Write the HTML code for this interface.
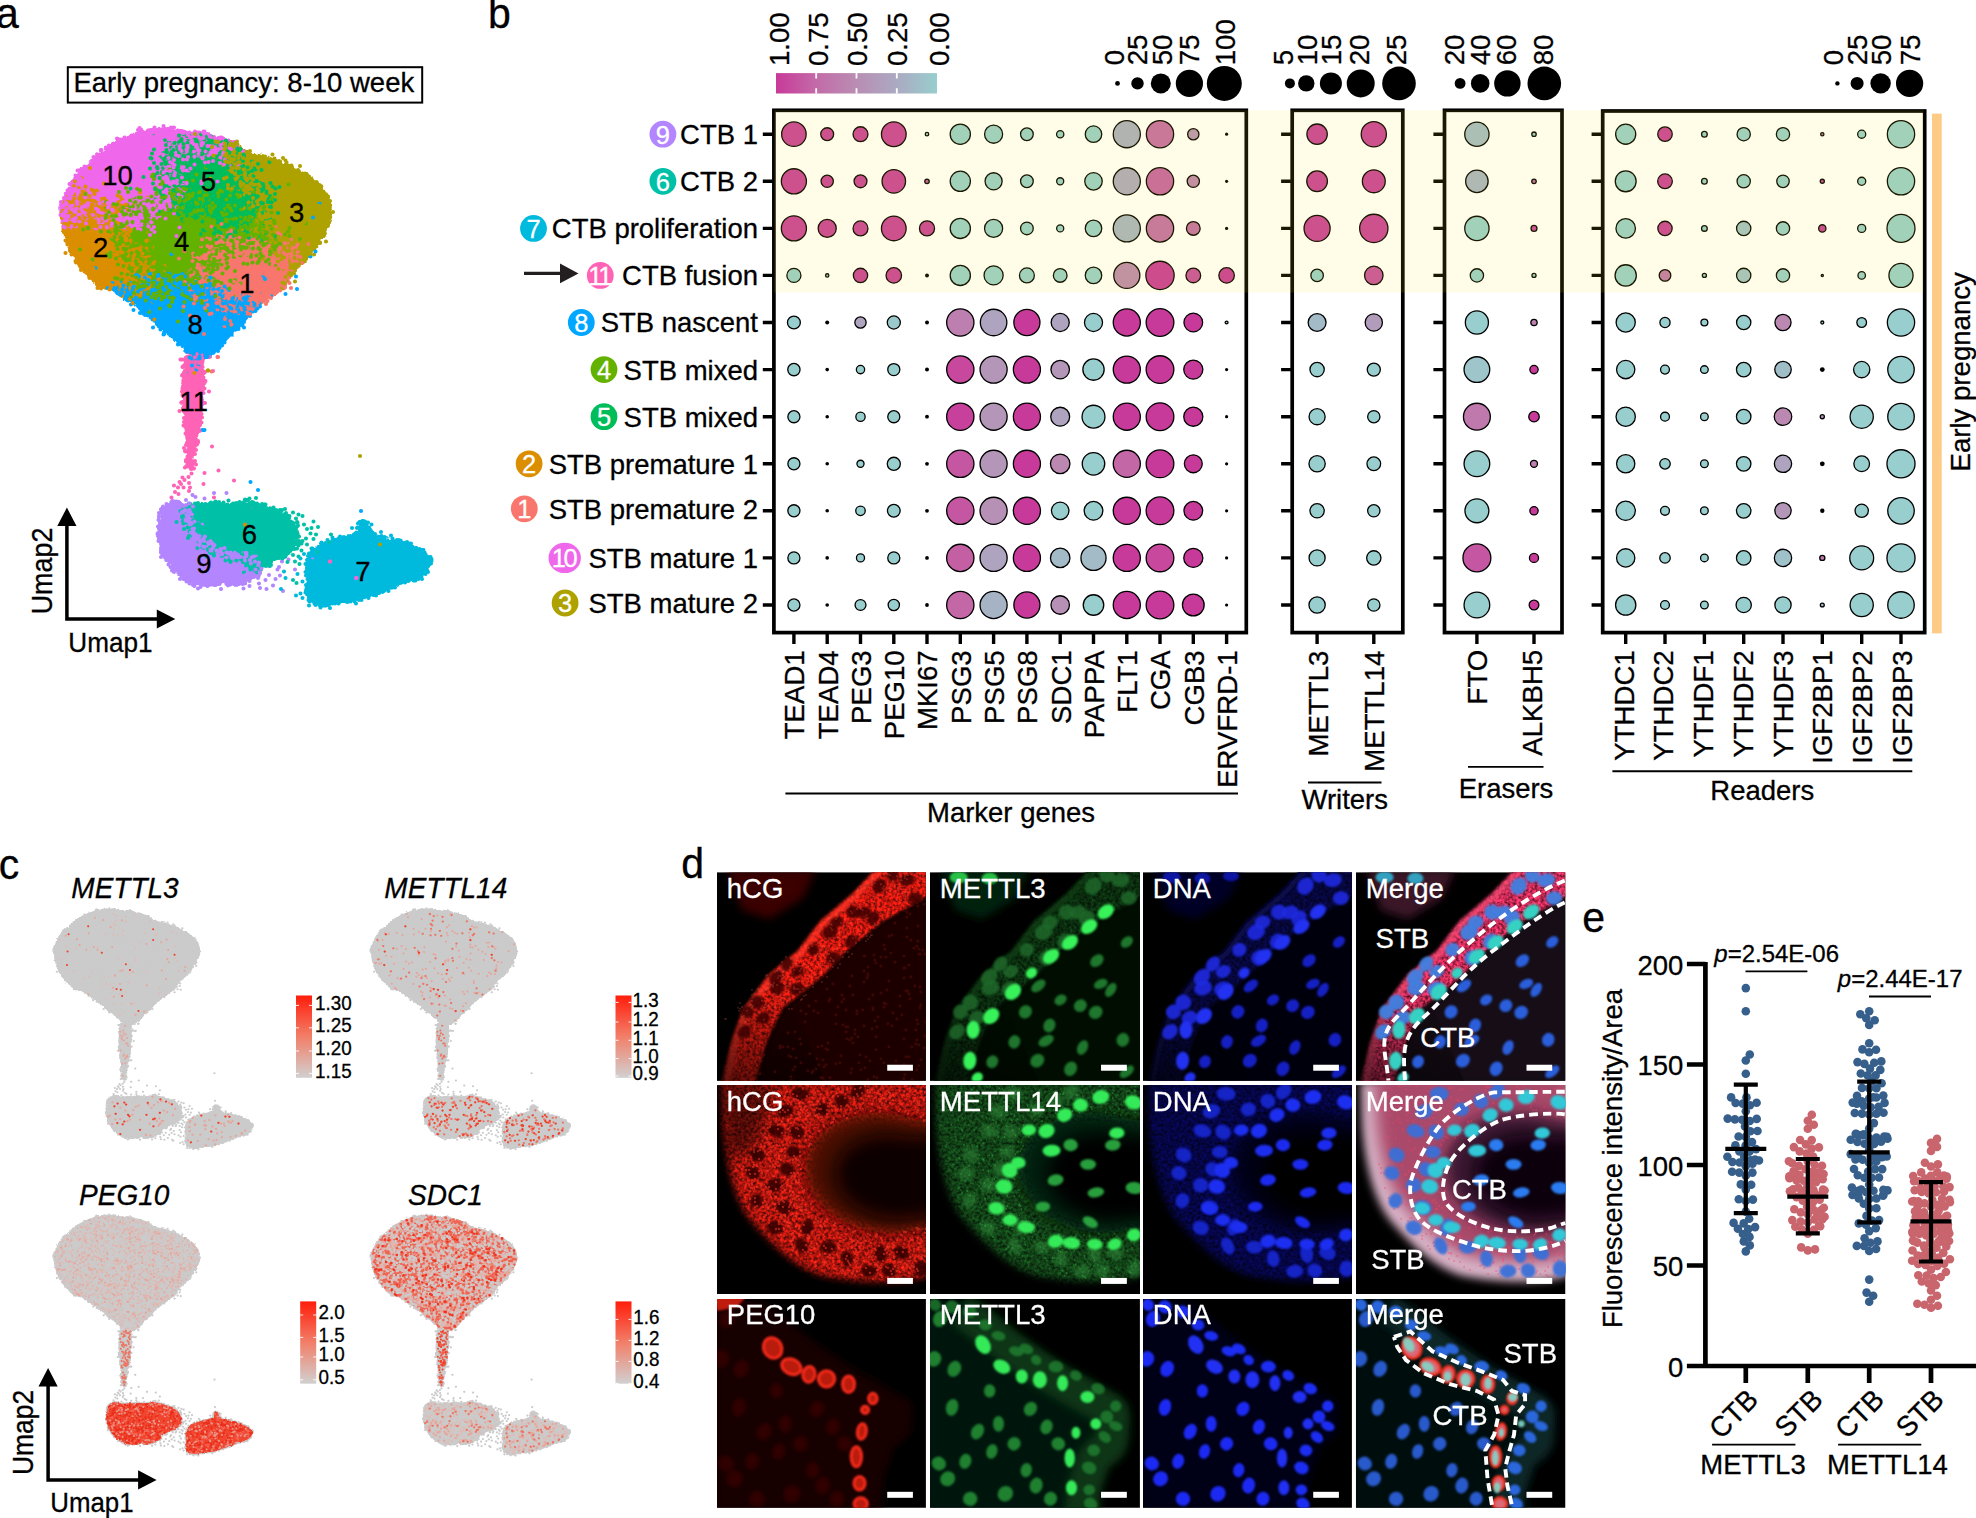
<!DOCTYPE html>
<html lang="en"><head><meta charset="utf-8"><title>Figure</title>
<style>html,body{margin:0;padding:0;background:#fff}svg{display:block}text{font-family:"Liberation Sans",sans-serif;fill:#000;stroke:#000;stroke-width:.3px}.t{font-size:27.5px}.v{font-size:27.6px}.pl{font-size:41px}.w{fill:#fff;stroke:#fff}.i{font-style:italic}</style></head><body>
<svg width="1976" height="1518" viewBox="0 0 1976 1518">
<rect width="1976" height="1518" fill="#fff"/>
<defs><filter id="rough" x="-5%" y="-5%" width="110%" height="110%"><feTurbulence type="fractalNoise" baseFrequency=".09" numOctaves="2" seed="4" result="n"/><feDisplacementMap in="SourceGraphic" in2="n" scale="13" xChannelSelector="R" yChannelSelector="G"/></filter><path id="p0" d="M151 419L187 362L258 309L350 298L450 291L542 337L614 380L635 441L589 526L518 594L436 665L400 682L329 629L251 576L187 540L144 469Z"/><path id="p10" d="M122 413L130 389L144 364L165 336L193 312L225 287L260 270L295 259L330 256L365 263L400 263L435 273L470 285L449 305L400 294L351 301L340 329L351 364L337 392L309 420L281 434L253 441L225 434L190 424L155 420L137 431L123 434Z"/><path id="d10a" fill="none" d="M299 261h0m4-1h0m6-5h0m13 5h0m13 0h0m32 3h0m-118 12h0m14-4h0m28 4h0m9 0h0m54-3h0m14-1h0m28-4h0m1-2h0m0 4h0m1 4h0m2 2h0m2-2h0m3-5h0m23 6h0m13 1h0m-201 6h0m1-2h0m15 4h0m1-3h0m0 0h0m28-1h0m1 5h0m3-5h0m3-2h0m12 9h0m22-5h0m9 2h0m4-7h0m7 1h0m24 6h0m1-2h0m10-4h0m20 1h0m6 9h0m1-7h0m7 0h0m10 6h0m3 0h0m10-9h0m7 4h0m3 5h0m6-3h0m5 3h0m6 1h0m-248 9h0m4-1h0m7-5h0m0 3h0m2 4h0m118-7h0m4 10h0m1 0h0m1-11h0m2 2h0m6 9h0m1-1h0m5-8h0m2-3h0m11 11h0m10 0h0m3 1h0m6-5h0m3-2h0m5 1h0m12 4h0m12-3h0m4 3h0m8 1h0m4-2h0m0-2h0m6-7h0m3 0h0m0 8h0m0-5h0m10 2h0m7 6h0m2-5h0m-271 15h0m7-3h0m3 5h0m6-6h0m2 2h0m14-5h0m91 3h0m13 1h0m10 5h0m1-4h0m18 5h0m4-6h0m11 3h0m38-4h0m6-3h0m1 3h0m8 1h0m3-6h0m2 4h0m3-1h0m0 6h0m3-8h0m19 4h0m-281 9h0m15-1h0m4 2h0m0-1h0m8 8h0m2-10h0m14 11h0m16-10h0m93 8h0m7-9h0m4 10h0m6-6h0m4-3h0m30 2h0m4-2h0m35-1h0m11 6h0m11 3h0m14-5h0m15-3h0m-311 20h0m12 0h0m1-1h0m7-6h0m148 4h0m10 3h0m13-8h0m13-1h0m86 12h0m-301 5h0m5 6h0m21-1h0m149-8h0m5 1h0m1 2h0m3 6h0m4-9h0m2 8h0m4-5h0m4-2h0m-203 14h0m11-1h0m12-4h0m2 10h0m133-8h0m14 10h0m24-11h0m10 10h0m-212 11h0m1-9h0m140 5h0m45 4h0m14-5h0m3 4h0m0-9h0m6 7h0m6-1h0m4-4h0m-230 19h0m12-8h0m3 1h0m5 6h0m2-7h0m2 4h0m159 3h0m14 1h0m6 3h0m2-6h0m1 2h0m3-5h0m6-2h0m2 0h0m0 1h0m-220 13h0m6-3h0m188 1h0m1 3h0m4 3h0m6 3h0m6-8h0m2 5h0m5 3h0m7-2h0m-227 4h0m1 4h0m17-4h0m3 1h0m30 2h0m29 9h0m36-4h0m31 0h0m8 3h0m17-10h0m16 10h0m22-10h0m2 1h0m21 8h0m-231 10h0m0-1h0m8-2h0m6-3h0m1 10h0m10-8h0m5-3h0m1 9h0m6-7h0m0 5h0m0 2h0m9-7h0m1 2h0m4-3h0m8 7h0m18-4h0m24 6h0m43-6h0m5 2h0m6 1h0m6-4h0m13-1h0m10 4h0m1 4h0m0-10h0m3 2h0m6 0h0m4 4h0m1-1h0m33 1h0m-242 6h0m5 5h0m4 5h0m2-6h0m4 2h0m5-7h0m2 8h0m0-5h0m3 6h0m4 0h0m1-7h0m6 10h0m0-4h0m15-2h0m3-1h0m4 7h0m1-4h0m3-4h0m5-1h0m2 1h0m1 0h0m5 1h0m13 4h0m2-8h0m21 8h0m12-7h0m19 2h0m6-3h0m0-1h0m8 11h0m6-8h0m23 7h0m1-4h0m-184 16h0m1 2h0m5-2h0m4-8h0m3 8h0m4-8h0m3 0h0m5 9h0m8-8h0m1 8h0m30-8h0m1-2h0m7 5h0m3 6h0m4-1h0m5-3h0m9 2h0m7-2h0m15-4h0m10-1h0m11-2h0m3 3h0m6 5h0m7 1h0m7-10h0m7 8h0m5-4h0m-166 19h0m14-3h0m8 1h0m46-8h0m7 0h0m1-1h0m11 9h0m29-2h0m7 0h0m1-2h0m6-2h0m1 5h0m9-4h0m4 4h0m11-3h0m12 4h0m5-9h0m-110 13h0m39 5h0m45-4h0m5 1h0m-20 12h0m92 1h0m152 539h0m155 112h0"/><path id="d10b" fill="none" d="M282 259h0m14 2h0m14 1h0m16 0h0m1-10h0m2 5h0m4 6h0m11-2h0m46 2h0m-129 11h0m8-2h0m11-3h0m16 3h0m0-5h0m14 6h0m3-9h0m5 1h0m2 7h0m0-4h0m5 0h0m2-1h0m0 6h0m6 0h0m8 0h0m11-4h0m13-4h0m8 9h0m6-1h0m0-8h0m1 9h0m0-6h0m2 7h0m5-2h0m18-2h0m4-2h0m6-1h0m4 5h0m-185 4h0m4 4h0m4 5h0m14-9h0m30-1h0m3 8h0m3 1h0m19-7h0m30 1h0m4 4h0m2-6h0m9 3h0m5-3h0m3 3h0m4 6h0m2-4h0m9 4h0m3 2h0m1-6h0m9-2h0m24 1h0m6-3h0m9 3h0m3 5h0m2-8h0m0 4h0m6-6h0m0 1h0m8 3h0m5 6h0m5-1h0m5 2h0m4 0h0m2-3h0m-259 11h0m6-4h0m5 1h0m2 6h0m34-4h0m75 0h0m12 4h0m5-10h0m1 5h0m10-4h0m11 8h0m5-2h0m4-1h0m12-2h0m14 7h0m1-10h0m4 1h0m0 7h0m4-3h0m3-4h0m4-1h0m5 10h0m3-2h0m20-4h0m8 1h0m4 0h0m2-1h0m1 2h0m-265 6h0m3 10h0m5-2h0m82-9h0m23 10h0m6-5h0m14 6h0m5-7h0m11 1h0m13 5h0m2 0h0m3-9h0m4 8h0m3 0h0m17-5h0m31-1h0m1 5h0m4-5h0m4-2h0m1 5h0m3-1h0m1 2h0m1 0h0m1 5h0m0-5h0m1 2h0m6-7h0m4 5h0m0-4h0m35-1h0m-290 20h0m8 2h0m17-10h0m9 2h0m87 2h0m18 0h0m6 1h0m1-3h0m30 2h0m30-2h0m8-3h0m7 11h0m-225 10h0m129-8h0m10 6h0m4-1h0m1-4h0m3 5h0m5-5h0m4-3h0m0 2h0m12 8h0m2 1h0m27-6h0m72-1h0m17 3h0m-311 12h0m2-2h0m1-1h0m36 0h0m133 0h0m5 5h0m5-5h0m28 1h0m-226 15h0m0-5h0m173 2h0m3 3h0m4 2h0m7-4h0m10 5h0m0-6h0m7 4h0m1-2h0m3-7h0m-214 16h0m1 6h0m11-1h0m29-9h0m1 0h0m141 11h0m4-10h0m10 7h0m5-3h0m0-1h0m1-1h0m17 8h0m8-5h0m30-3h0m32 0h0m-296 14h0m5-2h0m14 3h0m182 2h0m14-5h0m-197 9h0m6 1h0m8 3h0m31 6h0m62-3h0m3 1h0m72 2h0m12-7h0m6-3h0m-225 13h0m12 9h0m6-2h0m2-2h0m6 2h0m15-2h0m11 1h0m92 2h0m25-6h0m16 9h0m0-11h0m5 1h0m2 7h0m10 1h0m4-5h0m17 0h0m-233 9h0m9 8h0m2-2h0m2-2h0m3 5h0m18-3h0m12-5h0m2 6h0m2-2h0m8-6h0m15 10h0m7-9h0m14-1h0m18 10h0m28-11h0m32 3h0m8 9h0m1-9h0m2-2h0m9 4h0m5-1h0m1 5h0m20-8h0m13 2h0m-225 13h0m2 2h0m5 4h0m0-4h0m4 3h0m4 0h0m0 2h0m0-2h0m11-5h0m3 2h0m1 1h0m4-1h0m13 2h0m2 2h0m6-3h0m7-1h0m15-1h0m11 5h0m1-1h0m3-4h0m4 0h0m2 1h0m10-1h0m2 5h0m16-1h0m12 1h0m14 1h0m2-4h0m19-4h0m1 4h0m4-6h0m1 10h0m-157 9h0m17-4h0m3-2h0m4 6h0m26-4h0m4 1h0m4 0h0m5 3h0m3 2h0m15-6h0m0-2h0m7 8h0m1-6h0m19-1h0m1 3h0m1-3h0m1 5h0m4 2h0m4-7h0m0 9h0m14-5h0m14-1h0m6-3h0m6 6h0m3-4h0m7-4h0m-133 21h0m28-1h0m8-1h0m11 1h0m12-5h0m8 5h0m11 0h0m5-3h0m8 0h0m3-5h0m13 4h0m-153 8h0m4 10h0m106-10h0m5 1h0m48 1h0m-71 11h0"/><path id="d10c" fill="none" d="M276 260h0m3-4h0m4 8h0m53-6h0m6-3h0m6 0h0m15 7h0m44 1h0m2 0h0m-147 10h0m3 1h0m5-3h0m1 4h0m6-7h0m1-2h0m1-1h0m22 4h0m3 5h0m10-3h0m1-3h0m20 5h0m0 2h0m1-6h0m1 6h0m10 0h0m19-10h0m1 1h0m9 4h0m4 4h0m5-7h0m1 0h0m3 5h0m8 2h0m9-9h0m1 11h0m1-8h0m14 6h0m16 2h0m-202 8h0m0-6h0m5 9h0m1-3h0m0-2h0m11 0h0m11-5h0m3 3h0m6-2h0m7 5h0m15-6h0m43 2h0m1 9h0m15-10h0m30 4h0m3 6h0m14-10h0m5 9h0m25-9h0m3 6h0m0 0h0m13 3h0m15 0h0m2-2h0m5 2h0m-267 13h0m26-5h0m7-7h0m6 10h0m118-5h0m1 5h0m13 2h0m2-6h0m0-2h0m17 2h0m1-4h0m2 6h0m0 1h0m8-6h0m12 1h0m5 0h0m4 1h0m1 1h0m4 5h0m1-4h0m7 3h0m4-8h0m3 7h0m15-1h0m2-3h0m2 5h0m8-7h0m-268 9h0m9 6h0m3 4h0m1-9h0m1 1h0m2 6h0m17 3h0m90-2h0m26 1h0m5 2h0m6-10h0m11-1h0m14 2h0m8-2h0m1 7h0m2-7h0m12 2h0m6 8h0m4-6h0m0 3h0m4-6h0m4 2h0m5-3h0m12 7h0m4 2h0m2 0h0m-252 10h0m2-2h0m4 2h0m7-3h0m7 5h0m117-6h0m11 4h0m18-1h0m8 0h0m2-5h0m13-1h0m16 4h0m21 5h0m15-7h0m9 4h0m-261 11h0m0 2h0m9 3h0m4-6h0m138-5h0m5 3h0m2 8h0m2-5h0m18 4h0m43-9h0m30 1h0m8 3h0m-293 12h0m7 2h0m1-2h0m15 3h0m12-5h0m137 6h0m13-3h0m10 4h0m14-10h0m2 5h0m7 0h0m8-4h0m-220 20h0m6-7h0m4 7h0m156-1h0m5-3h0m3 4h0m14-6h0m15 4h0m-225 13h0m15 0h0m7 2h0m0-7h0m58 5h0m114-3h0m4-3h0m3 6h0m5-4h0m2 1h0m7 2h0m0-6h0m19 6h0m30 0h0m-268 14h0m13-3h0m3 2h0m25 0h0m146-5h0m11 4h0m24-1h0m8 1h0m4 2h0m-230 8h0m6-3h0m25 9h0m100-11h0m57 0h0m7 2h0m4 9h0m1-10h0m18 4h0m6 4h0m-241 11h0m6-8h0m4 9h0m6-9h0m3 1h0m14 11h0m21-2h0m21-7h0m2 8h0m16-1h0m73 1h0m7-10h0m6 6h0m2 2h0m9-4h0m0 1h0m2 2h0m15 0h0m5-3h0m5 1h0m10-5h0m-225 17h0m0-1h0m5-3h0m4 8h0m1-10h0m10 11h0m1-8h0m7 7h0m1-1h0m9 1h0m2-4h0m5-1h0m7-3h0m40 5h0m2-3h0m6 7h0m46-5h0m0 4h0m15 2h0m24-9h0m10 4h0m1-3h0m2 4h0m1-2h0m5-6h0m0 6h0m4 5h0m8-5h0m13 0h0m-232 16h0m6-3h0m3-4h0m3 0h0m16 1h0m16-1h0m5 3h0m16 4h0m10-7h0m1-2h0m7 5h0m22-5h0m13 8h0m7 0h0m2-8h0m11 7h0m43-7h0m3 10h0m1-1h0m0-4h0m5 5h0m2-10h0m35 6h0m-220 6h0m2 7h0m3-8h0m1 8h0m1-7h0m2 0h0m8 6h0m2 3h0m5-6h0m46 5h0m8-4h0m19-2h0m1 4h0m10-1h0m6-4h0m1 7h0m4 3h0m2-5h0m3-3h0m5 0h0m1 0h0m3 7h0m8-6h0m0 2h0m4-3h0m4 6h0m3-8h0m4 2h0m47 1h0m-204 16h0m45-6h0m29 7h0m13 1h0m9-5h0m1-3h0m14 6h0m9 2h0m10-7h0m3 1h0m12 0h0m4-4h0m6 5h0m21-5h0m5 9h0m51 1h0m-50 9h0m-9 6h0m412 686h0"/><path id="p2" d="M123 434L137 420L155 406L190 413L225 424L242 434L235 469L253 497L281 511L295 539L281 567L253 592L225 578L200 574L179 557L155 525L137 494L127 462Z"/><path id="d2a" fill="none" d="M208 367h0m-47 10h0m13 3h0m9-1h0m-47 14h0m14 1h0m-23 11h0m4-4h0m2-5h0m2 10h0m12-4h0m0 0h0m6 3h0m9 0h0m2-3h0m1-5h0m1 2h0m15 0h0m1 2h0m55 3h0m7-5h0m1 1h0m-113 9h0m8 9h0m0-6h0m24 7h0m8-3h0m15 3h0m2-1h0m15-3h0m3-6h0m6 10h0m5-2h0m8-1h0m20-3h0m7 6h0m-130 11h0m2-5h0m10 3h0m3-3h0m1 6h0m0-6h0m1-1h0m8-2h0m24-2h0m15 12h0m19-1h0m11 0h0m3-8h0m4 5h0m2-5h0m1 6h0m3-6h0m5 0h0m6 5h0m5 2h0m9 0h0m0 1h0m-131 4h0m3 8h0m3-10h0m0 1h0m2 6h0m27-5h0m4 2h0m38-2h0m9-1h0m4 4h0m6-4h0m6 5h0m9 0h0m10-2h0m2-1h0m3 3h0m-123 17h0m19-6h0m12 2h0m32-6h0m41 6h0m21 3h0m-107 7h0m7 2h0m82-8h0m3 11h0m8 0h0m6-7h0m8 2h0m3-4h0m15-1h0m20 8h0m-162 5h0m4-1h0m5 7h0m6-4h0m5 5h0m63 0h0m16-9h0m1 1h0m9 5h0m5-4h0m-115 11h0m1 8h0m1-5h0m8 7h0m83-6h0m20 0h0m21 4h0m25-8h0m-152 18h0m17 4h0m19-7h0m47 0h0m9-1h0m4 7h0m2-2h0m10 3h0m5-2h0m1-8h0m0 4h0m4-3h0m3 1h0m2 8h0m41-8h0m-174 11h0m12 3h0m17 5h0m5 1h0m18-6h0m22 5h0m42-9h0m5 2h0m16 5h0m20 3h0m2 1h0m3-4h0m4-6h0m-133 10h0m0 7h0m5-3h0m58 7h0m10-7h0m9 6h0m15-3h0m5 0h0m0-2h0m1-4h0m6 3h0m6 3h0m13 1h0m3 4h0m-135 2h0m2 10h0m6-11h0m2 7h0m101-8h0m4 6h0m8-6h0m1 2h0m15 1h0m4 6h0m4 2h0m-115 8h0m15 4h0m54 0h0m4-6h0m12 1h0m4-2h0m11 1h0m3 0h0m7-3h0m6 9h0m-121 9h0m7-4h0m12-2h0m8 6h0m3-3h0m9 3h0m1-7h0m4 2h0m12-2h0m21 6h0m2-3h0m2 6h0m9-9h0m10 4h0m0-5h0m1 11h0m9-3h0m0 1h0m19-5h0m2 1h0m-116 12h0m3 1h0m2 3h0m6-4h0m9 6h0m2-11h0m2 5h0m10 1h0m20 2h0m2 1h0m15-4h0m4-3h0m14 7h0m2-3h0m0 1h0m-91 6h0m35 8h0m10-5h0m19-1h0m10 2h0m0 1h0m12 0h0m-29 9h0m7 3h0m1 8h0m39 3h0m-9 16h0"/><path id="d2b" fill="none" d="M150 363h0m-2 9h0m0 16h0m11 8h0m3-6h0m17 2h0m10-4h0m52 6h0m39-9h0m15 10h0m-157 9h0m3 0h0m5 1h0m0 2h0m12-10h0m19 4h0m1 0h0m11 1h0m9 1h0m15-1h0m-80 14h0m1 2h0m23-2h0m3-1h0m2-6h0m0 1h0m2 2h0m6 2h0m26-4h0m4-1h0m5 9h0m3 2h0m1-4h0m16-4h0m3 2h0m3 1h0m10-4h0m8 0h0m-121 10h0m2 11h0m2-7h0m0 0h0m1 2h0m7-2h0m4 0h0m1-5h0m4 9h0m10-7h0m9-1h0m7 1h0m1 3h0m3 7h0m12-8h0m0 2h0m16 5h0m8-9h0m10 6h0m2 1h0m5 2h0m3-5h0m13 4h0m-100 9h0m6-3h0m23 6h0m11-9h0m10-1h0m5 8h0m4-2h0m14 4h0m7-9h0m14 1h0m-113 13h0m10-2h0m11 5h0m34 1h0m6 0h0m28 2h0m17-7h0m11 7h0m5-1h0m1-7h0m2 0h0m-115 20h0m20-6h0m60 1h0m8 6h0m26 1h0m-119 4h0m8 6h0m77 1h0m5-7h0m6 2h0m4 5h0m3-2h0m12-5h0m4 5h0m49 3h0m-171 2h0m9 8h0m4-8h0m22 9h0m73-1h0m2-1h0m3 2h0m9-9h0m5 8h0m3-4h0m3-2h0m-122 9h0m54 11h0m28-8h0m10 6h0m34-3h0m13 2h0m2-8h0m10 5h0m-142 14h0m2-3h0m19 4h0m71-1h0m12 2h0m5-9h0m12 4h0m6 6h0m2 1h0m5-8h0m-133 18h0m3-7h0m1 2h0m4 4h0m12-7h0m46 11h0m47-7h0m8 4h0m3-6h0m33 5h0m-150 6h0m2 4h0m3 2h0m5 4h0m5-11h0m5 8h0m4-3h0m2-5h0m20 8h0m38-1h0m32 2h0m9-7h0m10-2h0m1 3h0m1 4h0m2-5h0m0-1h0m1 0h0m6 6h0m-127 14h0m0-4h0m0 4h0m5 1h0m0-4h0m7 2h0m7 0h0m3-3h0m2 6h0m8-2h0m0 0h0m47-4h0m16-5h0m5 8h0m7-8h0m7 3h0m1-3h0m0 3h0m35 0h0m-149 10h0m16 7h0m6-9h0m49 9h0m3-2h0m5-5h0m8 0h0m21-1h0m1 8h0m2-8h0m2 6h0m-95 12h0m9-1h0m2 0h0m11-2h0m3 5h0m1-3h0m3 2h0m10-8h0m4 5h0m8 6h0m12-5h0m13 6h0m1-10h0m10 8h0m-56 5h0m11 6h0m6 1h0m1 1h0m7-5h0m1 0h0m6-5h0m1 2h0m2 4h0m15-6h0m18 0h0m-52 15h0m16 6h0m7-7h0m5 4h0m9-5h0m-15 16h0m123 140h0"/><path id="d2c" fill="none" d="M180 336h0m-16 19h0m-6 19h0m7 9h0m6-10h0m16 9h0m7-1h0m-24 8h0m1-4h0m0 9h0m64-3h0m-101 12h0m0 4h0m12-4h0m2-6h0m9 11h0m5-8h0m5 2h0m1 1h0m2-5h0m4 3h0m2 4h0m8-4h0m10 4h0m8-7h0m7-1h0m-60 17h0m3-2h0m3 6h0m4-7h0m2 6h0m17-8h0m4 4h0m3-4h0m11-1h0m3 5h0m11-3h0m5 8h0m8-1h0m1 2h0m1-4h0m7-4h0m2 9h0m8-6h0m10-5h0m15 2h0m-144 16h0m3-6h0m2 11h0m4-4h0m7-5h0m10 4h0m14-5h0m5-1h0m1 4h0m6 2h0m9-3h0m9 0h0m13-4h0m20 11h0m7-7h0m3 3h0m1 4h0m1-6h0m0 0h0m4 6h0m0-3h0m1-6h0m-119 14h0m15 0h0m4-2h0m15 2h0m11 0h0m16-3h0m17 9h0m5-6h0m13 8h0m0-10h0m5 5h0m-98 13h0m57 1h0m9 0h0m25-6h0m20 1h0m0 7h0m2-6h0m-102 11h0m6 6h0m0-2h0m14 4h0m85-11h0m2 1h0m3 3h0m8-3h0m5 5h0m-125 12h0m0 0h0m7-7h0m12 8h0m10 2h0m11-4h0m49-1h0m25 0h0m10-3h0m-119 12h0m1 10h0m0-1h0m11-2h0m0-2h0m11-6h0m9 0h0m53 8h0m21 2h0m4-11h0m10 1h0m11 7h0m21-6h0m-148 12h0m3 5h0m13-4h0m65 1h0m11 4h0m5-5h0m14 6h0m6 2h0m4-4h0m2 2h0m5-3h0m1 1h0m5-2h0m-134 9h0m1-1h0m6 6h0m3 0h0m3-4h0m2 4h0m70-2h0m5 0h0m10-1h0m11 3h0m11 1h0m2-3h0m30 2h0m-148 11h0m9-1h0m2 1h0m18 2h0m60 1h0m34-5h0m5 0h0m0 3h0m4-6h0m24 9h0m1 1h0m-135 11h0m9-4h0m5 3h0m41-7h0m36-1h0m65 3h0m-160 11h0m6-3h0m10 12h0m47 0h0m3-4h0m28-3h0m4 0h0m2-5h0m15 5h0m8-2h0m10-3h0m-123 16h0m15 8h0m1-10h0m2 5h0m36 1h0m1 0h0m16 3h0m14-5h0m8 2h0m10-5h0m3 2h0m8-4h0m6 3h0m18 3h0m37-2h0m-160 12h0m14 5h0m8-7h0m8 8h0m2 1h0m5-6h0m10 4h0m7-7h0m2 9h0m8-9h0m8 2h0m13 1h0m3-5h0m8 9h0m10-3h0m3 4h0m-108 1h0m24 3h0m17 3h0m8 2h0m2 1h0m14-5h0m4 4h0m2 2h0m6-2h0m10 1h0m9-8h0m15 0h0m-31 15h0m34 47h0m181 410h0"/><path id="p3" d="M449 294L470 285L498 306L533 313L575 329L610 347L638 368L656 392L663 434L652 462L635 490L610 522L586 546L582 511L554 490L540 469L526 448L519 413L498 371L470 340Z"/><path id="d3a" fill="none" d="M449 288h0m25-5h0m-32 8h0m0 8h0m10-2h0m6-9h0m2 11h0m3-3h0m0 0h0m8 0h0m0 2h0m2-2h0m2-7h0m-21 17h0m4-3h0m3-1h0m2 8h0m4 0h0m8-5h0m3 3h0m2 1h0m2-3h0m8-2h0m0 7h0m9-1h0m-61 6h0m15 7h0m8-1h0m26-9h0m1 2h0m3 1h0m22 4h0m15 2h0m6 1h0m15-6h0m2 5h0m1 0h0m6 2h0m-104 5h0m1 1h0m1-3h0m8 4h0m4-5h0m5 2h0m8 6h0m48-5h0m3 6h0m5-10h0m10 10h0m3-10h0m5 5h0m2 1h0m0 3h0m26-3h0m1 5h0m-120 8h0m11 0h0m25 0h0m10-8h0m1 1h0m41 8h0m12-5h0m18 7h0m1-4h0m5-3h0m-134 12h0m14-1h0m6 2h0m2 6h0m1-2h0m8-2h0m6 3h0m11-2h0m87-4h0m2 2h0m9 1h0m4-3h0m4-4h0m10 5h0m-145 11h0m1-3h0m9 6h0m1 0h0m1-1h0m10-2h0m4 3h0m16 0h0m2 1h0m83 3h0m3-6h0m14-5h0m12 9h0m5-3h0m5 4h0m-183 7h0m20 0h0m1 1h0m13-4h0m114 1h0m12-2h0m7 5h0m2-4h0m1 0h0m7 3h0m9-5h0m-153 17h0m24-4h0m118 2h0m6 1h0m13 6h0m-150 6h0m1 2h0m154 1h0m0-1h0m-156 16h0m2-10h0m19 6h0m83 2h0m34 1h0m7-4h0m-122 9h0m50 3h0m85-1h0m2 1h0m0 2h0m1 0h0m6-3h0m-163 10h0m4 8h0m17-7h0m95 7h0m19 0h0m5-9h0m1 2h0m8 1h0m1-4h0m4 8h0m-140 7h0m8 9h0m9-4h0m10 3h0m1-2h0m10-9h0m1 1h0m76 3h0m9 1h0m3 6h0m7 0h0m1-4h0m5-6h0m-141 22h0m5-2h0m16 3h0m13-6h0m3-3h0m61 8h0m21-6h0m1 4h0m1 1h0m13-6h0m-142 14h0m6 4h0m17-9h0m7 7h0m7-4h0m21 8h0m57-1h0m15-11h0m2 0h0m1 0h0m-134 17h0m46 3h0m7 0h0m17-3h0m0-3h0m11 9h0m17 1h0m7-3h0m3 0h0m5-8h0m2 4h0m1-1h0m3 0h0m2 5h0m3-5h0m9 1h0m-101 10h0m6 1h0m9 3h0m4-4h0m4 9h0m15-6h0m1 3h0m1-7h0m3 4h0m6 6h0m-33 5h0m35-2h0m5 1h0m14-4h0m5 2h0m6 2h0m8 1h0m-67 10h0m36 6h0m5 1h0m5-7h0m3 1h0m2-2h0m-44 21h0m9-8h0m2 3h0m7-4h0m2 2h0m4-3h0m1 5h0m-16 16h0m13-9h0m0 22h0"/><path id="d3b" fill="none" d="M437 283h0m25 1h0m-40 8h0m14-2h0m2 1h0m5 2h0m9 1h0m3-4h0m7 8h0m12-5h0m-44 17h0m8-4h0m4 5h0m12-3h0m6-6h0m3 4h0m6-3h0m25 1h0m51 5h0m-89 6h0m2 6h0m5-2h0m1 4h0m1-11h0m0 3h0m24 0h0m41-2h0m28 11h0m13-3h0m-125 9h0m25 1h0m5-6h0m4 8h0m19-8h0m4 5h0m17 6h0m1-7h0m11-2h0m3 3h0m7 2h0m3 0h0m0 4h0m0-4h0m2-3h0m5-3h0m19 8h0m2-9h0m-117 13h0m3-1h0m14 9h0m1-9h0m2 4h0m0-1h0m1 3h0m0-5h0m1 2h0m5 1h0m3-4h0m3 2h0m18 3h0m17-3h0m24-1h0m15 2h0m3-1h0m6-1h0m3 6h0m1 3h0m2-4h0m8-2h0m8 4h0m4-2h0m-177 14h0m55-1h0m5-5h0m90 2h0m25-4h0m6 2h0m12 8h0m9-1h0m-153 12h0m2-8h0m17 7h0m7-6h0m13 4h0m1 1h0m11 4h0m13-2h0m59-2h0m18 3h0m-147 6h0m24 3h0m16-2h0m72 3h0m22-8h0m12 8h0m17 1h0m7-5h0m1 3h0m-121 9h0m3-2h0m1 4h0m112-3h0m6 3h0m11-5h0m5 3h0m1 1h0m1 2h0m1 4h0m1-3h0m-150 14h0m2-6h0m5 5h0m7-8h0m0 4h0m107-5h0m11 3h0m8-2h0m1 3h0m0-1h0m4-2h0m1 0h0m3 4h0m-171 13h0m4 1h0m143 2h0m7-7h0m22 1h0m-199 20h0m34-6h0m27 4h0m9-6h0m128 4h0m-149 16h0m12-8h0m1 0h0m18 6h0m111-5h0m6-2h0m-150 19h0m2 2h0m25-3h0m6-9h0m6 9h0m1 0h0m5 3h0m85-1h0m4-3h0m2-2h0m5-1h0m2 0h0m4 3h0m-146 14h0m0 0h0m7-3h0m4 4h0m5-1h0m3-8h0m3 0h0m0 8h0m2-6h0m10 5h0m8-3h0m47 2h0m45 2h0m-111 8h0m15 4h0m3-3h0m0 0h0m4 0h0m9 3h0m73-5h0m0 3h0m2 0h0m-97 8h0m11 7h0m3-7h0m0-2h0m8 6h0m56 2h0m7-7h0m12 2h0m-96 16h0m15-1h0m6 1h0m5-8h0m12 10h0m2-8h0m0 3h0m-25 6h0m24 6h0m7 1h0m2 3h0m2 1h0m6-6h0m2 0h0m4-2h0m2 5h0m6 1h0m-43 5h0m9 1h0m2-2h0m1 9h0m6-8h0m16 8h0m1-3h0m3-4h0m-26 17h0m4-5h0m1-2h0m2 0h0m0 7h0m-16 11h0m6-1h0m10 1h0m-15 15h0m-9 15h0m-105 75h0m-43 89h0m344 348h0"/><path id="d3c" fill="none" d="M390 268h0m41 15h0m5 1h0m14 3h0m13 0h0m9-2h0m-48 9h0m25 4h0m0 1h0m2-4h0m0-3h0m9-2h0m7 2h0m0 1h0m3-4h0m0 1h0m-43 21h0m23-1h0m2 1h0m1-4h0m16-4h0m0 7h0m31-8h0m-49 21h0m3-9h0m2 10h0m7-6h0m0 5h0m4-4h0m2 0h0m8-3h0m9 0h0m24 0h0m5 2h0m12 5h0m15-4h0m9 4h0m7-1h0m8-6h0m-108 9h0m8 11h0m3-8h0m6-2h0m3 10h0m28-11h0m10 10h0m35-4h0m0 0h0m9-7h0m16 8h0m24 0h0m-139 9h0m2 2h0m2 1h0m22-5h0m3 7h0m22 1h0m28-7h0m35 4h0m10-1h0m11-3h0m9 7h0m5 0h0m-162 10h0m5-2h0m17-7h0m1 9h0m19-7h0m0 2h0m2 6h0m4-1h0m10 2h0m60-9h0m16 1h0m14 4h0m10-5h0m-150 20h0m25-6h0m0 5h0m6-1h0m7-7h0m0 11h0m9-6h0m5 4h0m122-1h0m3-5h0m-151 8h0m6 8h0m4-4h0m0 8h0m5-5h0m3-5h0m5 6h0m10-2h0m2 4h0m71-3h0m31-3h0m6 3h0m4-2h0m7-2h0m3 6h0m-159 11h0m19-5h0m16-2h0m9 7h0m0-1h0m110-4h0m3 1h0m-140 17h0m9-9h0m8 7h0m5-4h0m8 0h0m129 1h0m4 2h0m-155 11h0m2-1h0m9-3h0m7 8h0m6 0h0m1 0h0m98-2h0m27-6h0m-136 19h0m12 3h0m3-2h0m2-9h0m28 4h0m76-2h0m4 1h0m6 5h0m2-4h0m1 7h0m4 0h0m3-6h0m-147 16h0m6-8h0m5 5h0m6-5h0m9 0h0m106 2h0m-134 21h0m6-5h0m15-7h0m0 2h0m0 9h0m1-7h0m4-3h0m71 0h0m20 0h0m10 9h0m12-5h0m1-3h0m1 2h0m0 5h0m2-2h0m2 0h0m-172 8h0m25 6h0m1-1h0m5-5h0m0 3h0m20-6h0m7 1h0m8 1h0m9-2h0m-29 22h0m8-7h0m19 2h0m2 7h0m6-5h0m50-5h0m15-2h0m6 7h0m6-1h0m-96 18h0m5-7h0m26 6h0m7-4h0m1-1h0m23 5h0m15-4h0m17-1h0m12-3h0m-108 12h0m3 6h0m21-7h0m1 4h0m5 4h0m5-1h0m43 2h0m-70 5h0m3 4h0m7-1h0m6 4h0m21 1h0m-63 1h0m30 6h0m42 5h0m-41 10h0m24-2h0m1-6h0m2 3h0m3 2h0m2-3h0m1-4h0m0 10h0m2-4h0m4-4h0m-18 16h0m3 4h0m1 1h0m3-4h0m-14 7h0m-6 11h0m4 2h0m-153 174h0m304 171h0"/><path id="p4" d="M242 434L281 431L309 417L337 389L365 399L400 413L435 420L470 441L505 434L526 448L540 469L526 494L470 501L435 508L414 525L400 557L372 578L330 564L295 564L281 567L295 539L281 511L253 497L235 469Z"/><path id="d4a" fill="none" d="M324 347h0m-16 11h0m51 2h0m120-6h0m-158 15h0m53-6h0m203 6h0m-263 11h0m27-1h0m8 4h0m3-9h0m1 7h0m4-1h0m8 0h0m14-1h0m83 2h0m-224 3h0m30 11h0m9 0h0m5 0h0m55-10h0m13 10h0m19-4h0m7-1h0m2 4h0m2 0h0m94-5h0m70 7h0m-284 5h0m5 6h0m21-2h0m4 0h0m14 2h0m5-4h0m15-5h0m31 5h0m24 5h0m10-8h0m15-3h0m1 2h0m11 0h0m123 3h0m-301 17h0m7 1h0m3-1h0m7-9h0m5 3h0m16-2h0m13 5h0m33-2h0m31 4h0m8-5h0m0-3h0m24 5h0m11 4h0m9-7h0m4 1h0m10-1h0m42 5h0m23 2h0m13-8h0m1 9h0m15-1h0m-249 13h0m3-5h0m0-4h0m6 2h0m7 5h0m7-5h0m11 5h0m1-2h0m2-2h0m2 2h0m18-4h0m1 2h0m15-5h0m13 0h0m34 7h0m33 1h0m14-2h0m16-5h0m9-2h0m1 2h0m-214 13h0m0 9h0m12-9h0m4 8h0m33-4h0m1-6h0m75 6h0m26 4h0m15-5h0m11-5h0m37 1h0m7 0h0m1 0h0m3 10h0m3-11h0m10 0h0m11 5h0m6-2h0m29 4h0m20 1h0m-330 10h0m34-6h0m5 9h0m2-5h0m9-1h0m0 6h0m1 2h0m107-8h0m71 6h0m47-4h0m0-5h0m7 3h0m25 3h0m1 0h0m1-5h0m14 7h0m38 3h0m-413 3h0m58 7h0m9-7h0m20 9h0m46-3h0m13-6h0m143-1h0m50 1h0m1-2h0m14 2h0m10 8h0m5-3h0m-310 15h0m7-4h0m3 1h0m4 2h0m2-2h0m1 3h0m5-10h0m4 4h0m8 3h0m4-6h0m7 2h0m5 8h0m177-5h0m53-6h0m14 5h0m7 0h0m74 4h0m-370 6h0m17 1h0m2-5h0m4 8h0m5-2h0m1 0h0m2 2h0m27 3h0m3-3h0m120 4h0m33-8h0m1 4h0m18-5h0m5 5h0m4 2h0m10-8h0m19 4h0m4 3h0m6 0h0m0-3h0m7 4h0m-255 5h0m5-2h0m13 0h0m3 1h0m18 0h0m115 2h0m5-1h0m21 8h0m0-2h0m6-8h0m12 7h0m9-3h0m3 6h0m10-5h0m15-3h0m9 8h0m1-11h0m6 3h0m2 3h0m8-3h0m1-2h0m65 1h0m-360 14h0m14 3h0m15-1h0m4-5h0m10 9h0m17-6h0m24 4h0m97-5h0m10 1h0m16 5h0m11 0h0m14-9h0m5 7h0m0-6h0m1 9h0m0-7h0m6 1h0m7 3h0m8-4h0m54-2h0m13-1h0m-371 15h0m70 1h0m3-4h0m6 5h0m15-2h0m6 0h0m25 8h0m3-6h0m52 4h0m13-9h0m8 9h0m21 0h0m22-4h0m2-2h0m7 7h0m14-8h0m43 10h0m20-2h0m17-3h0m-274 14h0m3-6h0m5 6h0m12 1h0m47 2h0m5-2h0m11 0h0m44 0h0m30-2h0m12 3h0m4-1h0m25-5h0m-213 14h0m20 0h0m7-2h0m2 3h0m14-2h0m1 1h0m31 1h0m1-6h0m6 6h0m17-2h0m6-4h0m38-1h0m7 6h0m5-2h0m9 5h0m3-8h0m4 4h0m3 4h0m6-9h0m-161 18h0m10-6h0m8 6h0m10 0h0m3-1h0m6-1h0m10-5h0m22 5h0m22 2h0m10-4h0m3 0h0m0-3h0m46 9h0m15-7h0m-126 18h0m18-7h0m3 11h0m2-4h0m6-6h0m10 1h0m7 8h0m3-8h0m6 3h0m2 4h0m3 0h0m18-3h0m28 3h0m25-6h0m-134 14h0m9 6h0m4-5h0m2-3h0m25 6h0m2-3h0m7-3h0m7 3h0m11-5h0m1 9h0m9-10h0m16 7h0m-110 10h0m41-4h0m7 4h0m16 4h0m3-3h0m17-6h0m4 2h0m28-1h0m44 5h0m26-2h0m-176 8h0m102 0h0m57 0h0m-84 21h0"/><path id="d4b" fill="none" d="M412 335h0m-73 4h0m-35 14h0m2-4h0m15 8h0m-63 8h0m16 13h0m37-2h0m14 0h0m15 6h0m10-1h0m3-2h0m58-1h0m74-1h0m-229 7h0m75 10h0m19-5h0m5 1h0m1-4h0m6 7h0m3-1h0m3-7h0m32-1h0m37 10h0m-225 10h0m70 3h0m40-3h0m6 3h0m18-2h0m8-2h0m18-2h0m6-4h0m11 2h0m4 7h0m3-10h0m1 4h0m10 5h0m9-6h0m-205 18h0m22-6h0m42 3h0m12-3h0m3 6h0m1 2h0m16-3h0m1 2h0m3-7h0m7 4h0m12 2h0m1-6h0m0-3h0m5 7h0m25-5h0m6 1h0m6 8h0m9-6h0m2 6h0m6-1h0m19-10h0m14 5h0m7-1h0m20 6h0m5-2h0m1-5h0m4 1h0m4 4h0m-246 8h0m18 7h0m0-8h0m12 6h0m10-8h0m15 2h0m1 0h0m7-1h0m18 9h0m6-9h0m14 6h0m19-4h0m0 5h0m6-6h0m22 4h0m3 2h0m3 2h0m79-10h0m0 1h0m4 6h0m4-5h0m16-1h0m3 6h0m2-1h0m28-2h0m-224 15h0m2 0h0m4-8h0m6 7h0m11 1h0m1-6h0m66 2h0m3 5h0m40-2h0m2 3h0m36-8h0m4 7h0m5-5h0m5 0h0m22-1h0m4 5h0m-267 7h0m5 4h0m14-2h0m5-2h0m26-1h0m13-2h0m46 8h0m37-3h0m33 5h0m27-8h0m4 5h0m4-5h0m1 7h0m3-1h0m14 1h0m14 2h0m31-7h0m1 7h0m15-8h0m12-1h0m4 8h0m75-7h0m-437 9h0m2 0h0m40 7h0m14-5h0m2 9h0m4-11h0m31 9h0m53-1h0m92-6h0m21 3h0m43-4h0m11 0h0m10 1h0m9 4h0m1 4h0m3-5h0m19 2h0m13-6h0m-320 20h0m4 0h0m14-2h0m4 3h0m164-9h0m41 4h0m15 6h0m12-11h0m41 5h0m31-1h0m2 7h0m28-7h0m-350 18h0m5 0h0m5-1h0m18-2h0m10-7h0m0 3h0m0 4h0m18 2h0m144 2h0m4-2h0m8-2h0m32-6h0m15 1h0m9 9h0m1-1h0m29-5h0m27-3h0m4 6h0m-308 12h0m2-1h0m4-1h0m6-4h0m6 3h0m6 3h0m27-1h0m113 1h0m4-5h0m44 2h0m44 2h0m37-1h0m-322 13h0m16-1h0m14 4h0m2-5h0m9 3h0m4-2h0m7-5h0m2 6h0m1 3h0m32-2h0m4 4h0m6-3h0m72-3h0m33-2h0m30 4h0m5-6h0m0-1h0m35 5h0m9 0h0m18 6h0m6-3h0m14-4h0m11 4h0m2-2h0m-305 6h0m3 3h0m8 0h0m14 5h0m2 0h0m3-1h0m5-7h0m3 2h0m14-1h0m3 3h0m4 6h0m67-3h0m4 0h0m29-2h0m17 3h0m4-7h0m6 9h0m1-4h0m6-2h0m96-2h0m3 9h0m-258 6h0m17 5h0m4-4h0m5-1h0m26 0h0m19 2h0m24 0h0m24-1h0m8-6h0m12 0h0m13 9h0m9-9h0m108 3h0m-296 17h0m10 3h0m10-7h0m3-3h0m18 10h0m3-3h0m23-4h0m5 6h0m20-4h0m3-4h0m21 9h0m4-5h0m39 5h0m11-8h0m-181 15h0m47 5h0m2-8h0m1 8h0m4-2h0m38-3h0m4-1h0m25-2h0m7 6h0m6-3h0m8 4h0m19-6h0m5 0h0m11-5h0m8 2h0m7 9h0m25-2h0m9-1h0m-194 6h0m5 0h0m11 0h0m4-1h0m9 4h0m0-3h0m28 8h0m10-2h0m8-1h0m3-2h0m8-2h0m46-1h0m19 4h0m16-4h0m24-1h0m14 2h0m-215 12h0m8 7h0m43-3h0m6 0h0m22-5h0m48 2h0m9 6h0m2-1h0m-142 8h0m34-5h0m7 6h0m8 3h0m2-5h0m10 7h0m8-11h0m8 7h0m-1 16h0m6-7h0m25 0h0m35 2h0m9 15h0m-115 3h0"/><path id="d4c" fill="none" d="M393 349h0m-68 18h0m0-3h0m61-3h0m-134 15h0m28 4h0m75-1h0m7 5h0m5-7h0m5 2h0m40 2h0m28 0h0m4 2h0m-273 5h0m132 5h0m10-7h0m0 2h0m10 7h0m8-1h0m9-8h0m4 7h0m4-5h0m12 7h0m18-6h0m6 3h0m2-5h0m12-2h0m11 6h0m5-1h0m22-4h0m24 5h0m17 3h0m31-10h0m-237 20h0m25-3h0m8 3h0m45-6h0m11 3h0m9 1h0m4-3h0m19 6h0m1 3h0m6-10h0m26 8h0m28-7h0m-226 9h0m7 1h0m12 6h0m20-2h0m23 6h0m17 0h0m31 0h0m19-4h0m9 0h0m30-7h0m31 9h0m34-1h0m10-5h0m12 8h0m45-3h0m2-2h0m-316 16h0m31-7h0m3 5h0m1 1h0m4-1h0m9 2h0m1-1h0m10-1h0m21-5h0m21 6h0m12 0h0m22-8h0m14 4h0m26-1h0m5-1h0m2-2h0m1-1h0m4 1h0m5-1h0m15 1h0m2 3h0m22 1h0m3 5h0m6-2h0m10-7h0m80 4h0m-332 11h0m13-4h0m3 8h0m4-8h0m1 0h0m33 12h0m46-2h0m9-3h0m28-2h0m21 3h0m47-4h0m12 5h0m23-2h0m1 4h0m18-6h0m2 0h0m17 2h0m2-4h0m6 6h0m3-6h0m0-2h0m7 9h0m41 0h0m-315 12h0m7 0h0m3-6h0m3 5h0m8-7h0m36 3h0m49 4h0m74 2h0m23-3h0m46 3h0m0-11h0m8 7h0m20 0h0m9 1h0m8 2h0m22-8h0m-347 17h0m28 0h0m1-4h0m2 2h0m40 4h0m4-1h0m117 2h0m84-4h0m15-6h0m10 8h0m0 0h0m15-4h0m14 4h0m11-6h0m33 5h0m-347 11h0m35-5h0m11 1h0m28 9h0m135-4h0m11-6h0m1 11h0m33-12h0m15 2h0m8-1h0m1 3h0m4-3h0m1 0h0m3 8h0m6-9h0m2 5h0m5-1h0m0 6h0m6-1h0m12-8h0m24 0h0m-331 15h0m1 3h0m2-6h0m30 9h0m10-10h0m119 9h0m12-8h0m49 0h0m3 1h0m35 4h0m6 0h0m21 5h0m26 1h0m8-4h0m-401 11h0m75-1h0m12-1h0m5 2h0m22 4h0m15-2h0m20-1h0m124 0h0m8-3h0m7-1h0m6 0h0m2 4h0m25-6h0m1 5h0m4-5h0m5 2h0m1 0h0m1-1h0m13 2h0m11-1h0m3 3h0m20 4h0m6-10h0m3 6h0m-335 10h0m6 5h0m1-9h0m24 7h0m7-4h0m11-2h0m30 1h0m3 0h0m7 0h0m43-3h0m51 4h0m22 6h0m13-6h0m18 2h0m52 4h0m11-3h0m8-4h0m3 5h0m-292 5h0m21 4h0m19 1h0m10-4h0m15 9h0m17 1h0m104-6h0m12 6h0m24-2h0m1-10h0m32 11h0m18-2h0m13-3h0m-282 7h0m11 3h0m27-3h0m7 11h0m46-6h0m17 5h0m29-3h0m1-6h0m14 1h0m29 0h0m0 7h0m7-8h0m2 4h0m9 1h0m0-6h0m18 8h0m3-3h0m-192 8h0m17 0h0m15 0h0m19-1h0m7 0h0m1 1h0m7 5h0m4 3h0m3-10h0m1 11h0m12-8h0m22-1h0m11 2h0m38 2h0m24 1h0m25-5h0m-240 14h0m5 1h0m38-2h0m11 8h0m24-7h0m15 5h0m14 0h0m17-1h0m6-6h0m4-1h0m17 9h0m4-3h0m1-3h0m5-2h0m6 3h0m20 4h0m12 1h0m4 1h0m28-1h0m-204 6h0m11-3h0m7 10h0m2-4h0m3 2h0m6-1h0m6 0h0m14 0h0m2-6h0m7 9h0m2-3h0m3-4h0m5-1h0m44 2h0m10 7h0m9-9h0m16 6h0m23-4h0m-159 17h0m67-1h0m3-4h0m121-4h0m-141 13h0m5 3h0m23 2h0m29-1h0m7 5h0m23-11h0m26 4h0m-28 10h0m-83 15h0m20-4h0m16 30h0"/><path id="p5" d="M351 301L400 291L449 294L470 340L498 371L519 413L505 434L470 441L435 420L400 413L365 399L337 389L351 364L340 329Z"/><path id="d5a" fill="none" d="M308 272h0m59-4h0m14 7h0m8 0h0m7-1h0m16 1h0m7-1h0m-89 6h0m11 7h0m11 0h0m6-1h0m15-4h0m3 0h0m11-3h0m6 9h0m0-2h0m19-8h0m3 10h0m3 0h0m11-1h0m0-3h0m1-1h0m2 1h0m13-1h0m5 2h0m-108 10h0m9-3h0m8-1h0m1 4h0m9 0h0m12-7h0m0 7h0m1-4h0m3-2h0m4 4h0m2 4h0m6 0h0m1-6h0m7 6h0m7 1h0m14-8h0m18 9h0m2-4h0m1-2h0m1 7h0m1-1h0m8 1h0m-123 12h0m8-4h0m4-7h0m5 10h0m0-5h0m3-4h0m6 0h0m2-2h0m6 10h0m16 0h0m0-10h0m3 1h0m7 1h0m6 0h0m1 6h0m5 3h0m0-10h0m1 8h0m3-8h0m5 5h0m9-1h0m14 3h0m1-1h0m3 2h0m0 3h0m10-6h0m2-2h0m3 0h0m2 2h0m7 0h0m0-4h0m-146 12h0m10 7h0m8 1h0m6-4h0m4 5h0m4-7h0m6 4h0m53-8h0m4 7h0m20-6h0m1 0h0m14 10h0m14-5h0m12-2h0m5 1h0m4-1h0m-171 18h0m18-2h0m2-6h0m9-1h0m1 0h0m5 0h0m12-1h0m82 5h0m3 1h0m5 2h0m8-7h0m18 3h0m3 8h0m4-2h0m11 1h0m8-5h0m-177 6h0m19 9h0m0 3h0m24-12h0m1 5h0m87 7h0m4-3h0m4 2h0m5 0h0m1 1h0m18-7h0m2 6h0m17-5h0m-199 8h0m0 2h0m36 0h0m3 5h0m1-1h0m3-3h0m9 1h0m7 3h0m3 1h0m82 1h0m1-9h0m0 6h0m24-4h0m0-3h0m1 8h0m4-4h0m11 2h0m9 3h0m-174 13h0m6-10h0m1 11h0m2-5h0m6-6h0m10 8h0m2-6h0m3 7h0m0-8h0m67 0h0m5 8h0m36-7h0m8-2h0m12 0h0m5 6h0m3 4h0m1-7h0m24 2h0m-194 6h0m12 1h0m2 9h0m9 1h0m4-7h0m9 6h0m7-10h0m28 7h0m21 1h0m48-6h0m2 2h0m24-4h0m1 3h0m4 6h0m12-9h0m3 10h0m2-5h0m9 3h0m10 3h0m12-10h0m6 4h0m8-3h0m-235 17h0m18 2h0m8 1h0m1-1h0m11-2h0m3-5h0m6 5h0m4 4h0m5 0h0m4-10h0m67 6h0m19 0h0m13-2h0m6 6h0m7-8h0m16 5h0m21-6h0m7 6h0m-184 8h0m16 4h0m7 2h0m6 0h0m7-1h0m9 3h0m1-12h0m10 2h0m6 8h0m17-5h0m19 0h0m42 1h0m7 5h0m3-8h0m1 5h0m29 0h0m1-6h0m3 6h0m0-3h0m-207 13h0m16 3h0m6-3h0m0 2h0m21 2h0m3-3h0m12-1h0m8 4h0m2-10h0m6 3h0m1 1h0m4 5h0m4-9h0m15 10h0m9-6h0m1 0h0m3 5h0m2 1h0m2-3h0m13 4h0m3-4h0m10 1h0m15-7h0m9 1h0m8 2h0m4 1h0m2-4h0m28 5h0m-187 11h0m4 4h0m14-9h0m12 5h0m22 2h0m10-5h0m1 6h0m20-1h0m2-1h0m6 1h0m1-6h0m0-1h0m7 8h0m8-5h0m32 4h0m16-7h0m1 5h0m16-4h0m6 2h0m3 7h0m-168 11h0m19-9h0m4 0h0m6 2h0m44 0h0m4 5h0m6 1h0m4-5h0m8 1h0m2 2h0m15 0h0m9 5h0m8-2h0m9-2h0m3-6h0m33 4h0m-97 14h0m9-4h0m0 5h0m10-2h0m9-4h0m8-1h0m15 9h0m11-10h0m3 7h0m-98 10h0m18 6h0m46-9h0m22 7h0m26-2h0m-120 5h0m32 11h0m23-9h0m71 8h0"/><path id="d5b" fill="none" d="M358 271h0m44-2h0m9 4h0m12 0h0m-85 11h0m20-1h0m3-1h0m2-4h0m12 8h0m16-1h0m1-9h0m1 5h0m8-2h0m8 0h0m38 7h0m11 1h0m-150 12h0m24-9h0m15 10h0m7-6h0m13 2h0m22-2h0m1-3h0m3 6h0m4-3h0m1 1h0m8 4h0m1-7h0m3 1h0m6 6h0m4-9h0m22 7h0m13-4h0m0 7h0m6-8h0m3 4h0m0-1h0m17 3h0m-147 7h0m9 2h0m0-3h0m1 5h0m0 0h0m2 1h0m3 1h0m9-9h0m20 7h0m3-9h0m6 2h0m1-1h0m1 0h0m7 4h0m7 0h0m7-4h0m21 0h0m8 9h0m1-4h0m14-4h0m5 3h0m13 2h0m3-6h0m4-1h0m8 9h0m-186 7h0m26 2h0m3 6h0m3-10h0m5 9h0m1-9h0m3 9h0m0-5h0m18 3h0m9-4h0m40 7h0m16-12h0m1 9h0m8-8h0m5 7h0m24 2h0m2-7h0m39 8h0m-181 5h0m14-2h0m12 9h0m0-8h0m2 0h0m3 1h0m0 1h0m3-4h0m0 8h0m25 1h0m32-2h0m5 0h0m29-6h0m4 9h0m3-5h0m5-6h0m11 0h0m16 8h0m52-8h0m-224 13h0m26 7h0m13 1h0m1-8h0m4 4h0m87-1h0m1 7h0m15-3h0m1 2h0m2-6h0m12 5h0m6-2h0m2 0h0m2-1h0m17 0h0m5-5h0m14 3h0m-236 14h0m53 3h0m12-2h0m0-3h0m0-1h0m2-1h0m0 6h0m1-4h0m4 5h0m4-3h0m4 4h0m49-8h0m10 1h0m25 0h0m3 3h0m15-5h0m1 7h0m13 3h0m8-7h0m1-2h0m15 2h0m-176 18h0m18 1h0m12-7h0m68 6h0m40-3h0m3 0h0m8-6h0m0 0h0m2 2h0m6 0h0m5 5h0m11-3h0m3 6h0m3-10h0m16 7h0m1 4h0m14-6h0m-280 11h0m63 5h0m4-8h0m18 9h0m1-3h0m8-2h0m7 5h0m3-9h0m1 9h0m2-7h0m0 3h0m1 0h0m6-5h0m134 5h0m14 3h0m2-2h0m-204 6h0m7 0h0m1 1h0m15 2h0m3-3h0m2-1h0m2 11h0m9-2h0m1-1h0m31 2h0m0-5h0m22 4h0m80-3h0m11-2h0m6-2h0m3 8h0m-219 3h0m50 2h0m1-4h0m5 12h0m0-3h0m14-1h0m0 2h0m0 2h0m8-5h0m21 2h0m1-6h0m5 5h0m10 3h0m15 1h0m2-8h0m5-2h0m3 7h0m7-8h0m3 10h0m2-7h0m23 4h0m15 1h0m4 2h0m7-2h0m2 0h0m1-9h0m2 3h0m1-1h0m3-2h0m1 1h0m4 8h0m2-1h0m4-1h0m8 4h0m12-4h0m7 2h0m7-5h0m-208 19h0m22-11h0m9 6h0m8 0h0m4 0h0m8 1h0m3 0h0m2-5h0m9 3h0m0 6h0m16-1h0m38-4h0m7 3h0m3 2h0m7 1h0m3-8h0m19-3h0m10 1h0m7 2h0m-199 10h0m43 5h0m1-5h0m6 2h0m7-1h0m22 0h0m1 3h0m16-3h0m3 7h0m12-2h0m3 2h0m1-6h0m2 1h0m1 5h0m8-1h0m0-1h0m0-6h0m8 4h0m1 5h0m8-1h0m10 0h0m3 1h0m1-7h0m6 0h0m9 7h0m4-3h0m2-4h0m0 4h0m60-2h0m-192 12h0m52-3h0m22 0h0m0 5h0m7-8h0m13 1h0m3 11h0m15 0h0m8-3h0m13-5h0m3 1h0m0 5h0m-55 11h0m8-3h0m4 1h0m10-4h0m5 3h0m3 4h0m15 0h0m4-6h0m35 3h0m5-4h0m-128 13h0m24-3h0m1 6h0m101 4h0m-67 8h0m60 4h0"/><path id="d5c" fill="none" d="M374 272h0m4 1h0m1-2h0m-30 15h0m5-8h0m4 4h0m5-1h0m4 7h0m23 0h0m1-10h0m1 8h0m3-1h0m17 2h0m5-2h0m1-5h0m6 1h0m9 4h0m1-3h0m7 4h0m8-1h0m3-4h0m1 2h0m-71 9h0m3 7h0m3-9h0m1 1h0m2 4h0m4 2h0m12-7h0m8 1h0m6 3h0m0-1h0m2-5h0m3 6h0m11-3h0m0 4h0m4-4h0m0 0h0m1 8h0m1-11h0m5 7h0m0 1h0m5-5h0m8 1h0m13 4h0m-170 11h0m23-1h0m6-6h0m0 1h0m8 8h0m3-1h0m13 2h0m1-3h0m7-4h0m2-1h0m5 10h0m3-1h0m13-10h0m4 7h0m2 1h0m5-9h0m14 3h0m6 1h0m34 6h0m35 2h0m-185 5h0m29-2h0m3 1h0m3 1h0m5 5h0m2 1h0m6 0h0m7-6h0m8-5h0m23 0h0m4 6h0m5 1h0m15-5h0m40 7h0m14 2h0m4-4h0m15 3h0m-178 4h0m23 2h0m13-1h0m3 0h0m2-3h0m2 12h0m2-10h0m0-2h0m20 0h0m60 2h0m21 7h0m9-8h0m4 5h0m15 4h0m34-6h0m0 6h0m-216 3h0m15 9h0m9-2h0m22-8h0m2 10h0m5 0h0m1-5h0m7 4h0m17-7h0m42 7h0m16-8h0m20 0h0m11 6h0m11-2h0m1 5h0m1-6h0m3 4h0m4-5h0m10 6h0m14-6h0m-192 17h0m8-5h0m7-3h0m1 9h0m0-7h0m12 6h0m8 3h0m3-6h0m9 5h0m3-9h0m8 2h0m30 7h0m1-5h0m44-2h0m9 0h0m2 3h0m3 2h0m15 3h0m1-4h0m7-5h0m6 7h0m-190 10h0m30-6h0m3 3h0m14-1h0m23 8h0m90-7h0m8 6h0m2-6h0m14-2h0m3 1h0m5-1h0m7 10h0m3-10h0m6 0h0m-204 16h0m9 4h0m6-5h0m11 5h0m18-9h0m4 9h0m11-4h0m10 3h0m97-5h0m40 3h0m7 1h0m4-3h0m-198 9h0m3 2h0m18-2h0m2 5h0m6 2h0m2 3h0m6-6h0m28-6h0m6 8h0m52 0h0m6-2h0m39 2h0m7-5h0m2-1h0m8 4h0m2 3h0m34-5h0m-239 11h0m16 4h0m2-3h0m15 1h0m2-2h0m2 6h0m13-7h0m6 7h0m5-7h0m1 8h0m4 0h0m9-6h0m10 5h0m3-8h0m1 10h0m14-1h0m0-8h0m24 9h0m4 0h0m2-1h0m35 0h0m10-5h0m3 2h0m17-5h0m2 8h0m6 1h0m6-4h0m3 3h0m-189 14h0m15-9h0m4 5h0m3-4h0m15 2h0m4 4h0m1-2h0m1-5h0m2 8h0m7-10h0m2 3h0m4 8h0m2-9h0m26 9h0m16-1h0m8-8h0m16 8h0m1-4h0m4 2h0m15-4h0m30 1h0m0-3h0m15 5h0m14-2h0m-171 8h0m3 9h0m1-11h0m0 3h0m14 3h0m1 1h0m37 0h0m0 0h0m0 2h0m2-1h0m0 3h0m0-7h0m5 2h0m7-2h0m2-2h0m12-2h0m3 4h0m11-2h0m6 6h0m8 0h0m10 1h0m11-1h0m3-7h0m1 8h0m16-3h0m9-5h0m-142 15h0m14 7h0m10-9h0m10-1h0m8 5h0m9 6h0m4-7h0m16-5h0m7 1h0m2 8h0m0-1h0m4-7h0m19 9h0m5-2h0m1-3h0m4 4h0m28 1h0m-96 4h0m9 4h0m5 3h0m3 0h0m16-3h0m3 0h0m1-5h0m12 5h0m4-6h0m24 7h0m4 3h0m-80 9h0m5 3h0m27-2h0m6-1h0m10-3h0m5 1h0m-37 13h0m8-5h0m37 7h0m22-3h0m31-1h0m-114 8h0"/><path id="p1" d="M414 525L435 508L470 501L526 494L554 490L582 511L586 546L568 574L540 595L516 613L488 609L453 606L428 588L400 574L400 557Z"/><path id="d1a" fill="none" d="M423 453h0m8 9h0m25 4h0m35-8h0m45 6h0m0-2h0m4-3h0m-120 19h0m14-1h0m23 3h0m2-8h0m56 0h0m30 3h0m2-6h0m13 10h0m1-10h0m2 7h0m19 3h0m59-8h0m-194 13h0m15-3h0m23 9h0m3 2h0m0-4h0m1-5h0m6-2h0m4 9h0m0-2h0m5-1h0m6-7h0m1 4h0m11 7h0m1 0h0m32-11h0m9 7h0m-162 6h0m29 5h0m13-3h0m10-3h0m6 1h0m20 9h0m8-7h0m0 9h0m3-7h0m0 5h0m3-9h0m2 6h0m21-2h0m2 0h0m4 2h0m20 0h0m5-5h0m17 9h0m6 0h0m8-9h0m7 0h0m-200 13h0m1 6h0m17 1h0m8-3h0m1 1h0m9 1h0m1-2h0m8 3h0m9-2h0m4-4h0m7 2h0m5 0h0m2-5h0m8 8h0m18 1h0m10-5h0m19-1h0m8 0h0m10 1h0m10 3h0m7-8h0m9 5h0m25 1h0m2-1h0m1-3h0m13 0h0m-192 11h0m6 0h0m11 9h0m3-9h0m2 0h0m8 0h0m26 8h0m15-3h0m3-4h0m7 3h0m36-2h0m4-1h0m10 0h0m45 7h0m1-4h0m9-5h0m-194 14h0m3 9h0m17-2h0m1-9h0m14 6h0m2-6h0m26 2h0m10 8h0m8-3h0m45-3h0m32 7h0m15-5h0m16 2h0m4 0h0m2-3h0m-211 17h0m17-7h0m9 7h0m13-8h0m3 1h0m3 5h0m1 1h0m15 0h0m110-5h0m29 0h0m-201 13h0m4 0h0m18 0h0m5 3h0m5-4h0m42 1h0m95-2h0m7 7h0m1-5h0m2 4h0m4 1h0m8-4h0m3 3h0m0-5h0m-174 9h0m9 2h0m1 6h0m2 3h0m4-4h0m22 0h0m44 0h0m39-5h0m15 7h0m27-6h0m5-1h0m10-1h0m3 10h0m-209 8h0m11 1h0m10-7h0m8 8h0m5-8h0m0 5h0m16 1h0m5 3h0m17-5h0m7 3h0m13 3h0m7-1h0m21 0h0m2-6h0m17 6h0m5 0h0m6-3h0m1-2h0m3 4h0m17-8h0m3 4h0m4 4h0m16-9h0m-179 13h0m2 6h0m23 3h0m27-4h0m9-5h0m1 7h0m0-5h0m15 4h0m12-5h0m2-1h0m20 4h0m1 1h0m10 5h0m16-7h0m2 3h0m-90 8h0m1 0h0m4 3h0m5-6h0m2-1h0m14 2h0m7 1h0m0-1h0m15 9h0m1 0h0m40-10h0m-81 20h0m10-7h0m1 2h0m1 4h0m5-1h0m1 0h0m2-2h0m8-4h0m3 0h0m-97 18h0m43-4h0m26 3h0m43 0h0m2-1h0m0 4h0m-44 5h0m24 1h0m-25 15h0m-41 14h0"/><path id="d1b" fill="none" d="M531 452h0m21 3h0m-108 12h0m20-3h0m15 0h0m23-3h0m29 7h0m-127 11h0m39-10h0m12 11h0m15-2h0m9-3h0m24-5h0m6 5h0m4 4h0m4-2h0m39 1h0m1-5h0m5 3h0m-122 8h0m14-1h0m2 2h0m5 0h0m0 3h0m12-4h0m37 5h0m4-4h0m48 6h0m15-3h0m7-1h0m11 2h0m-164 12h0m7-3h0m8 2h0m2-4h0m29 7h0m2-1h0m14 0h0m18-8h0m1-1h0m11 7h0m4-6h0m3 3h0m3 2h0m5-7h0m20 8h0m11-5h0m5 0h0m8 7h0m1 0h0m1-4h0m8-4h0m3 10h0m-201 10h0m19-4h0m10 0h0m0 5h0m0-3h0m4-8h0m5 10h0m2 0h0m8-4h0m5 5h0m1-10h0m13 6h0m11-1h0m11-3h0m10 3h0m13-6h0m15 10h0m9-9h0m25 3h0m1 2h0m7 2h0m2-2h0m5-3h0m2 8h0m3-8h0m1-1h0m6 9h0m9 0h0m2-1h0m8 0h0m-243 3h0m41 1h0m21 7h0m9-8h0m8 1h0m1 0h0m1-1h0m0 1h0m117 2h0m30 4h0m9 1h0m-216 13h0m16-9h0m10 5h0m4-3h0m26 3h0m4-1h0m4-5h0m7 3h0m86 0h0m0 5h0m37 4h0m1-4h0m-187 9h0m15-1h0m19 0h0m25-3h0m124 6h0m-187 13h0m1-1h0m1 5h0m1-1h0m9-7h0m12 7h0m8-2h0m4-4h0m13 2h0m27-4h0m63 2h0m17 1h0m14-2h0m2 0h0m13 3h0m10-6h0m-172 12h0m5 6h0m3 3h0m0-5h0m43 3h0m5-7h0m29 7h0m19 2h0m22-4h0m9-1h0m5 3h0m3-6h0m1 8h0m8-9h0m11 9h0m1 1h0m-187 9h0m1 3h0m31-3h0m6 0h0m8 1h0m3-1h0m0 3h0m10-1h0m8-3h0m23 1h0m5 4h0m2-4h0m9-7h0m25 5h0m3 6h0m3-6h0m9-4h0m1 1h0m1 8h0m9-11h0m5 6h0m9 2h0m-164 15h0m3-4h0m12 4h0m26-2h0m2-1h0m9-4h0m4 1h0m13-3h0m5-1h0m16 8h0m4 0h0m2 2h0m15-2h0m8-4h0m-101 7h0m7 10h0m20-5h0m3-2h0m1-1h0m9 4h0m3 0h0m13-1h0m1-3h0m0 3h0m0 6h0m3-3h0m12 1h0m3-8h0m6 3h0m2 8h0m5-8h0m4-2h0m7 9h0m9-6h0m11-2h0m-160 10h0m68 6h0m15 5h0m13-3h0m1-4h0m20 2h0m1-3h0m0-1h0m9-1h0m7 3h0m13-5h0m-43 12h0m6 7h0m13 0h0m4-6h0m-33 17h0m-25 72h0m-13 29h0"/><path id="d1c" fill="none" d="M443 448h0m19 13h0m52 0h0m42 5h0m-142 11h0m22-4h0m5 7h0m5-7h0m15 1h0m5 6h0m39-1h0m10 0h0m-82 7h0m5-2h0m8 0h0m22-3h0m6 7h0m1-4h0m24-1h0m4 9h0m12-4h0m16-7h0m31 8h0m8-3h0m4 6h0m10-5h0m33 1h0m-248 14h0m46-10h0m5 4h0m3-3h0m3 10h0m20-3h0m15-3h0m11 5h0m2-9h0m4 6h0m7 2h0m6 3h0m3-10h0m1 3h0m10 1h0m4 4h0m8-3h0m3-5h0m20 9h0m18-9h0m3 2h0m7 7h0m1-3h0m5 3h0m12-7h0m-177 14h0m0 5h0m8 0h0m1-10h0m18 6h0m9 0h0m1-6h0m10 9h0m2-3h0m0 0h0m19-4h0m0-1h0m13 6h0m6-4h0m23 2h0m6-1h0m26 4h0m5 1h0m0-5h0m1 3h0m2-4h0m10 1h0m14 0h0m1 3h0m10 0h0m-209 10h0m24-5h0m9 6h0m17 4h0m10-4h0m9 4h0m106 0h0m0-1h0m9-10h0m1 8h0m3-5h0m10-3h0m4 4h0m6 3h0m11 3h0m-210 9h0m6 1h0m1 3h0m26-6h0m6 2h0m25-4h0m87-2h0m7 7h0m14-1h0m8-4h0m0 3h0m2 2h0m7-7h0m1 4h0m2 5h0m2 0h0m3-3h0m3-1h0m0-3h0m-221 11h0m12 8h0m1-2h0m17-1h0m4 2h0m2-1h0m7-1h0m5 4h0m2-1h0m7 0h0m96-3h0m44-3h0m5 0h0m-205 20h0m13-1h0m8-7h0m9 7h0m5-3h0m1-8h0m2 12h0m3-1h0m3-6h0m18-5h0m11 1h0m25 10h0m87 0h0m0 0h0m9 0h0m6-1h0m3-7h0m-193 16h0m55-3h0m25 8h0m18-6h0m33 6h0m19-10h0m22 4h0m13-5h0m3 0h0m-188 14h0m11 3h0m8-2h0m2-2h0m14 7h0m5 2h0m3 0h0m17-1h0m3-6h0m5 4h0m32-1h0m0-1h0m11 1h0m21 5h0m4-9h0m9-2h0m1 4h0m7-4h0m9 8h0m5-4h0m13 0h0m-151 9h0m26 1h0m1-1h0m3 3h0m3-2h0m7 5h0m9 1h0m7-1h0m4 1h0m19-6h0m1 0h0m13 8h0m4-1h0m20-1h0m5-5h0m6 0h0m1 0h0m4 4h0m-154 11h0m45-1h0m8 4h0m6-2h0m14 1h0m16-5h0m14-1h0m11 6h0m10-8h0m20 7h0m3-6h0m-125 14h0m35-4h0m5 1h0m4 5h0m7-4h0m3 1h0m3 1h0m2 8h0m15-10h0m0 0h0m13 4h0m1-1h0m9 2h0m-115 14h0m27-5h0m81 0h0m-37 21h0"/><path id="p8" d="M225 578L253 592L281 567L295 564L330 564L372 578L400 574L428 588L453 606L488 609L516 613L498 630L477 655L456 676L439 697L418 714L397 714L376 704L355 683L330 662L302 637L274 613L246 595Z"/><path id="d8a" fill="none" d="M639 407h0m-296 101h0m278 5h0m-338 31h0m34 6h0m6-7h0m6-2h0m8 5h0m69-3h0m-132 15h0m6-3h0m8 4h0m3 3h0m31 1h0m12-6h0m43 3h0m14-7h0m22 0h0m113 1h0m-302 14h0m1-2h0m10 8h0m7-6h0m14 6h0m4-8h0m6 6h0m15-8h0m8 6h0m5 5h0m1-5h0m4 2h0m18-7h0m1 10h0m14-7h0m6 5h0m10-4h0m19 7h0m1-1h0m1-1h0m4-8h0m0 0h0m16 5h0m3 0h0m20-2h0m1 6h0m36-2h0m-220 4h0m6 9h0m3-2h0m0 4h0m3-8h0m1 2h0m1-6h0m7 7h0m1 2h0m10-1h0m26 1h0m16 1h0m56-3h0m2-6h0m3 1h0m8 9h0m5-3h0m7-8h0m13 1h0m1-1h0m3 1h0m0 9h0m1 0h0m7-3h0m1 0h0m7 4h0m0-5h0m0-4h0m1 4h0m8 3h0m3-4h0m9 2h0m1-5h0m1 1h0m79 5h0m-268 10h0m0-5h0m2 4h0m1-5h0m3 2h0m1 3h0m0-2h0m4-3h0m19 7h0m4-7h0m21 10h0m38-7h0m14 4h0m7 3h0m13-8h0m20 1h0m3 2h0m8 6h0m9-11h0m16 3h0m6 3h0m4 1h0m1 3h0m1-9h0m41 9h0m7 2h0m-238 1h0m6 8h0m18 2h0m27-8h0m112 7h0m19-7h0m3 0h0m2 8h0m1-2h0m6-7h0m6 9h0m3-3h0m26 3h0m14-4h0m4 1h0m2-6h0m5 2h0m8 2h0m-251 14h0m16-4h0m1 4h0m2 1h0m0-6h0m161 4h0m11 3h0m26 2h0m3-10h0m7 1h0m2 6h0m0 2h0m10 0h0m14-10h0m-240 13h0m13-1h0m2-1h0m8 9h0m3-2h0m158-2h0m7 5h0m2-3h0m16 5h0m11-12h0m-195 15h0m14 4h0m12 3h0m8 0h0m12-10h0m-33 17h0m3 6h0m3-9h0m2 6h0m2-1h0m13 0h0m15 4h0m113-6h0m12-4h0m4 1h0m-157 17h0m2-6h0m8 6h0m7 3h0m1 2h0m3-2h0m85-1h0m18 2h0m2 0h0m11-10h0m-120 12h0m8 5h0m3-4h0m8 3h0m9 4h0m1 0h0m67-1h0m7 2h0m0-2h0m-92 9h0m13-3h0m4 2h0m0 3h0m5 5h0m1-4h0m14-6h0m19 7h0m16 2h0m5-11h0m6 12h0m4-8h0m6-3h0m-57 16h0m4 3h0m21 0h0m13-7h0m-37 14h0m1 6h0m3-4h0m10 1h0m6 0h0m-40 29h0m54 272h0"/><path id="d8b" fill="none" d="M631 503h0m-440 33h0m79 16h0m0-6h0m89 5h0m-117 12h0m48-3h0m20 0h0m5-6h0m11 1h0m4 8h0m24-5h0m36 2h0m9-4h0m6-1h0m187-2h0m-378 23h0m6-7h0m9 5h0m15-7h0m17-1h0m18 2h0m1 5h0m3-8h0m7 8h0m15-8h0m7 6h0m0-2h0m6-3h0m8 10h0m1-10h0m5 2h0m5-2h0m12 7h0m13 1h0m3 1h0m23-10h0m1 8h0m2 0h0m1 3h0m8-3h0m8-3h0m12 2h0m7-1h0m28 5h0m-223 2h0m3 8h0m3-4h0m6 4h0m2-5h0m2 2h0m1-5h0m1 4h0m2-2h0m1 0h0m20 6h0m1-8h0m5-2h0m4 0h0m20 4h0m5 0h0m6 0h0m1-2h0m14 8h0m1-4h0m7-6h0m16 8h0m1 2h0m3-4h0m9-6h0m4 3h0m1 6h0m4-9h0m9 11h0m9-11h0m3 10h0m3-10h0m7 1h0m7 6h0m4-4h0m0 1h0m2 2h0m5 1h0m3-5h0m3 10h0m6-9h0m45 8h0m-229 2h0m1 10h0m5-1h0m3-1h0m4 2h0m2 0h0m141-2h0m7-6h0m19 4h0m11-6h0m2 8h0m29 1h0m18-5h0m5 2h0m43-3h0m29-4h0m-296 14h0m5 7h0m3-8h0m95 5h0m73-5h0m8 3h0m11 1h0m4-2h0m5-1h0m14 7h0m7-1h0m19 0h0m-242 5h0m3 4h0m1 1h0m9 2h0m3-1h0m15 3h0m1-5h0m16 4h0m63 1h0m67-9h0m12 8h0m18-7h0m2-2h0m5 5h0m1 5h0m1 0h0m-185 8h0m22 2h0m0-4h0m146-3h0m5 1h0m14-1h0m4 7h0m0 0h0m-195 5h0m2 0h0m3 5h0m6 2h0m6-5h0m3 8h0m139-2h0m3 1h0m12-3h0m0-1h0m11-5h0m-174 11h0m16 1h0m125 5h0m15 5h0m2-10h0m2 2h0m1 7h0m4-8h0m-153 18h0m13 3h0m5-10h0m1 2h0m0-2h0m1 8h0m2-1h0m2-2h0m13 1h0m90-3h0m1 5h0m7-4h0m-104 11h0m35 3h0m23-3h0m8-1h0m-68 13h0m66 5h0m1 0h0m10-7h0m9 4h0m-67 10h0m7 3h0m7 1h0m17-2h0m16 1h0m5 1h0m0-1h0m-45 7h0m5 0h0m1 6h0m1 4h0m1-3h0m9-6h0m9-2h0m3 1h0m2 2h0m1 1h0m0 1h0m2-1h0m-33 18h0m7-7h0m6 8h0m2-11h0m-6 18h0m12 121h0m4 0h0m107 120h0m206 42h0"/><path id="d8c" fill="none" d="M626 435h0m-197 94h0m-156 21h0m3 1h0m23-4h0m1 0h0m17 3h0m22-2h0m13 3h0m13-3h0m-87 5h0m12 2h0m7 5h0m36 0h0m15-6h0m2 9h0m20-10h0m48 6h0m2-2h0m1-2h0m109 3h0m-301 18h0m18-5h0m19 4h0m2-2h0m16-3h0m4 5h0m0 0h0m8-6h0m43 4h0m1-3h0m10-4h0m5 4h0m3-3h0m1-2h0m1 0h0m1 0h0m0 2h0m11 8h0m11-5h0m20 2h0m5 2h0m3-4h0m5 1h0m4-4h0m-192 12h0m1 0h0m4 3h0m1 2h0m8 1h0m0 2h0m2-1h0m1-8h0m9 2h0m1 4h0m1 1h0m5 3h0m3-6h0m12 1h0m4-5h0m25 1h0m6 0h0m17 0h0m12-2h0m3 9h0m1-10h0m5 4h0m3 1h0m32 5h0m3-10h0m5 2h0m0 5h0m4 3h0m3-8h0m1 1h0m4 5h0m1 4h0m2-2h0m9-3h0m0 4h0m1-1h0m27-4h0m14-2h0m136-2h0m-353 12h0m12-1h0m2 1h0m17 5h0m51-4h0m29 0h0m53 4h0m4 1h0m4-2h0m4-5h0m13 5h0m0-5h0m10 0h0m5 4h0m20 5h0m1-2h0m21 1h0m3-2h0m-218 9h0m13 6h0m1 2h0m14-3h0m3 1h0m8-5h0m135 2h0m5-1h0m11-2h0m5 1h0m1 1h0m10 1h0m1-3h0m5 6h0m3-4h0m4 0h0m0-5h0m5 6h0m13 3h0m-227 5h0m6-2h0m7 6h0m141-5h0m24 1h0m3 2h0m12-4h0m14 2h0m0 3h0m22 4h0m4-5h0m-229 10h0m4 3h0m4 0h0m144 1h0m6 0h0m5-3h0m9 1h0m13 1h0m5 3h0m6 0h0m2-4h0m4-2h0m1 8h0m3-1h0m-177 8h0m8 1h0m19 1h0m125-5h0m5-1h0m4 5h0m12 1h0m-182 11h0m21-6h0m26 1h0m94 9h0m7-10h0m34 6h0m-161 14h0m10-2h0m1-6h0m4 5h0m1 1h0m2 1h0m48-4h0m26-1h0m24 7h0m6-9h0m2 0h0m7 3h0m-109 11h0m5-3h0m2 10h0m0-3h0m15 0h0m16-5h0m45 7h0m1-5h0m8-3h0m4 2h0m12-3h0m-92 20h0m7-1h0m6-1h0m1-3h0m1 0h0m2 9h0m47-3h0m15-2h0m-69 12h0m25 2h0m4-3h0m4-1h0m4 2h0m5-5h0m5 0h0m4 8h0m6-9h0m4 5h0m-57 13h0m4 2h0m16-3h0m0 3h0m0-4h0m16 0h0m86 251h0"/><path id="p11" d="M370 715L407 715L406 772L403 828L395 864L389 901L386 935L376 935L373 901L372 846L367 809L366 769Z"/><path id="d11a" fill="none" d="M361 719h0m4 0h0m5 0h0m8-3h0m0 2h0m2-3h0m2 5h0m5-9h0m1 0h0m2 5h0m3-4h0m5 2h0m37 0h0m-62 10h0m2 3h0m23-7h0m6 12h0m-37 1h0m3 8h0m6-1h0m31 3h0m19-1h0m-52 11h0m2 2h0m4-7h0m25-1h0m2 8h0m-34 4h0m30 8h0m3-6h0m1 2h0m2 3h0m-10 13h0m1-4h0m-34 13h0m29-4h0m8 4h0m15-5h0m-52 21h0m22-8h0m9 7h0m0-4h0m4-2h0m0-2h0m-38 10h0m9 3h0m0 1h0m23-4h0m7 10h0m-43 7h0m12 5h0m4-4h0m18-1h0m5 3h0m-26 8h0m25 6h0m6-11h0m-30 22h0m0-5h0m1 4h0m14-1h0m10 4h0m2-12h0m-9 13h0m2-1h0m2 9h0m-24 6h0m2 2h0m1 3h0m2-7h0m14 5h0m-15 7h0m21 5h0m-19 17h0m12-2h0m1-5h0m34 1h0m-53 10h0m13-3h0m0 0h0m-9 13h0m5 9h0m10 0h0m-17 10h0m2-7h0m1 1h0m0 4h0m1-1h0m3 4h0m3-5h0m1-2h0m8 3h0m-15 25h0m1 12h0m-11 9h0m11 7h0m-21 6h0m148 24h0m155 111h0"/><path id="d11b" fill="none" d="M395 708h0m-23 9h0m1 0h0m8-1h0m8-1h0m8-3h0m6-2h0m-34 20h0m5-8h0m9-2h0m17 6h0m2 0h0m2 0h0m-37 7h0m29 2h0m8 9h0m-36 10h0m1-5h0m3 4h0m31 2h0m7-11h0m-43 22h0m0-6h0m9 5h0m29 2h0m-40 10h0m1-5h0m39 7h0m1-9h0m-41 20h0m2-4h0m2 0h0m0 0h0m34-2h0m4 2h0m-40 7h0m4 5h0m2-3h0m4-1h0m16 6h0m2 2h0m8-7h0m-37 9h0m2 1h0m0 8h0m1-3h0m2-4h0m1 3h0m2 5h0m23-7h0m13-1h0m-42 17h0m4-5h0m31-1h0m-35 19h0m26-1h0m10 0h0m-36 9h0m3 3h0m29 3h0m3-5h0m-32 9h0m2 5h0m12-4h0m1 7h0m6-5h0m-19 8h0m8-1h0m2 6h0m7-1h0m1 4h0m2-3h0m-19 16h0m2-7h0m12 7h0m-16 4h0m4-1h0m0 0h0m18 0h0m-17 16h0m13 3h0m2-8h0m-20 20h0m5-5h0m2 8h0m1-7h0m-10 19h0m7-10h0m6 22h0m2-10h0m3 0h0m21 9h0m-40 14h0m99 1h0m-112 14h0m-13 20h0m85 0h0m285 161h0"/><path id="d11c" fill="none" d="M375 704h0m-1 10h0m2-1h0m4-1h0m0 6h0m1-1h0m20-5h0m1 8h0m2-4h0m15-2h0m-51 18h0m5-5h0m18-3h0m8-2h0m6 0h0m-40 12h0m5 9h0m2-3h0m33-6h0m-41 17h0m4-6h0m2 3h0m2 0h0m3 2h0m27 2h0m5-5h0m-38 20h0m0 1h0m1-9h0m9 8h0m18-10h0m7 7h0m3 1h0m0 1h0m3-4h0m1 0h0m-40 11h0m23 1h0m5-5h0m3 9h0m1-9h0m6 8h0m-45 6h0m6 0h0m31 3h0m1 1h0m-10 12h0m8 0h0m4 1h0m-41 5h0m5 9h0m26-1h0m8-5h0m0 10h0m-31 21h0m16-1h0m15-9h0m-35 22h0m8-7h0m3 8h0m15-4h0m1-6h0m-13 19h0m7 3h0m1-9h0m9 4h0m1 3h0m-17 9h0m1 0h0m3-1h0m5 3h0m1-9h0m-17 12h0m17 3h0m4 6h0m-28 11h0m10-3h0m-8 9h0m16-1h0m-14 22h0m5-4h0m1-4h0m1-2h0m4 9h0m1 1h0m-8 10h0m1-3h0m3 2h0m8-7h0m-6 13h0m55 3h0m-72 14h0m-17 16h0m11-7h0m3 4h0m45 0h0m-27 7h0m-30 9h0"/><path id="p9" d="M325 1015L346 1004L378 1011L371 1029L389 1050L389 1072L421 1093L457 1108L493 1115L514 1133L521 1147L500 1161L471 1168L450 1165L428 1172L393 1168L364 1154L339 1129L325 1104L318 1072L321 1043Z"/><path id="d9a" fill="none" d="M385 990h0m6 4h0m-46 8h0m4 1h0m8 1h0m52-7h0m-82 20h0m6-9h0m25 8h0m15-3h0m3 2h0m4-2h0m-62 19h0m4-7h0m4-4h0m0 3h0m45 7h0m1 0h0m5 0h0m4-4h0m3 2h0m-66 5h0m8 1h0m4 3h0m40-5h0m4 7h0m7-1h0m5 0h0m-70 14h0m1 0h0m5-8h0m2 1h0m3 0h0m60 1h0m8-1h0m9 3h0m-87 19h0m5-6h0m7-3h0m56 2h0m4-4h0m2 2h0m4-1h0m-78 15h0m3-4h0m71 6h0m2 0h0m5 1h0m1 3h0m-81 2h0m1 1h0m3 6h0m1-3h0m1 4h0m62-2h0m26-1h0m1-1h0m6 3h0m4-4h0m2 7h0m-102 2h0m5 6h0m0 2h0m4-5h0m78 1h0m14 5h0m15-6h0m5 7h0m7 0h0m-120 10h0m0 2h0m110-11h0m11 3h0m5 8h0m7-3h0m0-1h0m2 4h0m1-5h0m7-2h0m2 4h0m5-2h0m3-4h0m7 3h0m-158 11h0m148-3h0m0 2h0m10 5h0m5 3h0m18-5h0m63-3h0m-230 16h0m5-4h0m133-3h0m21 3h0m8 8h0m6 1h0m0-2h0m18-6h0m17 7h0m35 0h0m-242 5h0m125 2h0m46 2h0m41 3h0m-200 7h0m12 1h0m2-1h0m3-5h0m69 3h0m18 7h0m10 0h0m19-5h0m38 2h0m20-2h0m-172 9h0m7 3h0m13-6h0m9 2h0m10 3h0m2-1h0m0-1h0m4 2h0m6-2h0m1 3h0m8-2h0m22 1h0m8-1h0m9-1h0m7 1h0m14 4h0m19-5h0m28 4h0m-104 7h0m45-1h0m33-1h0m46 6h0"/><path id="d9b" fill="none" d="M352 1005h0m1-2h0m3 1h0m16-4h0m-49 18h0m3-5h0m9 2h0m0-5h0m9 7h0m0-5h0m11-2h0m14 3h0m4 3h0m1 2h0m2-1h0m-58 9h0m9-1h0m37-1h0m9-3h0m0-1h0m8 5h0m1 3h0m-65 12h0m8-2h0m54 5h0m-59 8h0m61-2h0m0-2h0m6 2h0m-5 16h0m4 3h0m2-1h0m4-6h0m1-1h0m3 7h0m-81 1h0m2 5h0m7 4h0m4-3h0m63-4h0m2 5h0m4-5h0m7 10h0m-76 10h0m69-10h0m2 0h0m4 5h0m2-4h0m2 8h0m2-2h0m0 5h0m5-1h0m4-5h0m2 3h0m-93 14h0m80-9h0m2-1h0m11 2h0m1 6h0m1-5h0m0-3h0m3 7h0m2-6h0m0 7h0m1 0h0m-106 4h0m0 9h0m2-2h0m1-4h0m0 2h0m3-3h0m4 0h0m112 1h0m0 1h0m2-5h0m11 3h0m5 6h0m4-7h0m3-1h0m9 4h0m1 4h0m2-6h0m9 8h0m3-4h0m19 2h0m113 2h0m-159 3h0m3-1h0m95 6h0m-227 6h0m4 5h0m5 2h0m147 1h0m22-5h0m0 7h0m1-4h0m7 2h0m-17 10h0m9-2h0m1 4h0m2-4h0m1 1h0m19 4h0m-175 3h0m4 5h0m1 0h0m3-5h0m2 10h0m6-6h0m21 3h0m13-2h0m36 4h0m1-2h0m7-3h0m19 3h0m6 4h0m1-8h0m14-2h0m19 2h0m1-3h0m-118 13h0m5 3h0m7 0h0m4 3h0m2-2h0m12 0h0m1 0h0m5-2h0m20-2h0m1-1h0m8-1h0m26 3h0m0-2h0m-94 12h0m137 1h0"/><path id="d9c" fill="none" d="M428 986h0m25 0h0m-109 17h0m35 4h0m-57 12h0m45-7h0m5-2h0m14 3h0m-54 9h0m35 2h0m3-4h0m3 10h0m3-7h0m0 8h0m3-11h0m-8 21h0m4-5h0m0 6h0m3-7h0m1 3h0m10 5h0m-69 3h0m0 0h0m7 9h0m52-8h0m2-2h0m1 4h0m0 0h0m1-2h0m-67 19h0m2-9h0m1 2h0m1-2h0m5-1h0m60 2h0m2 6h0m1-7h0m-70 19h0m4 1h0m64 2h0m1-4h0m3 4h0m2-10h0m2 4h0m2 4h0m1 1h0m2-6h0m6 7h0m4-4h0m1-2h0m-93 9h0m82 9h0m1-7h0m8-2h0m8 3h0m1 3h0m4-6h0m3 4h0m2 3h0m3 1h0m-107 11h0m0-4h0m79 4h0m25-6h0m7 6h0m4 2h0m1 0h0m4-5h0m7-2h0m-126 8h0m2 2h0m1 2h0m1 1h0m3 6h0m114-8h0m9-2h0m0 10h0m8-10h0m1 3h0m2 8h0m0-8h0m3 2h0m3-1h0m5 5h0m1-3h0m5 3h0m8 1h0m2-9h0m2 0h0m0 6h0m10 3h0m4-2h0m-174 7h0m3-2h0m154 3h0m10-1h0m2 7h0m8-4h0m8 2h0m-175 10h0m2 3h0m4-2h0m162 3h0m6-10h0m41 5h0m-214 7h0m147 9h0m19 1h0m9-6h0m1 0h0m-143 12h0m2 3h0m5-3h0m3 2h0m10 5h0m3-5h0m59 4h0m22-7h0m2 7h0m9-3h0m6-5h0m1 7h0m9-8h0m-120 11h0m1 7h0m12 2h0m1-5h0m2 0h0m10 2h0m39-3h0m1-3h0m2 6h0m17-1h0m5-2h0m12-2h0"/><path id="p6" d="M378 1011L428 1008L464 1008L500 1004L535 1015L564 1025L585 1043L596 1068L593 1090L578 1108L550 1118L532 1129L514 1133L493 1115L457 1108L421 1093L389 1072L389 1050L371 1029Z"/><path id="d6a" fill="none" d="M420 1007h0m11-4h0m7 5h0m9-3h0m39 0h0m1 2h0m3-5h0m6-2h0m8 5h0m3 0h0m5-9h0m2 11h0m-145 11h0m10-4h0m1-5h0m6 7h0m4 1h0m3-7h0m5 7h0m13-1h0m5-6h0m4 5h0m10-7h0m7 6h0m4-1h0m5 0h0m1-3h0m32-1h0m4 9h0m14-7h0m0 3h0m6-4h0m7 10h0m7-9h0m1 2h0m4-1h0m2-4h0m4 8h0m1-7h0m4 10h0m-158 12h0m2-8h0m3-2h0m23 1h0m10 4h0m111 1h0m13-1h0m6 1h0m3-7h0m4 12h0m2-7h0m1 1h0m5 1h0m2-7h0m2 3h0m4 9h0m9-1h0m11-6h0m-222 8h0m0 1h0m4 7h0m12-8h0m183 4h0m4 5h0m4-7h0m21 2h0m13-5h0m22 11h0m-252 12h0m8-6h0m15 0h0m166-1h0m16 3h0m5-6h0m10 0h0m13 4h0m-229 14h0m1-1h0m3-4h0m3 7h0m4-6h0m1 2h0m195-4h0m4 10h0m1-1h0m1-1h0m-207 4h0m1 4h0m1 4h0m4-1h0m5 1h0m2 0h0m9-1h0m0-2h0m7 5h0m171-4h0m3-5h0m4 7h0m3-7h0m0 4h0m17 3h0m15 1h0m-230 5h0m4 2h0m37 6h0m5-7h0m111 7h0m30-10h0m4 0h0m4 0h0m13 1h0m-198 14h0m9 4h0m0-5h0m7 1h0m1 1h0m1-2h0m1-1h0m2 3h0m2 2h0m0 0h0m6 3h0m13 1h0m0-4h0m15 5h0m5-4h0m94 4h0m7-11h0m9 2h0m2 5h0m8-2h0m5-1h0m9 4h0m-183 4h0m1 1h0m6 2h0m15-3h0m1 2h0m1 0h0m1 2h0m3-3h0m0 0h0m5 3h0m1-1h0m1-1h0m6-3h0m2 3h0m12 3h0m4-2h0m1-1h0m15 7h0m9-1h0m60-5h0m1 2h0m4-3h0m2 0h0m26 6h0m-137 4h0m1 7h0m8-5h0m13 0h0m1-2h0m3 7h0m11-1h0m2-2h0m4 1h0m2 5h0m6 0h0m1-6h0m16 5h0m2-6h0m0 6h0m1 1h0m2 0h0m4 0h0m3-7h0m0 0h0m2 3h0m48 0h0m-89 14h0m0-4h0m1-5h0m20 11h0m6-8h0m4-1h0m-23 11h0"/><path id="d6b" fill="none" d="M390 1007h0m6-1h0m26-1h0m8 1h0m72 0h0m2-2h0m-137 11h0m10 1h0m2 1h0m4-6h0m6 5h0m2-4h0m0-4h0m3 7h0m5-3h0m4-2h0m0 10h0m8-12h0m2 6h0m2-1h0m4-4h0m2 0h0m2 6h0m7-1h0m1-3h0m0 7h0m3-6h0m13-3h0m2 11h0m6-11h0m7 4h0m4 1h0m15-1h0m12-1h0m3 2h0m11-1h0m3-5h0m5 7h0m1-4h0m1-1h0m13 7h0m0 0h0m10 3h0m1-3h0m6-2h0m23 3h0m-209 4h0m6 10h0m5-6h0m0 4h0m2-6h0m1-1h0m10-1h0m45 4h0m51-5h0m65 4h0m4-2h0m2-3h0m3 1h0m9-1h0m8 6h0m7 6h0m-189 8h0m0 1h0m1-2h0m167-3h0m7 2h0m3-4h0m5 7h0m1 1h0m0-8h0m1-2h0m-208 15h0m9-1h0m4 1h0m5 7h0m8-8h0m9 7h0m151-3h0m23 2h0m0-7h0m6 10h0m1 1h0m2-10h0m2 3h0m1 3h0m8-1h0m40 3h0m-268 4h0m16 6h0m11-6h0m3 1h0m8 1h0m179-2h0m4 9h0m4-1h0m1 2h0m27-1h0m2-11h0m-234 21h0m4-7h0m2 8h0m2-3h0m5 0h0m10-7h0m173 0h0m1 3h0m4 0h0m3 1h0m5 1h0m34-4h0m30 0h0m-241 22h0m13-7h0m1 7h0m3 1h0m0-1h0m145-1h0m2-5h0m2 5h0m2-4h0m2 0h0m6 1h0m1-5h0m5 5h0m-199 7h0m20 1h0m8 2h0m17 2h0m84 1h0m13-1h0m32 4h0m5-6h0m40 0h0m-179 15h0m8-1h0m2-4h0m6 5h0m3-6h0m15 4h0m2-2h0m7 3h0m1-3h0m3 3h0m4 1h0m1 2h0m10 1h0m7-2h0m8-6h0m22 6h0m13-8h0m3 11h0m4-4h0m3-3h0m2 5h0m-117 7h0m37-1h0m6 0h0m2 3h0m1 2h0m6-6h0m0 4h0m5 2h0m1-6h0m12 5h0m1 4h0m2-4h0m3 4h0m7-12h0m2 11h0m4-9h0m1 10h0m34-4h0m-75 4h0m1 11h0m2-8h0m3-2h0m4 0h0m3 5h0m7-2h0m3 1h0m9-1h0m8 0h0m2-2h0m-54 15h0"/><path id="d6c" fill="none" d="M378 1007h0m49 0h0m3-2h0m1 0h0m0 0h0m7-1h0m19-3h0m9 6h0m3 0h0m4-1h0m5 0h0m1-2h0m6 3h0m5-8h0m4 1h0m5-3h0m6 11h0m-135 8h0m8-1h0m0 5h0m3-12h0m0 8h0m0 0h0m8 3h0m5-6h0m1 3h0m17 3h0m1-2h0m5-8h0m4 1h0m1 3h0m40 4h0m1-8h0m2 5h0m2 0h0m0 1h0m7-5h0m9-1h0m19 1h0m5-2h0m2 5h0m7 5h0m14-9h0m1 7h0m-26 9h0m22-3h0m6 1h0m24 8h0m10-2h0m29 0h0m-244 15h0m13-2h0m7-1h0m2 0h0m11 0h0m25-7h0m96 3h0m55 5h0m1-4h0m8-2h0m2-3h0m5 4h0m16 7h0m-221 1h0m9 10h0m3-9h0m0 10h0m2-6h0m3-3h0m1 0h0m3 2h0m0 1h0m184-2h0m4 1h0m5-2h0m7 6h0m-208 5h0m0 0h0m5 3h0m0 0h0m3-3h0m0 6h0m193 2h0m1-7h0m4-1h0m3 9h0m19-9h0m-238 18h0m2-4h0m22-4h0m3 4h0m1 7h0m4-1h0m5-9h0m-6 17h0m5 1h0m4-2h0m2 1h0m10-3h0m4-1h0m29 9h0m117-4h0m3 3h0m12-6h0m3-1h0m1 8h0m17-2h0m44-5h0m-263 12h0m25-3h0m10 9h0m3-4h0m3 3h0m13 0h0m13-1h0m1 2h0m15-4h0m2 5h0m17-3h0m64 0h0m10 2h0m6-3h0m3 3h0m3-6h0m-170 17h0m15-2h0m55-1h0m1 0h0m2 2h0m1-3h0m4 5h0m5 1h0m10-5h0m24 5h0m12-4h0m23 4h0m5-7h0m1 5h0m2-6h0m2 0h0m11 3h0m48-6h0m-182 15h0m7 0h0m2 3h0m0-2h0m12 1h0m15-1h0m0 4h0m2-3h0m3-1h0m1 1h0m1 4h0m6-6h0m4 4h0m1-1h0m0 2h0m1-7h0m4 4h0m2 5h0m2-9h0m1 10h0m1-6h0m2 0h0m1 2h0m4-4h0m6 6h0m0 2h0m3-5h0m4 5h0m1-6h0m4 0h0m23-4h0m-73 14h0m8 3h0m0-2h0m7 4h0m2-5h0m6 6h0m10-8h0m3 0h0m71-1h0m-85 17h0m72 15h0m7 6h0"/><path id="p7" d="M617 1116L638 1091L667 1080L695 1073L716 1066L722 1041L729 1040L734 1052L745 1070L769 1077L801 1084L830 1095L851 1109L862 1119L855 1141L837 1155L808 1162L787 1173L759 1183L723 1198L688 1201L652 1208L624 1205L613 1187L617 1158L613 1137Z"/><path id="d7a" fill="none" d="M726 1043h0m1 0h0m-11 4h0m6 7h0m2-2h0m1-7h0m2 8h0m0 0h0m1 0h0m6-7h0m9 3h0m-39 7h0m17 4h0m0-3h0m8 6h0m2 4h0m7 0h0m1-3h0m0-4h0m1-1h0m2 3h0m-87 18h0m29-5h0m9 5h0m4-5h0m4-3h0m3 2h0m4-1h0m9 2h0m35 1h0m3 3h0m2-5h0m-115 13h0m1-2h0m12 2h0m10-5h0m7 5h0m3-7h0m43 7h0m4-7h0m32 4h0m14 1h0m14-1h0m0 8h0m4-11h0m8 8h0m7-6h0m0-2h0m2 3h0m5 3h0m7 5h0m7-5h0m-236 10h0m47 3h0m150-3h0m32-4h0m8 8h0m2-7h0m4 3h0m4 0h0m5 6h0m1-5h0m1 1h0m7 1h0m-225 6h0m0 4h0m2 1h0m0 4h0m5-4h0m187 1h0m24-5h0m8-2h0m1 0h0m-235 22h0m7-3h0m1-6h0m234 1h0m4 8h0m-249 1h0m7 5h0m1-2h0m0-1h0m188 4h0m42 3h0m0-3h0m3 5h0m6-10h0m-290 14h0m27 5h0m17 3h0m2-9h0m1 4h0m5-5h0m197 5h0m9 1h0m12-6h0m5 11h0m11-12h0m2 4h0m-251 19h0m13 0h0m1-9h0m0 9h0m1-6h0m176 5h0m5 1h0m14-10h0m6 2h0m4 2h0m2 4h0m3-9h0m0 2h0m1-1h0m0 8h0m5-4h0m0 0h0m1 1h0m-220 17h0m0 1h0m4-11h0m23 4h0m127 7h0m3-9h0m16 8h0m13-10h0m-189 14h0m0 9h0m7-6h0m107 4h0m6 1h0m7-1h0m8-2h0m3-1h0m1-4h0m5 7h0m2-9h0m4 2h0m1 5h0m3-2h0m2-4h0m2 0h0m5-2h0m-185 15h0m27 7h0m0-2h0m2 0h0m35 0h0m28 0h0m15 4h0m4-5h0m2-2h0m2-1h0m2 6h0m9 2h0m3-11h0m2 11h0m0-8h0m1 0h0m5-3h0m6 2h0m2 5h0m3-6h0m7-1h0m-128 14h0m1 0h0m9 4h0m7-4h0m1-3h0m10 7h0m0-3h0m5 7h0m3-7h0m3-2h0m11 0h0m3 2h0m2-3h0m3 6h0m18-3h0m-35 12h0"/><path id="d7b" fill="none" d="M730 1043h0m-11 1h0m3 1h0m1 4h0m4 5h0m1 0h0m1-5h0m1 2h0m3 1h0m1 2h0m4 1h0m-27 12h0m9-8h0m9 1h0m7-4h0m5 6h0m21 2h0m-90 16h0m6-1h0m5 0h0m5-5h0m1 2h0m0 0h0m8-3h0m11-4h0m1 5h0m6 2h0m27-5h0m8 1h0m13 0h0m0 7h0m1-4h0m4 4h0m1-5h0m13-3h0m-136 18h0m5-3h0m14-5h0m0 5h0m2-4h0m13-2h0m70 3h0m42 2h0m4 1h0m5 2h0m3 0h0m4-1h0m0 2h0m7 2h0m3-2h0m0-2h0m2 2h0m-196 11h0m1-3h0m34-5h0m18 7h0m128-6h0m9 2h0m4 7h0m4-8h0m1-1h0m3 10h0m6-2h0m3 2h0m5-2h0m-232 7h0m8 4h0m2-5h0m1 3h0m10 3h0m203-8h0m4 0h0m6 4h0m3 0h0m3 3h0m6 1h0m3 2h0m3-1h0m1 0h0m-260 3h0m14 9h0m2-8h0m4 0h0m229 4h0m9 4h0m4-8h0m-249 19h0m237 0h0m2-7h0m-242 14h0m8 5h0m16 1h0m182 2h0m17 0h0m3-7h0m0 4h0m2-5h0m2 6h0m10-2h0m-280 8h0m48-1h0m187 7h0m1 0h0m1-6h0m8-3h0m2 8h0m1-8h0m4 5h0m12-5h0m-221 20h0m2 2h0m11-8h0m95 2h0m39 6h0m13-1h0m3 0h0m1-5h0m5 6h0m1-8h0m1 8h0m3-10h0m0 9h0m1-7h0m10-1h0m-198 21h0m11-6h0m1-4h0m3 7h0m5-6h0m48 3h0m60 6h0m2 0h0m2-1h0m5 1h0m5-6h0m0 0h0m8-1h0m1 7h0m1-2h0m4-3h0m4-1h0m16 1h0m-158 16h0m13-1h0m30 3h0m16-5h0m8 1h0m2 0h0m14 4h0m4-3h0m6 1h0m5-6h0m3 5h0m0-5h0m8 1h0m1-2h0m23 0h0m-134 20h0m13-4h0m6-1h0m1 2h0m2 2h0m2-8h0m2 2h0m2 7h0m0-4h0m1-4h0m3 8h0m6-7h0m3 4h0m1-2h0m10 1h0m10-4h0m3-1h0m5 0h0m4 1h0m17 0h0m3 4h0m-71 8h0"/><path id="d7c" fill="none" d="M725 1042h0m2 1h0m-13 13h0m1-1h0m9-5h0m0 0h0m2 0h0m1 5h0m0-10h0m9 0h0m-23 20h0m7-7h0m0 4h0m1 0h0m1-5h0m3-1h0m2 3h0m9 4h0m3 1h0m4 1h0m2 0h0m5 3h0m-85 7h0m12 2h0m3-4h0m3 5h0m5-1h0m1-1h0m3 0h0m5 2h0m1-2h0m1 0h0m5 0h0m3 3h0m1-8h0m13 3h0m3-2h0m14 7h0m12-3h0m7-1h0m1-1h0m0 3h0m27 0h0m9 3h0m-147 8h0m8 1h0m2-2h0m32-7h0m78 2h0m1 2h0m4 5h0m1-6h0m9 8h0m4-7h0m8 3h0m1-5h0m1 3h0m1-5h0m0 6h0m2-1h0m4 2h0m1-1h0m0 0h0m2 1h0m4-1h0m4-2h0m-133 10h0m113 1h0m22 4h0m3 0h0m9 0h0m4-3h0m11 4h0m3 0h0m-227 12h0m1 1h0m3-6h0m1 0h0m2-2h0m2 7h0m4-6h0m3 2h0m11-1h0m47 1h0m136-3h0m12 2h0m4-1h0m3 2h0m3 1h0m0 4h0m-237 7h0m4 3h0m1-5h0m1 6h0m230 3h0m2-7h0m6-3h0m2 10h0m1-3h0m0 3h0m1 0h0m1-5h0m-249 13h0m4-1h0m0 2h0m3 1h0m225 1h0m0-9h0m5 1h0m1 9h0m2-5h0m-239 10h0m5 4h0m202 2h0m20 2h0m-227 6h0m2 3h0m173 3h0m9-1h0m6 0h0m6-4h0m1-1h0m3 1h0m1 3h0m5-6h0m15 0h0m8 2h0m-232 12h0m4 2h0m4 4h0m138-2h0m8 2h0m11-2h0m7-3h0m18-6h0m8 0h0m-248 13h0m49 7h0m2-3h0m1 2h0m4 3h0m40 0h0m21-2h0m47-5h0m2 7h0m29-8h0m0 7h0m3-9h0m8 3h0m4-1h0m-167 17h0m12 4h0m30-6h0m7 0h0m20 1h0m18-3h0m3 4h0m1 1h0m2 2h0m9-3h0m11-1h0m1 2h0m28-7h0m-124 10h0m8 10h0m1-4h0m1-2h0m3-3h0m1 3h0m2 6h0m8 0h0m4-6h0m1-1h0m4 7h0m9-3h0m14-5h0m1 1h0m21 0h0"/><g id="um" stroke-linecap="round" stroke-linejoin="round"><g filter="url(#rough)"><use href="#p0"/><use href="#p10"/><use href="#p2"/><use href="#p3"/><use href="#p4"/><use href="#p5"/><use href="#p1"/><use href="#p8"/><use href="#p11"/><use href="#p9"/><use href="#p6"/><use href="#p7"/></g><use href="#d10a"/><use href="#d10b"/><use href="#d10c"/><use href="#d2a"/><use href="#d2b"/><use href="#d2c"/><use href="#d3a"/><use href="#d3b"/><use href="#d3c"/><use href="#d4a"/><use href="#d4b"/><use href="#d4c"/><use href="#d5a"/><use href="#d5b"/><use href="#d5c"/><use href="#d1a"/><use href="#d1b"/><use href="#d1c"/><use href="#d8a"/><use href="#d8b"/><use href="#d8c"/><use href="#d11a"/><use href="#d11b"/><use href="#d11c"/><use href="#d9a"/><use href="#d9b"/><use href="#d9c"/><use href="#d6a"/><use href="#d6b"/><use href="#d6c"/><use href="#d7a"/><use href="#d7b"/><use href="#d7c"/></g><path id="TA" fill="none" stroke-linecap="round" d="M340 275h0m14 8h0m33 3h0m34-7h0m-71 22h0m38 4h0m90-1h0m-135 11h0m5 5h0m-4 14h0m33 8h0m-64 12h0m47 4h0m101-6h0m39 8h0m5-6h0m56-6h0m17 5h0m-236 7h0m40 2h0m-239 16h0m296 15h0m-274 10h0m407 1h0m-369 8h0m80-2h0m141 4h0m-128 10h0m-148 32h0m213-4h0m63-1h0m147 0h0m-145 11h0m155-2h0m-387 44h0m391-3h0m-323 8h0m140 5h0m62-4h0m-213 15h0m72-2h0m-91 10h0m76-2h0m92 16h0m-85 7h0m14 4h0m-28 7h0m213 7h0m-172 11h0m48 4h0m-25 9h0m149-4h0m22 5h0m-218 18h0m28 18h0m73-2h0m-44 6h0m2 28h0m87-2h0m-97 18h0"/><path id="TB" fill="none" stroke-linecap="round" d="M253 275h0m85-1h0m-80 14h0m109-7h0m50-5h0m-108 19h0m102 25h0m86 3h0m-218 11h0m44 0h0m80-6h0m101 1h0m10 0h0m-215 18h0m44-3h0m81-1h0m185 4h0m-437 5h0m13 3h0m31-5h0m21 9h0m43-2h0m123-6h0m29-1h0m10 4h0m44-4h0m-80 11h0m83 7h0m-343 15h0m17-4h0m237 7h0m152 4h0m9-1h0m93 7h0m-420 7h0m85 5h0m119-3h0m53 2h0m0-10h0m19 5h0m48 5h0m21 0h0m-430 11h0m67-4h0m34 1h0m249-6h0m22 9h0m64-4h0m-288 17h0m21-4h0m130-6h0m88 5h0m98-3h0m-458 19h0m65-10h0m57 7h0m55-4h0m7 3h0m132-5h0m56 2h0m-352 11h0m254 0h0m26 9h0m-332 1h0m106 9h0m91 2h0m56-6h0m11 2h0m0-6h0m83 1h0m51 1h0m52 8h0m-459 5h0m4-2h0m11 4h0m8-2h0m48 2h0m55 0h0m11-5h0m125 0h0m69 2h0m141-2h0m-250 23h0m84-1h0m44-1h0m103 2h0m1-11h0m-348 14h0m72 2h0m12-3h0m169 8h0m93 0h0m-395 2h0m99 7h0m79 1h0m91 0h0m6 3h0m55-1h0m39-5h0m7 5h0m15 1h0m-394 6h0m100 5h0m9-7h0m13 5h0m73-7h0m170 6h0m-336 9h0m11 3h0m99-4h0m60 4h0m23 0h0m10-6h0m-75 15h0m68-1h0m90 8h0m0-8h0m-307 11h0m81 1h0m-69 16h0m5 4h0m127-5h0m5 4h0m217 1h0m-257 10h0m157 1h0m17-1h0m-168 5h0m51 5h0m105 0h0m38-5h0m15-1h0m-210 13h0m28 7h0m23-9h0m8 10h0m25-9h0m1 1h0m20 15h0m-68 18h0m4-1h0m122-2h0m-80 9h0m5 0h0m0 2h0m65 1h0m-49 8h0m9 3h0m31 6h0m-21 39h0"/><path id="TC" fill="none" stroke-linecap="round" d="M292 263h0m11-4h0m21 3h0m-38 3h0m22 2h0m6 3h0m1-5h0m62 1h0m2 8h0m33-1h0m-125 7h0m5 2h0m14 5h0m18-7h0m26-1h0m12 8h0m15-1h0m27-3h0m62 4h0m-219 7h0m31-2h0m7 8h0m1-4h0m53-5h0m14 5h0m33-6h0m-178 15h0m14-5h0m4 4h0m14-2h0m12 4h0m3 1h0m18 3h0m3-4h0m2-2h0m15 6h0m44-10h0m20 3h0m26 7h0m11-2h0m11 3h0m4-9h0m3 5h0m6-5h0m39 4h0m-239 15h0m27-9h0m24 6h0m9 2h0m22-3h0m7 1h0m11-2h0m1 5h0m33-9h0m15 2h0m13 7h0m1-2h0m2-2h0m5-5h0m10 2h0m11 7h0m15-7h0m1 3h0m1-3h0m5 0h0m26 4h0m18-5h0m31 8h0m26 2h0m-346 5h0m10-3h0m2 8h0m41-6h0m19-2h0m13 5h0m28 3h0m56-3h0m22-4h0m1 1h0m28 1h0m31 0h0m12-2h0m43 8h0m17-6h0m54 2h0m-358 15h0m7-8h0m21 0h0m1 4h0m41 2h0m3 0h0m15-4h0m7 1h0m38 7h0m6-11h0m23 3h0m28 8h0m8-9h0m3 7h0m6 1h0m1-2h0m72 0h0m3-1h0m32 4h0m2-8h0m24-2h0m12 2h0m7 8h0m-396 1h0m44 8h0m9-8h0m12 4h0m1-2h0m2 4h0m25 3h0m61 0h0m65-8h0m37 11h0m120-3h0m1 2h0m13-10h0m8 8h0m34 1h0m19-1h0m-468 4h0m12 8h0m16-8h0m62 5h0m42-2h0m32-1h0m76 6h0m22 2h0m45-8h0m26 5h0m10-4h0m12 5h0m51-1h0m29 0h0m47-3h0m4 3h0m-452 8h0m39 6h0m36-9h0m12 7h0m24-3h0m8-3h0m36 1h0m9 2h0m4 2h0m16 0h0m2 4h0m0-7h0m44-2h0m3 1h0m24 8h0m0-10h0m5 6h0m6-1h0m5-1h0m5 2h0m26 1h0m12-7h0m10 0h0m10 6h0m12-2h0m4 3h0m7-7h0m3 1h0m13 1h0m17 6h0m6-2h0m2 4h0m23-9h0m14-2h0m2 9h0m16-5h0m5 5h0m-498 8h0m3-4h0m40 8h0m17 0h0m44-4h0m5-1h0m27 0h0m114 3h0m1-5h0m20 9h0m35-2h0m48 2h0m5-10h0m36 3h0m27 6h0m33-1h0m17 2h0m25-1h0m6 1h0m-517 3h0m19 1h0m5 7h0m2-6h0m47 1h0m18 2h0m36-7h0m15 0h0m15 1h0m15 4h0m15 5h0m43-2h0m18-6h0m6 6h0m17-5h0m3-3h0m11 5h0m4 4h0m16 2h0m7-4h0m16 3h0m15-9h0m44 7h0m4 2h0m44-1h0m11 0h0m11-1h0m56 0h0m-495 6h0m1-1h0m35 8h0m25 2h0m12 0h0m0-11h0m21 6h0m25 4h0m37-1h0m84-7h0m44 8h0m60-9h0m52 3h0m9 3h0m16-5h0m50 10h0m5-11h0m12 1h0m-516 11h0m19 8h0m60-5h0m17 6h0m6-3h0m3-6h0m16 0h0m18 3h0m2 6h0m12-9h0m6 3h0m3 2h0m5 5h0m5 0h0m10-2h0m17 2h0m34-5h0m48-1h0m10-3h0m9 10h0m27-1h0m86-4h0m9-1h0m16-2h0m43 7h0m30-2h0m-471 4h0m1 1h0m2 6h0m13-3h0m7 3h0m16-2h0m24 4h0m2-2h0m2 0h0m2-1h0m30-5h0m17 0h0m29 6h0m35-2h0m8-3h0m17 0h0m6 3h0m12-3h0m3 2h0m1 5h0m19 1h0m11-8h0m29 2h0m16 6h0m11-8h0m11-2h0m9 8h0m38-1h0m-391 5h0m55 2h0m9 5h0m9-6h0m33 2h0m34 4h0m14 1h0m2 3h0m58-7h0m8-3h0m19 0h0m21 9h0m15-4h0m6-3h0m36 3h0m24-1h0m71-6h0m6 0h0m24 5h0m3 7h0m1-4h0m5 0h0m8-6h0m22-2h0m0 6h0m-431 13h0m24 1h0m12-6h0m22 9h0m4 0h0m80 0h0m7-5h0m29 0h0m3 1h0m26-5h0m8 1h0m3 2h0m35 5h0m79-9h0m78 8h0m21-1h0m3-6h0m1 8h0m2 0h0m9-10h0m7 3h0m1 0h0m-520 12h0m34 0h0m18 7h0m28-7h0m8 7h0m33-5h0m2 1h0m5 0h0m21 2h0m15-4h0m8 1h0m45-5h0m28 9h0m8-3h0m20-6h0m0 8h0m7-8h0m10 7h0m36 3h0m11-4h0m13 4h0m13-3h0m17 5h0m0-11h0m38 2h0m49 1h0m17 4h0m13-2h0m-433 13h0m7-7h0m38 11h0m25-5h0m17-4h0m19 1h0m18 2h0m35-5h0m37 9h0m12-2h0m9-6h0m11 10h0m27-8h0m24 0h0m23 4h0m35-6h0m35 1h0m27 8h0m-423 10h0m35-6h0m16 1h0m1 9h0m31-2h0m20 1h0m3 0h0m63-5h0m3-1h0m5-5h0m24 11h0m18-9h0m3 6h0m7-2h0m7 1h0m13 0h0m0-2h0m2 3h0m18-7h0m7 9h0m49-2h0m9-8h0m12 9h0m11-1h0m12 3h0m54 0h0m-433 4h0m43-2h0m67 1h0m27 8h0m4-4h0m2 3h0m27-8h0m43 4h0m3-4h0m23 9h0m2-10h0m1 8h0m33-3h0m5 3h0m14-6h0m28 2h0m25-3h0m14 10h0m5-6h0m15-3h0m4 6h0m18-5h0m4 8h0m29 0h0m18-4h0m-457 10h0m36-4h0m67 5h0m27 1h0m44-6h0m10 10h0m9-1h0m40-9h0m7 4h0m0-2h0m25 4h0m12 4h0m41-11h0m2 9h0m22-8h0m12 6h0m3-1h0m15 1h0m2-2h0m29-3h0m5-2h0m3 6h0m0 6h0m9-5h0m10 3h0m7 1h0m-413 1h0m4 9h0m13 2h0m10 1h0m35-2h0m1-4h0m5-4h0m17 6h0m44 0h0m9-2h0m6 4h0m8-3h0m2-4h0m14 5h0m8 1h0m1 3h0m5-8h0m19 1h0m9-5h0m5 9h0m60-2h0m26 3h0m14-4h0m8-1h0m44 0h0m16 5h0m19 1h0m-394 10h0m12-8h0m11 4h0m27 1h0m18 5h0m24-7h0m5 3h0m37 4h0m12 0h0m10-5h0m0 0h0m30 4h0m7-1h0m36 0h0m6-6h0m8 6h0m1 1h0m38-2h0m5-8h0m21 11h0m1-5h0m14-1h0m10 3h0m20 0h0m1-5h0m23 9h0m10-10h0m9-1h0m-383 20h0m15-8h0m5 2h0m76 2h0m21 5h0m8-1h0m1-2h0m27 4h0m14-7h0m27-4h0m18 9h0m28-1h0m43-4h0m48 3h0m1 5h0m26-1h0m15-8h0m-383 11h0m10 5h0m4-2h0m5 1h0m8-4h0m8-2h0m13 4h0m14 6h0m8-1h0m7-3h0m29-1h0m18-1h0m20-1h0m20 7h0m5-8h0m1 7h0m7-1h0m2 0h0m4-1h0m26-3h0m7-2h0m7 4h0m2-5h0m15-1h0m12 6h0m11 4h0m12 2h0m29-5h0m3 4h0m11-11h0m33 12h0m-306 3h0m13-1h0m1 3h0m34 3h0m16-8h0m43 7h0m67 0h0m23-3h0m27-3h0m11 0h0m8 2h0m7 8h0m25-8h0m7 8h0m17-5h0m11 5h0m-278 12h0m51-9h0m11-1h0m27 7h0m1 1h0m12-1h0m33-5h0m16-2h0m29 9h0m76-8h0m10 5h0m-262 17h0m0-6h0m8 3h0m20-4h0m27-1h0m35 4h0m69-1h0m0 0h0m64-3h0m8 6h0m1 0h0m-218 3h0m69 0h0m14 8h0m36-7h0m9 6h0m34 0h0m44-1h0m0-6h0m15 2h0m-209 12h0m26 8h0m49-2h0m88-7h0m16 3h0m-153 8h0m1 7h0m10-3h0m81 5h0m4-2h0m0-1h0m27 0h0m27-6h0m7 2h0m-137 21h0m12-8h0m28 2h0m22 5h0m27-6h0m6-5h0m-54 16h0m13 4h0m20-4h0m5-2h0m5 9h0m5-5h0m-66 17h0m10-5h0m22-5h0m3 1h0m32 4h0m-59 13h0m51-4h0m-38 23h0"/><path id="TD" fill="none" stroke-linecap="round" d="M327 259h0m11 5h0m7-3h0m14 2h0m-88 9h0m1-5h0m15-1h0m33 7h0m10-3h0m15 1h0m3 1h0m10-6h0m40-2h0m2 1h0m28 7h0m-156 7h0m12 8h0m4-6h0m53 2h0m0-1h0m18-1h0m4 6h0m4-1h0m1-6h0m8 0h0m8 7h0m6-5h0m13-2h0m3 5h0m16 0h0m1-3h0m9-2h0m3 6h0m6-9h0m3 6h0m7-3h0m9 4h0m-229 6h0m29 3h0m31 3h0m4 3h0m36-6h0m4 7h0m3-7h0m10 0h0m27 2h0m2-6h0m2 2h0m3-1h0m16 8h0m53-8h0m7 5h0m13 2h0m-251 7h0m5-2h0m8-1h0m6 7h0m1-5h0m3 9h0m3-6h0m21 3h0m7-6h0m10-1h0m22-2h0m2 0h0m15 12h0m3-10h0m2 2h0m2 4h0m1-4h0m24 0h0m4 2h0m33 2h0m0-3h0m4 0h0m8 1h0m14 4h0m14-2h0m4 1h0m12-5h0m4 6h0m4-2h0m12-2h0m43 6h0m-320 7h0m17 3h0m15 1h0m21-10h0m1 0h0m12 10h0m21-7h0m3 1h0m12-1h0m10 6h0m8-2h0m70-5h0m17-2h0m1 10h0m19-1h0m3 0h0m19-8h0m3 10h0m4-1h0m7-9h0m14 6h0m7 0h0m0-7h0m2 1h0m13 8h0m4-4h0m1 2h0m3-7h0m1 5h0m14 6h0m1-2h0m11-7h0m-337 17h0m17-8h0m21 10h0m6-5h0m15-2h0m14 8h0m2 1h0m5-5h0m8 2h0m0-9h0m14 5h0m8 7h0m19-1h0m13-9h0m3 9h0m5-8h0m4 4h0m14-4h0m5-2h0m15 3h0m14 2h0m10-5h0m4 1h0m1 4h0m5 1h0m9 3h0m0-6h0m11 6h0m3-5h0m4 7h0m9-1h0m2-1h0m6-6h0m3-2h0m15 6h0m8-6h0m5 2h0m8 8h0m26-11h0m3 6h0m20-5h0m0 4h0m31 2h0m-409 12h0m5-5h0m17 7h0m43-4h0m8-3h0m4 6h0m45-6h0m6 7h0m12 1h0m14-1h0m12-7h0m21 5h0m20-5h0m5 3h0m25 2h0m2-4h0m1 2h0m30-2h0m1 2h0m3 3h0m43-5h0m9-3h0m6 0h0m10 5h0m6 1h0m24 1h0m15-5h0m2 7h0m1-1h0m11-3h0m7-1h0m16-2h0m-433 15h0m5-2h0m9 1h0m2-4h0m0 2h0m2 4h0m10 3h0m8-4h0m16-3h0m15 8h0m7-4h0m13-7h0m2 5h0m11-5h0m0 1h0m5-1h0m7 4h0m9 0h0m9 2h0m11-2h0m14 5h0m32-7h0m30 6h0m4-8h0m8 7h0m15 5h0m9-12h0m6 11h0m12-5h0m5 3h0m5-9h0m2 5h0m4-2h0m41 0h0m20 1h0m0-1h0m6 6h0m20-5h0m10 2h0m11 4h0m4-1h0m1 2h0m0-8h0m11 5h0m44-5h0m-432 10h0m2 11h0m58-6h0m2-4h0m8 2h0m11 7h0m9-10h0m16 10h0m23-9h0m19 9h0m12-3h0m9-6h0m12 9h0m4 1h0m1-10h0m22-2h0m0 11h0m18-4h0m5 4h0m29-8h0m8 0h0m70 3h0m10-3h0m27 4h0m5-6h0m17 7h0m16-3h0m5 5h0m2-1h0m17 0h0m3-8h0m-470 15h0m17-1h0m8 5h0m1-1h0m49-5h0m4-2h0m21 11h0m14-1h0m6-7h0m7-1h0m2 5h0m23 0h0m11 5h0m51-5h0m4 5h0m15-2h0m26-4h0m11 1h0m44 1h0m5-7h0m9 0h0m4 2h0m13-2h0m6 7h0m15 0h0m3 0h0m19-4h0m3 3h0m7-3h0m3 7h0m3-4h0m13 5h0m25-5h0m10 2h0m27-8h0m-497 22h0m22-1h0m1-2h0m62-5h0m5-2h0m18-1h0m2 2h0m10 7h0m3-8h0m1-1h0m24 1h0m6 0h0m26 4h0m5 3h0m19-5h0m7 9h0m0-6h0m1 5h0m47-8h0m6-3h0m3 2h0m3 0h0m18 6h0m6 1h0m1-8h0m10 6h0m14 1h0m14 1h0m15 2h0m10-5h0m15 3h0m11 0h0m1-2h0m4 0h0m3 5h0m3-3h0m10-8h0m40 2h0m59-2h0m4 10h0m4-9h0m-513 12h0m1 7h0m1-8h0m5 2h0m13 6h0m24-8h0m3 8h0m7 3h0m1-9h0m0 5h0m23-4h0m1 0h0m29 8h0m19-3h0m7-4h0m5 2h0m11 1h0m10 1h0m26 1h0m1-8h0m33 4h0m14-5h0m2 0h0m1 4h0m0-2h0m10-2h0m0 0h0m22 7h0m6-1h0m35-1h0m1 4h0m1-8h0m12 0h0m4 4h0m2 3h0m17-2h0m15-7h0m6 7h0m4-3h0m2 7h0m5-1h0m12-4h0m2 5h0m18-8h0m6 7h0m4 2h0m3-5h0m5-5h0m9 2h0m1 6h0m2-2h0m6-4h0m1 6h0m3-9h0m19 5h0m4 3h0m5-6h0m9-2h0m9 10h0m23-8h0m4 5h0m-527 4h0m13 7h0m49-4h0m40 0h0m6 0h0m15 9h0m6-6h0m0 3h0m14-5h0m10 6h0m16-3h0m12 4h0m12-7h0m2 2h0m20-1h0m40 4h0m10 0h0m12-6h0m18 7h0m2-5h0m10 3h0m23-1h0m13-2h0m36 3h0m22 1h0m7-8h0m20 2h0m3 4h0m18 1h0m7 0h0m17 3h0m55-10h0m-517 12h0m4 4h0m19 0h0m1 0h0m5-2h0m22 0h0m20 2h0m14 7h0m7-8h0m2 0h0m0-3h0m7-1h0m14 11h0m37-10h0m32 9h0m26-3h0m13 4h0m21-2h0m58-4h0m28 0h0m9-3h0m12 9h0m4-3h0m6-6h0m26 5h0m4 0h0m1-6h0m15 6h0m13-6h0m3 9h0m23-4h0m4-1h0m4 1h0m13-1h0m21 6h0m7-1h0m10-8h0m7 8h0m7 0h0m-527 11h0m6-8h0m26 0h0m11 6h0m5 0h0m33-7h0m9 6h0m78-3h0m19-1h0m12 4h0m17-3h0m4 8h0m1-2h0m5-1h0m13 4h0m2 0h0m21-3h0m22-1h0m21 1h0m60-4h0m47-2h0m24 8h0m44-5h0m9-5h0m17-1h0m0 1h0m1 6h0m5-2h0m5 0h0m14-5h0m-525 13h0m2 4h0m4-5h0m12 1h0m35-1h0m2 6h0m2 4h0m23-5h0m2-2h0m4-1h0m11 4h0m9 4h0m6-4h0m7 5h0m16-5h0m18-3h0m14 7h0m4-2h0m9-4h0m21 0h0m11-1h0m1 4h0m4 2h0m12-1h0m20-4h0m11 3h0m2-3h0m2 1h0m27 1h0m10-1h0m19-4h0m23 9h0m2-6h0m2 6h0m2 0h0m7-2h0m0-5h0m8 5h0m1 1h0m27-7h0m5 0h0m23 1h0m8 0h0m8 4h0m25-4h0m0-1h0m21 8h0m7-1h0m9-2h0m1 1h0m20 1h0m-525 11h0m47-2h0m4-3h0m3 3h0m1-2h0m7 6h0m20-4h0m38-5h0m17 8h0m24 2h0m15-9h0m0 4h0m21 4h0m8-6h0m11 2h0m17-1h0m9 3h0m19-3h0m28 7h0m55-2h0m2-4h0m17-1h0m40 4h0m6-6h0m5 3h0m25 1h0m4 3h0m1-8h0m23 2h0m1 2h0m3 4h0m14-5h0m1-2h0m35 2h0m-505 12h0m1-1h0m1 5h0m3-4h0m7 1h0m5-1h0m7 7h0m14-4h0m17-5h0m2-1h0m7 6h0m48-3h0m6 6h0m3-3h0m19-3h0m3 1h0m3 2h0m7-1h0m2 5h0m7-3h0m0 0h0m7-3h0m12-1h0m9-5h0m16 0h0m16 5h0m6 3h0m3-7h0m18 7h0m23 3h0m10-5h0m14 0h0m9 1h0m6 0h0m30 2h0m16-8h0m5 0h0m1 0h0m14 11h0m3-5h0m4-4h0m5-1h0m2 1h0m16-3h0m3 3h0m6 8h0m6-10h0m3 6h0m16 3h0m3-7h0m12-1h0m4 6h0m3-6h0m3 9h0m18-11h0m0 0h0m-495 12h0m1 3h0m3-2h0m3 8h0m3 1h0m23 0h0m9 0h0m3-3h0m9-1h0m6-3h0m11 6h0m4-2h0m6 3h0m3-3h0m9-4h0m9 5h0m24 4h0m2-3h0m16-4h0m6-4h0m1 5h0m28-3h0m4 5h0m57-6h0m92-1h0m1 0h0m6 9h0m5-3h0m5 3h0m8 0h0m1 2h0m10-9h0m5 0h0m13 0h0m27-3h0m13 7h0m16 3h0m5-3h0m11-4h0m3 4h0m-448 7h0m0 2h0m29-2h0m19 2h0m6-2h0m11 0h0m11 4h0m3 0h0m12-1h0m8 7h0m2-10h0m0 2h0m10 7h0m12-10h0m9 2h0m2 3h0m4-1h0m5 5h0m28-6h0m1 5h0m28 0h0m1 0h0m18-7h0m8 6h0m28-4h0m17-1h0m16 5h0m32 1h0m7-8h0m7 0h0m2 7h0m8-1h0m2-5h0m4 6h0m16-3h0m38 3h0m9 1h0m8-5h0m1 2h0m2-2h0m4 7h0m2-4h0m3 1h0m11-5h0m28 0h0m-474 10h0m13 10h0m8 0h0m2-1h0m7-2h0m16-6h0m31 7h0m8-2h0m19 2h0m7-5h0m8 4h0m7-8h0m15 7h0m31 1h0m4-6h0m18 1h0m10 7h0m5-2h0m27 3h0m2-4h0m35-6h0m6 9h0m48-6h0m4 2h0m7 3h0m6 1h0m4-10h0m19 1h0m9 11h0m1 0h0m4-5h0m8 5h0m2-3h0m9-5h0m7-2h0m8 5h0m17 2h0m6-3h0m4 0h0m16 6h0m2-8h0m-436 14h0m12-2h0m3 3h0m22-1h0m6 3h0m13 1h0m1-9h0m2 6h0m13-4h0m0 5h0m1 3h0m5-1h0m1-1h0m7-2h0m64 2h0m12-6h0m1 0h0m29 6h0m4 0h0m19-7h0m3 9h0m1-6h0m6 2h0m4-1h0m11 0h0m10 0h0m17-3h0m10 8h0m21-9h0m9 8h0m23-3h0m1-3h0m3 6h0m15-6h0m0 1h0m5-4h0m8 1h0m23 6h0m8 0h0m21-1h0m2 1h0m-426 4h0m36 6h0m11-4h0m3 8h0m2-6h0m2-1h0m35 7h0m2-9h0m15 6h0m11-1h0m21-4h0m8 3h0m4-3h0m5 7h0m7 3h0m1-4h0m1-5h0m0 3h0m10 2h0m8-4h0m1 8h0m10-6h0m11-2h0m3 6h0m2-1h0m2 0h0m6-2h0m7 5h0m0-7h0m53 2h0m5-4h0m4-2h0m3 1h0m7 1h0m8 2h0m3-1h0m19-2h0m13 5h0m6-1h0m4-5h0m5 6h0m20-4h0m2 1h0m14 3h0m6-1h0m0-3h0m6 6h0m22-3h0m-411 10h0m13 2h0m12 5h0m10-10h0m8 0h0m8 0h0m16 5h0m8 5h0m10-3h0m7-3h0m20 4h0m15 0h0m2-4h0m0 5h0m24-10h0m3 2h0m14 1h0m6 3h0m3 4h0m5-3h0m2-1h0m1 4h0m23-10h0m16 11h0m25-7h0m4 7h0m16-4h0m2-3h0m26-2h0m13 0h0m11 0h0m58 0h0m8 3h0m1-3h0m-364 21h0m8-1h0m41-4h0m27 4h0m15-5h0m25 3h0m2-7h0m7 8h0m11 2h0m13-9h0m2 3h0m105-5h0m6 3h0m16 7h0m22-1h0m8 2h0m3 1h0m14-9h0m5 9h0m-324 3h0m12 7h0m2 1h0m5-6h0m0-3h0m0 9h0m1 1h0m8-2h0m45-2h0m6 1h0m5-2h0m6-6h0m1 0h0m11 6h0m23-2h0m20 7h0m10-11h0m13 1h0m13 1h0m30-1h0m1 9h0m26-4h0m20-6h0m2 4h0m12-1h0m7-2h0m17 8h0m11-5h0m28-2h0m-289 17h0m31 0h0m3 3h0m40-5h0m26 0h0m2-2h0m22 8h0m3-7h0m25 5h0m14-7h0m18 6h0m19-6h0m4 3h0m2-5h0m0 2h0m0 9h0m7-10h0m0 7h0m30-1h0m2-6h0m4-1h0m25 2h0m4 7h0m4-4h0m1-2h0m3 1h0m8-3h0m-299 11h0m2 0h0m76 10h0m3-9h0m25 3h0m4 6h0m36 0h0m6-3h0m12-5h0m19 2h0m0 0h0m6 1h0m1 0h0m1-2h0m1 4h0m1 0h0m39-7h0m15 3h0m23 0h0m5-1h0m1 3h0m-267 8h0m19 5h0m1 4h0m3-3h0m3 1h0m19-3h0m35-4h0m12-1h0m9 11h0m6-10h0m12 0h0m8 7h0m11-8h0m5 1h0m15 7h0m3 2h0m19-4h0m3-5h0m23-1h0m16 8h0m8 1h0m7-1h0m14 1h0m1-5h0m5 1h0m10-5h0m-228 22h0m28-7h0m12 3h0m20-6h0m1 10h0m2-2h0m11-5h0m37 7h0m9-9h0m3 10h0m13 0h0m23-9h0m2-2h0m6 0h0m40 5h0m-199 7h0m1 7h0m4 4h0m3-8h0m9 2h0m7-1h0m15-1h0m5 0h0m12 2h0m44-5h0m24 9h0m22-10h0m18 7h0m9 3h0m-164 5h0m17-2h0m9 0h0m26 4h0m47 5h0m35-1h0m-118 14h0m16-11h0m15 2h0m3-1h0m11 3h0m6 4h0m32-8h0m7 1h0m2 0h0m19 3h0m15-3h0m2 3h0m3 0h0m15 1h0m-137 9h0m8-1h0m17 10h0m3-9h0m7 0h0m7 3h0m17-3h0m8 8h0m31-3h0m9 2h0m6-2h0m10 2h0m1-8h0m-112 11h0m11 8h0m10-8h0m18 2h0m17 9h0m32-3h0m14-1h0m-85 12h0m51-2h0m12 7h0m-60 1h0m2 1h0m0 2h0m20 6h0m3 0h0m5 1h0m8-2h0m6 0h0m15-5h0m-12 9h0m2 2h0"/><path id="TE" fill="none" stroke-linecap="round" d="M257 275h0m30-2h0m5-7h0m12 4h0m22 5h0m6-9h0m13 8h0m17-10h0m19 4h0m3 2h0m14-2h0m25 3h0m3 5h0m-186 7h0m12-1h0m19 4h0m0-6h0m14 7h0m24-8h0m4-1h0m16 9h0m11-10h0m22-1h0m8 1h0m7 3h0m6 6h0m0-6h0m19-2h0m30 3h0m18 1h0m-173 12h0m33 3h0m1-1h0m15 3h0m29-3h0m12-5h0m50 7h0m4 2h0m5 0h0m6-1h0m10-1h0m25 2h0m7-11h0m2 6h0m-276 15h0m16-4h0m2 1h0m26 2h0m9-3h0m24 1h0m20 5h0m3-7h0m29-3h0m57 2h0m10-3h0m23 6h0m12 1h0m3 4h0m9-7h0m21-4h0m11 4h0m-243 12h0m4 5h0m7 0h0m33-6h0m2-2h0m4 7h0m55 2h0m14 1h0m4-3h0m4-1h0m3-3h0m4-4h0m23 4h0m6 6h0m23-3h0m8-3h0m40 6h0m22-9h0m11 4h0m16 5h0m18-6h0m0 2h0m-324 14h0m8-8h0m16 10h0m11-5h0m18-1h0m2 6h0m4-1h0m9-5h0m16 3h0m28 1h0m17-5h0m18 0h0m2 4h0m4-1h0m5 1h0m18-2h0m57 0h0m13 5h0m27-10h0m22 4h0m12 3h0m18-7h0m6 4h0m4-5h0m-370 15h0m48-3h0m1 2h0m33-1h0m13 4h0m2 2h0m37 2h0m5-6h0m34-3h0m3 8h0m0-1h0m20-5h0m29 8h0m17-1h0m29-2h0m20 1h0m2 2h0m24-3h0m3 2h0m1 3h0m7-3h0m25-7h0m48 8h0m20-1h0m-436 9h0m9 3h0m56-6h0m10 4h0m35-2h0m32-3h0m13-1h0m13 0h0m21 7h0m12-5h0m23 6h0m27-6h0m1 9h0m25-4h0m76 0h0m10-3h0m10-3h0m10 8h0m14-3h0m11 4h0m35 0h0m-437 5h0m24 7h0m2-10h0m36 6h0m2-4h0m4 4h0m67 0h0m2 5h0m17-5h0m10 2h0m21-3h0m0 6h0m6-4h0m18-3h0m19 3h0m13-2h0m10 1h0m5-7h0m1 7h0m7-1h0m0-4h0m30 1h0m3-2h0m38-1h0m5 1h0m2 9h0m2-1h0m26-6h0m58 6h0m1 0h0m2 0h0m31-6h0m7 3h0m-495 15h0m55-1h0m17-3h0m64-3h0m42-1h0m0 9h0m11 0h0m20-7h0m0 8h0m23-3h0m31-6h0m37 4h0m32 1h0m4-1h0m0 5h0m37-8h0m21 8h0m3-10h0m36 3h0m15 1h0m29 5h0m-457 9h0m41 1h0m26-2h0m33 2h0m0-3h0m11 6h0m14 0h0m62-9h0m2 1h0m31 7h0m29 1h0m18 0h0m1-11h0m86 6h0m13-1h0m44-2h0m3 0h0m44 4h0m1-7h0m11 3h0m7 7h0m2-6h0m-498 10h0m18 8h0m2-5h0m1 3h0m18-4h0m1 4h0m63-1h0m22-3h0m49-3h0m34 0h0m2 6h0m13 4h0m8-3h0m9-5h0m12-2h0m21 4h0m12-3h0m30 10h0m12-4h0m42-7h0m11 0h0m7 5h0m13 1h0m8 4h0m10-3h0m8 1h0m4-4h0m11 1h0m7 0h0m5-2h0m6-2h0m0 0h0m40 2h0m15 6h0m-512 13h0m3-2h0m44 2h0m42-7h0m26-1h0m21 9h0m7-6h0m15-2h0m8 3h0m1 2h0m22-7h0m23 1h0m7 7h0m37 2h0m34-10h0m2 1h0m6 2h0m1-3h0m7 6h0m8 0h0m35-1h0m7 4h0m9-10h0m5 5h0m5-2h0m39 2h0m1 4h0m3-8h0m5 5h0m17-6h0m13 10h0m-449 3h0m1-1h0m5 1h0m56 5h0m10-2h0m27 0h0m9 7h0m19-8h0m5 0h0m35 7h0m13-3h0m68 1h0m7-7h0m122 4h0m23-2h0m0 6h0m73 1h0m31-7h0m-507 9h0m41 4h0m35 2h0m32-1h0m14-2h0m22-3h0m19 6h0m6-4h0m11 7h0m28-5h0m2 5h0m29-4h0m30 4h0m3-6h0m36 0h0m2 5h0m4-2h0m42 4h0m29-4h0m4-2h0m10-4h0m6 6h0m20-4h0m14 2h0m20 2h0m2-2h0m9-1h0m6 2h0m28 5h0m-494 3h0m17 8h0m30-4h0m13 0h0m37 5h0m1-3h0m7-5h0m29 2h0m73 2h0m43-6h0m5 9h0m47-9h0m4 9h0m0 1h0m0-9h0m10 2h0m40 5h0m22 1h0m14-9h0m6 1h0m17 8h0m51-1h0m2-1h0m6 2h0m12 1h0m-467 9h0m0 1h0m4 1h0m27-6h0m32-1h0m71-1h0m59 4h0m10 5h0m16-8h0m1 1h0m1 7h0m2-8h0m1 3h0m20 6h0m4-5h0m2 4h0m6-10h0m2 2h0m8 9h0m3-4h0m2 3h0m3-6h0m4-2h0m5 2h0m3-1h0m78-3h0m16 5h0m5-6h0m23 10h0m12 0h0m11 0h0m1 0h0m45-2h0m-512 5h0m6 9h0m72-6h0m8 7h0m22-11h0m71 1h0m27 9h0m4 0h0m24-6h0m27-1h0m1-2h0m1 7h0m14-1h0m21-1h0m18 1h0m10-1h0m69 4h0m2 1h0m23-11h0m57 2h0m16 8h0m-464 2h0m10 11h0m12-5h0m7-4h0m29 7h0m10-2h0m40 4h0m17-2h0m35 0h0m12 2h0m25-1h0m98-1h0m1-8h0m1 6h0m1 0h0m22 2h0m4-2h0m2-1h0m29 1h0m6-3h0m29 3h0m7 0h0m3 3h0m6-9h0m32 4h0m3 6h0m8-6h0m11 2h0m9-3h0m-473 11h0m13 7h0m2-8h0m26 5h0m37-1h0m9 0h0m37 3h0m21-8h0m26 0h0m6 9h0m2-6h0m5-3h0m13 7h0m14 4h0m56-3h0m19 0h0m8 2h0m1-8h0m8 2h0m0 5h0m19-5h0m11-1h0m7 4h0m5-6h0m23 5h0m5 4h0m8-4h0m16 4h0m5-7h0m8 8h0m4-5h0m16 4h0m7-2h0m15 1h0m-420 10h0m5-8h0m23 5h0m18 3h0m5 1h0m16-4h0m37 6h0m45-11h0m18 1h0m68 2h0m27 9h0m18-1h0m5 1h0m11-3h0m13 2h0m11-4h0m13-7h0m49 10h0m-422 4h0m12 0h0m13 10h0m12-4h0m43-6h0m3-1h0m5 7h0m3-6h0m50 5h0m27 0h0m13-4h0m24 8h0m27-5h0m29 4h0m14 0h0m17-1h0m31 3h0m36-9h0m13 0h0m13 7h0m22-9h0m-375 19h0m50-2h0m37 2h0m16-2h0m13-2h0m0-3h0m27 11h0m19-7h0m0-3h0m91 8h0m3-8h0m19 3h0m93 2h0m1 0h0m-380 15h0m12-6h0m12 7h0m12-11h0m6 11h0m0-10h0m20 6h0m32-5h0m9 5h0m16 0h0m12 1h0m8 2h0m17-7h0m11 5h0m5-7h0m11 1h0m71 4h0m30 4h0m7 0h0m19-4h0m27 5h0m-334 4h0m6 0h0m4 3h0m52 1h0m2-2h0m8-2h0m17 1h0m6 5h0m17 2h0m11-3h0m41-4h0m79-2h0m0-1h0m42 2h0m12 0h0m63 2h0m2 1h0m9-3h0m15 1h0m6 1h0m-340 13h0m13-2h0m13 1h0m3 2h0m25-1h0m7-1h0m0 4h0m12 0h0m4-2h0m15-3h0m8 5h0m9-1h0m9 4h0m10-11h0m18 4h0m1-2h0m24-1h0m18 9h0m10-1h0m1 1h0m20-3h0m12-3h0m18-4h0m44-1h0m9 0h0m25 4h0m-302 17h0m4 0h0m12-9h0m6 4h0m14-2h0m39 6h0m15-8h0m11 4h0m4 2h0m0-1h0m31-5h0m11 6h0m29 0h0m2 1h0m26-2h0m6-3h0m13 5h0m10-4h0m14 1h0m1 7h0m38-8h0m-266 16h0m16-5h0m0 6h0m37-1h0m6 2h0m25-1h0m9-6h0m7 3h0m24-2h0m5 6h0m2-6h0m1 8h0m26-8h0m17-3h0m-160 22h0m38-9h0m55 7h0m11-3h0m9 2h0m3-5h0m49 8h0m14-8h0m12 0h0m30 6h0m-216 6h0m0 4h0m9-2h0m24 1h0m14 3h0m11-6h0m28 10h0m54-11h0m8 6h0m33-2h0m10 7h0m-115 5h0m32 6h0m24-6h0m9-5h0m25 5h0m10 2h0m7-4h0m9 2h0m11-4h0m-194 11h0m8 2h0m73 0h0m22 7h0m4-2h0m8 3h0m6-7h0m57 4h0m-155 12h0m1-2h0m18 6h0m26-6h0m42 1h0m30 6h0m-92 4h0m32-3h0m8 0h0m14 4h0m0 0h0m9-1h0m0 2h0m11-5h0m9 10h0m1-6h0m-26 11h0m24 7h0m14-6h0m-86 9h0m9 0h0m36 3h0m34 2h0m-41 6h0m16 2h0"/><path id="BA" fill="none" stroke-linecap="round" d="M488 1006h0m-149 22h0m170 0h0m13-4h0m29 6h0m-115 11h0m37-3h0m21 1h0m-126 11h0m58-4h0m59 4h0m88 4h0m-186 7h0m30-2h0m114 2h0m12 6h0m-130 11h0m152 2h0m159 0h0m46-1h0m-448 7h0m7-5h0m185 11h0m125-1h0m-289 6h0m18-2h0m27 8h0m9-6h0m38 1h0m54-2h0m9 7h0m18 0h0m5-1h0m102 0h0m53 1h0m18-4h0m0 0h0m70 4h0m17-1h0m-450 13h0m140-2h0m37 1h0m4-1h0m108-5h0m117 5h0m11 0h0m20-5h0m7 1h0m-271 12h0m115 6h0m21-11h0m1 3h0m34 1h0m4-1h0m2 3h0m24 3h0m46-3h0m-72 13h0m40-1h0m-98 9h0m102 9h0m17-5h0m76 4h0m12-10h0m-371 18h0m1-1h0m16 3h0m157-3h0m29-1h0m133 5h0m21-8h0m-123 21h0m50-7h0m32-1h0m-159 13h0m37 2h0m59-1h0m11-2h0m-40 21h0m35-4h0"/><path id="BB" fill="none" stroke-linecap="round" d="M498 1006h0m-164 5h0m11 6h0m12-6h0m64 1h0m60 1h0m5-2h0m4 9h0m22-9h0m5 1h0m-146 13h0m26 5h0m27 0h0m6-4h0m2 6h0m22-10h0m77 2h0m6 3h0m7 1h0m3-7h0m-191 18h0m7-5h0m11-1h0m14 2h0m4-2h0m44 6h0m55 3h0m42 1h0m22-10h0m-191 16h0m9-1h0m12-2h0m56 6h0m85-1h0m-112 8h0m121 1h0m199 0h0m-403 16h0m20-1h0m12 5h0m131-4h0m19 3h0m45-1h0m126-1h0m-340 8h0m17 1h0m2-1h0m16-1h0m32 5h0m61-8h0m7 2h0m14-2h0m3 5h0m2 3h0m49-6h0m161 3h0m3 3h0m23 1h0m65 0h0m12-1h0m-474 12h0m7-6h0m25 7h0m34-4h0m17-3h0m15 0h0m12 1h0m40 4h0m23-6h0m47 9h0m92-2h0m12-4h0m1 4h0m1 2h0m27-6h0m48 3h0m29-4h0m4 3h0m-432 9h0m42 1h0m22 0h0m137-5h0m29 2h0m58 9h0m9-4h0m29 3h0m76 0h0m47-5h0m14-1h0m35 1h0m-499 11h0m16 8h0m14-4h0m8-3h0m19 0h0m4 7h0m10-10h0m79 0h0m6 9h0m155-9h0m5 1h0m30 1h0m1 2h0m0 2h0m26 0h0m10 1h0m18-8h0m7 1h0m44 5h0m5-3h0m-433 15h0m37-5h0m4 1h0m16 7h0m23-3h0m42-1h0m4-4h0m143 7h0m52 2h0m36-4h0m2 4h0m3-5h0m5-5h0m19 5h0m36 5h0m2-1h0m20-3h0m13 2h0m14 2h0m4-7h0m-460 10h0m60 5h0m181-1h0m0 2h0m58-6h0m6-2h0m6 2h0m36 6h0m-353 8h0m22 0h0m58 7h0m11-8h0m5 0h0m7-2h0m3 3h0m16 1h0m1 3h0m1 1h0m132 3h0m20-1h0m5-3h0m52-4h0m0 3h0m32-2h0m34 6h0m-131 9h0m107-2h0m2 4h0m23-2h0m12-1h0m16-5h0m-157 16h0m30-2h0m44 0h0m22 7h0m3-4h0m23-6h0m-91 20h0m18-6h0m20 4h0"/><path id="BC" fill="none" stroke-linecap="round" d="M346 1005h0m143 3h0m-148 11h0m21-6h0m18 0h0m16-2h0m22 1h0m22 6h0m6-1h0m24-2h0m10-6h0m21 7h0m2 1h0m6-2h0m-185 15h0m5-4h0m8-4h0m5 2h0m22 2h0m11-1h0m1 7h0m15-12h0m19 0h0m27 2h0m3 1h0m16-3h0m1 4h0m80-4h0m9 4h0m-224 15h0m2-4h0m23-3h0m15 7h0m1 4h0m4-6h0m0 1h0m6-1h0m4 2h0m26 1h0m8-3h0m6-1h0m14 1h0m7 4h0m0-9h0m11 9h0m25-4h0m3 1h0m2 3h0m2-5h0m1 3h0m8-2h0m9-3h0m2 7h0m1-6h0m1 4h0m15 4h0m0-9h0m14 4h0m11 4h0m6 1h0m2-5h0m4 6h0m14-3h0m11-2h0m-233 14h0m14-1h0m4-3h0m34 3h0m25-2h0m6 4h0m2 0h0m41-7h0m8 9h0m0-11h0m26 6h0m11-5h0m5 6h0m12 3h0m4-9h0m4 10h0m6-8h0m28 2h0m1-4h0m1 1h0m143 3h0m0 1h0m-397 7h0m7 5h0m6 3h0m1-8h0m29-1h0m14 2h0m12 5h0m11-3h0m26 0h0m12 7h0m62-2h0m46-6h0m21 2h0m5-2h0m3 8h0m149-8h0m11 7h0m-413 7h0m24 2h0m7-1h0m2 5h0m1-10h0m3-1h0m17 9h0m4-1h0m1 1h0m5-2h0m1-8h0m30 2h0m23 0h0m7 9h0m12-5h0m7-2h0m12 0h0m4 6h0m22-5h0m79 1h0m117 2h0m19 2h0m8-9h0m3 9h0m-403 10h0m9 4h0m1-10h0m4 1h0m1-1h0m4 3h0m6 7h0m8-7h0m3 3h0m10-4h0m46 1h0m11 3h0m6-5h0m10 3h0m36 2h0m162 3h0m36-3h0m13 1h0m33-2h0m8-6h0m3 7h0m14-5h0m2 3h0m26 4h0m-453 11h0m4-2h0m1 0h0m4-1h0m28 1h0m13 4h0m2-10h0m1 1h0m0 2h0m1-1h0m6 1h0m1 6h0m11-2h0m3-4h0m12 2h0m13 2h0m18-1h0m12 4h0m8 0h0m13-5h0m15 2h0m1-1h0m17 3h0m1-9h0m8-1h0m8 2h0m18 2h0m11-2h0m2 9h0m4-3h0m0-6h0m1 0h0m7 2h0m10 2h0m84 2h0m2-5h0m10 5h0m55-5h0m6-2h0m5 8h0m10 2h0m2-9h0m23 3h0m11 1h0m3-5h0m10 6h0m1 2h0m6 2h0m6-2h0m10-4h0m-504 8h0m5 3h0m31 7h0m25-8h0m3-2h0m22 4h0m3-5h0m4 5h0m2 3h0m9 3h0m25-1h0m2-3h0m9 0h0m6 0h0m22 4h0m4 1h0m14-3h0m10 1h0m1-6h0m18 0h0m12 5h0m8-5h0m12 1h0m50 4h0m7-5h0m25 6h0m3 1h0m13-2h0m0-2h0m4-4h0m10 7h0m34 0h0m12-4h0m13 3h0m4-2h0m7-3h0m17-2h0m10 7h0m58-9h0m2 11h0m-501 4h0m4 2h0m20-3h0m3 1h0m7 9h0m5-8h0m1-1h0m12 3h0m15 2h0m5-3h0m2 7h0m31-8h0m11 7h0m1-7h0m1-1h0m6 1h0m6-4h0m3 4h0m21 2h0m3 1h0m23-1h0m6 0h0m2 4h0m140-9h0m2 1h0m34 8h0m2-3h0m1-4h0m20-2h0m2 11h0m31-2h0m18-9h0m7 7h0m13-3h0m7-4h0m12 7h0m11-3h0m18-3h0m1 8h0m3-5h0m-444 14h0m12 5h0m4-10h0m5 0h0m3 4h0m12-3h0m3 4h0m6-1h0m7-5h0m34 5h0m23-3h0m7-1h0m118 7h0m8-4h0m8 1h0m14 2h0m5-4h0m15 6h0m10-4h0m0 6h0m2-11h0m2 0h0m0 6h0m8-5h0m9 8h0m2 0h0m1-5h0m37-4h0m0 3h0m16 7h0m14-2h0m12-8h0m5 11h0m2-8h0m8 5h0m5-6h0m8 4h0m14-5h0m1 9h0m3-10h0m-496 13h0m77 6h0m3-3h0m6-3h0m13 10h0m15-11h0m28 4h0m7 0h0m129 4h0m6-7h0m17 9h0m21-4h0m9 1h0m4-5h0m4 5h0m16-2h0m13-6h0m9 11h0m0-6h0m37 0h0m8 7h0m3-11h0m25 6h0m5-4h0m-407 20h0m7-9h0m4 0h0m10 4h0m32 2h0m8-6h0m4 1h0m1 7h0m19-3h0m5-2h0m134 5h0m2-7h0m7 8h0m20-2h0m3 3h0m3-7h0m10 2h0m6 0h0m24-5h0m29 2h0m10 5h0m20 0h0m4 0h0m5-7h0m19-1h0m1 9h0m21-9h0m-413 14h0m2 0h0m10-1h0m2 3h0m212 5h0m4-3h0m2-1h0m3-4h0m4 7h0m8-5h0m29 8h0m2-11h0m14 11h0m6-7h0m4 3h0m13-4h0m13-1h0m41 3h0m11 0h0m-127 14h0m4 1h0m15 3h0m7 0h0m7-6h0m4-3h0m3 7h0m7-6h0m16 2h0m0 4h0m8-9h0m13 0h0m28 3h0m3 0h0m5-3h0m-141 20h0m13-4h0m4-2h0m9 3h0m6-3h0m5 2h0m5 0h0m8-3h0m40-2h0m-85 15h0m16 3h0m3-5h0m3 5h0m21-3h0"/><path id="BD" fill="none" stroke-linecap="round" d="M487 1006h0m-155 6h0m31 3h0m11 5h0m12-7h0m8 3h0m9-1h0m22-1h0m5-2h0m34 0h0m4-1h0m14 0h0m30 8h0m-187 2h0m5 11h0m12-2h0m4-7h0m1 6h0m35-4h0m18 1h0m6-6h0m12 2h0m1 1h0m12 7h0m10-7h0m7 2h0m1 5h0m2-1h0m1-1h0m5-2h0m11-5h0m18 3h0m2 6h0m39-9h0m13 3h0m4 0h0m-203 13h0m5-4h0m18 4h0m17-1h0m8-1h0m1 4h0m40 0h0m12-3h0m2-2h0m4 0h0m6 4h0m41-3h0m6 2h0m3-2h0m13 6h0m10-1h0m14-8h0m19 6h0m5 6h0m-228 11h0m1-9h0m2 5h0m6-6h0m15 2h0m1 8h0m3-9h0m25 4h0m5 3h0m5-9h0m4 1h0m3 0h0m24 4h0m20-5h0m26 8h0m1-6h0m10 4h0m49 4h0m18 0h0m2-10h0m1 0h0m2 5h0m-239 12h0m9-3h0m24 7h0m15-8h0m11 2h0m7-2h0m16 2h0m9 5h0m1 1h0m16 0h0m6-9h0m9 3h0m18 4h0m12 0h0m11-3h0m16 1h0m7-5h0m27 7h0m20 0h0m13-3h0m12-1h0m3-1h0m-248 20h0m12-3h0m12-6h0m7 9h0m1-5h0m12 7h0m41-5h0m18-3h0m2 3h0m10-2h0m2-1h0m11-3h0m9 10h0m9 0h0m0-7h0m4-1h0m23 4h0m23 2h0m41-9h0m2 10h0m18-4h0m4-6h0m102 9h0m14-6h0m9 5h0m36-2h0m14 6h0m-450 8h0m6-2h0m13-5h0m4 1h0m6 1h0m0 4h0m11-3h0m23 7h0m13-4h0m1-7h0m10 10h0m9-7h0m22-2h0m14 6h0m1 2h0m19-5h0m9-2h0m9 1h0m7 0h0m10-2h0m59 2h0m114 5h0m3-4h0m6 2h0m1 5h0m5-4h0m2 0h0m6-1h0m9 3h0m11-8h0m11 0h0m1 4h0m10 6h0m1-6h0m7 7h0m12-1h0m23-7h0m6 0h0m5 2h0m17 4h0m-487 2h0m35 10h0m1 2h0m13-12h0m15 9h0m3 2h0m13-2h0m35-3h0m7 3h0m11 3h0m3-7h0m9-2h0m2 2h0m5-3h0m17 0h0m1 9h0m6-8h0m10 2h0m19 7h0m3-6h0m23 3h0m5-8h0m96 6h0m2 0h0m12-2h0m13 4h0m8 0h0m12 1h0m0 2h0m5-12h0m8 6h0m3-4h0m10 6h0m9-6h0m2-1h0m5 3h0m3 0h0m3-3h0m4 1h0m0 3h0m28 5h0m12-4h0m5 5h0m12-6h0m-486 8h0m4 9h0m11-8h0m6 6h0m2 1h0m6 2h0m0-2h0m1 1h0m5-3h0m6 4h0m8-8h0m7-2h0m1 7h0m14 2h0m5-7h0m10 0h0m10-3h0m0 5h0m2 0h0m6 2h0m2 3h0m9-4h0m1-3h0m0 3h0m16-3h0m9 1h0m1 0h0m8-4h0m12 7h0m9-1h0m19-5h0m5-1h0m27 6h0m6-2h0m84 4h0m13 0h0m8-6h0m18 7h0m26-4h0m35 3h0m15 3h0m21-9h0m3 2h0m6 0h0m19 8h0m9-7h0m4 2h0m4 2h0m0 1h0m8-8h0m-493 21h0m13-11h0m13 8h0m18 3h0m47-9h0m19 2h0m2 2h0m1-6h0m11 10h0m35-7h0m8 6h0m9-4h0m6-4h0m11 8h0m90-6h0m6 2h0m43-3h0m7 5h0m12-3h0m24 4h0m15-6h0m5 0h0m18 9h0m6 0h0m19-11h0m5 2h0m21-1h0m11 1h0m37 7h0m6 2h0m-512 2h0m0 1h0m21-1h0m6 1h0m19 5h0m9 5h0m0-5h0m6 0h0m65 1h0m16-2h0m21 1h0m124 1h0m0-5h0m6 6h0m15-7h0m4 3h0m12-4h0m4 1h0m5 1h0m10 3h0m48 4h0m3-3h0m10-1h0m17 1h0m18-5h0m5 5h0m30 3h0m35-1h0m-503 4h0m14 7h0m1 3h0m4 0h0m2 1h0m6-10h0m5 4h0m4 2h0m2 4h0m0-8h0m13-3h0m9-1h0m5 8h0m4-4h0m12 0h0m4 5h0m40-4h0m3-3h0m23 6h0m3 0h0m8-5h0m126-2h0m14 0h0m12 10h0m40-8h0m15 1h0m3-1h0m11 3h0m13-5h0m21 4h0m9 0h0m-388 8h0m6 11h0m6-10h0m10 1h0m1 2h0m1-4h0m23 4h0m17 3h0m12-1h0m154 2h0m2-3h0m5-5h0m0 6h0m72 2h0m25-2h0m3-6h0m4 8h0m18 1h0m13 1h0m3-7h0m7 8h0m1-1h0m8-5h0m-389 6h0m9 3h0m26 1h0m0-3h0m24-1h0m184 2h0m3 8h0m11-6h0m6-3h0m4 8h0m6 0h0m2 1h0m0-8h0m23-1h0m7 0h0m9 10h0m2-7h0m1 3h0m7-6h0m24 2h0m23 8h0m16-11h0m1 2h0m6 7h0m-157 3h0m17 1h0m34 10h0m4-7h0m6 6h0m19-3h0m17 2h0m7-8h0m1 11h0m-116 7h0m11-2h0m6-2h0m9 7h0m1-8h0m6 3h0m21 1h0m6-5h0m4 3h0m6-1h0m3-3h0m1 2h0m9 7h0m-58 4h0m34 2h0"/><path id="SA" fill="none" stroke-linecap="round" d="M386 722h0m-7 19h0m-11 5h0m13 6h0m-13 9h0m9 1h0m11-5h0m-15 13h0m1 7h0m19-6h0m-11 10h0m8 12h0m5 0h0m2 9h0m-28 19h0m13 16h0m-2 5h0m10 5h0m2-4h0m1-1h0m2 4h0m-9 8h0m-11 20h0m12-2h0m-9 50h0"/><path id="SB" fill="none" stroke-linecap="round" d="M389 717h0m0 2h0m17 1h0m-33 9h0m1 0h0m7-8h0m7 0h0m3 6h0m4-1h0m1 0h0m1-1h0m4 2h0m-22 14h0m3-7h0m0-1h0m1 0h0m2 5h0m17 2h0m2-7h0m-36 16h0m32-4h0m4 6h0m-34 11h0m8 2h0m17-7h0m4 5h0m-24 11h0m0 4h0m4-8h0m4 6h0m5-1h0m3 2h0m9-6h0m-30 19h0m11-7h0m15 8h0m9-8h0m-30 18h0m3 2h0m9 0h0m2-6h0m1 8h0m12-4h0m2 3h0m-25 2h0m5 7h0m4-3h0m11 0h0m0-4h0m1 7h0m-23 14h0m4-9h0m6 6h0m10-2h0m6 0h0m0 4h0m-30 13h0m15-8h0m4 8h0m2-3h0m1 0h0m0 2h0m-14 3h0m5 5h0m2 3h0m3 1h0m5 3h0m1-8h0m-24 19h0m0-6h0m8-4h0m1-1h0m5 6h0m2-5h0m3 3h0m-16 9h0m2 19h0m5 12h0m0-2h0m-8 7h0m1 7h0m0-5h0m4 2h0m6-1h0m0 5h0m2-6h0m-7 16h0m-1 6h0m3 9h0m3-10h0"/><path id="TF" fill="none" stroke-linecap="round" d="M248 324h0m243 12h0m-316 20h0m316 23h0m-320 46h0m128 5h0m272 8h0m-402 41h0m220-3h0m15 23h0m-50 76h0m16 3h0m5 25h0m61 60h0"/><path id="BF" fill="none" stroke-linecap="round" d="M518 1016h0m-135 13h0m88 1h0m68-5h0m-181 8h0m32 4h0m171-1h0m-215 8h0m5 30h0m46 4h0m69 0h0m50-8h0m-114 14h0m269-3h0m90 4h0m15 1h0m-285 10h0m6-3h0m-140 18h0m26-6h0m352 5h0m75 3h0m-433 3h0m115 8h0m-50 14h0m266 7h0m-340 10h0m264 33h0"/><path id="TG" fill="none" stroke-linecap="round" d="M273 290h0m31 9h0m70 1h0m-42 27h0m-82 25h0m-86 10h0m42 14h0m335 1h0m-75 18h0m55-7h0m-305 11h0m53 8h0m69 0h0m-97 11h0m42 1h0m264 0h0m-3 36h0m5 13h0m62 19h0m-243 16h0m9-3h0m146 1h0m85 1h0m-192 5h0m-68 15h0m0-2h0m191 15h0m-172 20h0m100 5h0m-126 10h0m-93 26h0m96 10h0m66 28h0m47 32h0m-32 12h0"/><linearGradient id="rg" x1="0" x2="0" y1="0" y2="1"><stop offset="0" stop-color="#ff1d0b"/><stop offset=".5" stop-color="#f27f69"/><stop offset="1" stop-color="#d1d0d0"/></linearGradient></defs>
<g class="pl"><text transform="translate(-4 28) scale(1 1.035)">a</text><text transform="translate(487.9 27.6) scale(1 1.035)">b</text><text transform="translate(-1.2 879.4) scale(1 1.035)">c</text><text transform="translate(681.2 878.3) scale(1 1.035)">d</text><text transform="translate(1582.2 931.8) scale(1 1.035)">e</text></g>
<g id="panel-a" class="t"><rect x="67.8" y="67.2" width="354.4" height="35.4" fill="#fff" stroke="#000" stroke-width="2"/><text transform="translate(73.5 92.3) scale(1 1.035)">Early pregnancy: 8-10 week</text><g transform="scale(.5)" stroke-width="8.2" stroke-linecap="round" stroke-linejoin="round"><g filter="url(#rough)" stroke-width="3"><use href="#p0" fill="#64B200" stroke="#64B200"/><use href="#p10" fill="#EF67EB" stroke="#EF67EB"/><use href="#p2" fill="#DB8E00" stroke="#DB8E00"/><use href="#p3" fill="#AEA200" stroke="#AEA200"/><use href="#p4" fill="#64B200" stroke="#64B200"/><use href="#p5" fill="#00BD5C" stroke="#00BD5C"/><use href="#p1" fill="#F8766D" stroke="#F8766D"/><use href="#p8" fill="#00A6FF" stroke="#00A6FF"/><use href="#p11" fill="#FF63B6" stroke="#FF63B6"/><use href="#p9" fill="#B385FF" stroke="#B385FF"/><use href="#p6" fill="#00C1A7" stroke="#00C1A7"/><use href="#p7" fill="#00BADE" stroke="#00BADE"/></g><use href="#d2a" stroke="#DB8E00"/><use href="#d1a" stroke="#F8766D"/><use href="#d8a" stroke="#00A6FF"/><use href="#d10a" stroke="#EF67EB"/><use href="#d7a" stroke="#00BADE"/><use href="#d5a" stroke="#00BD5C"/><use href="#d11a" stroke="#FF63B6"/><use href="#d3a" stroke="#AEA200"/><use href="#d9a" stroke="#B385FF"/><use href="#d6a" stroke="#00C1A7"/><use href="#d4a" stroke="#64B200"/><use href="#d3b" stroke="#AEA200"/><use href="#d10b" stroke="#EF67EB"/><use href="#d8b" stroke="#00A6FF"/><use href="#d6b" stroke="#00C1A7"/><use href="#d7b" stroke="#00BADE"/><use href="#d1b" stroke="#F8766D"/><use href="#d2b" stroke="#DB8E00"/><use href="#d4b" stroke="#64B200"/><use href="#d9b" stroke="#B385FF"/><use href="#d5b" stroke="#00BD5C"/><use href="#d11b" stroke="#FF63B6"/><use href="#d7c" stroke="#00BADE"/><use href="#d5c" stroke="#00BD5C"/><use href="#d6c" stroke="#00C1A7"/><use href="#d2c" stroke="#DB8E00"/><use href="#d11c" stroke="#FF63B6"/><use href="#d10c" stroke="#EF67EB"/><use href="#d1c" stroke="#F8766D"/><use href="#d8c" stroke="#00A6FF"/><use href="#d9c" stroke="#B385FF"/><use href="#d3c" stroke="#AEA200"/><use href="#d4c" stroke="#64B200"/></g><text transform="translate(117.6 185.0) scale(1 1.035)" text-anchor="middle">10</text><text transform="translate(208.5 191.0) scale(1 1.035)" text-anchor="middle">5</text><text transform="translate(296.6 221.9) scale(1 1.035)" text-anchor="middle">3</text><text transform="translate(100.6 256.5) scale(1 1.035)" text-anchor="middle">2</text><text transform="translate(181.7 250.9) scale(1 1.035)" text-anchor="middle">4</text><text transform="translate(246.8 293.4) scale(1 1.035)" text-anchor="middle">1</text><text transform="translate(195.1 334.0) scale(1 1.035)" text-anchor="middle">8</text><text transform="translate(193.7 411.0) scale(1 1.035)" text-anchor="middle">11</text><text transform="translate(249.5 543.8) scale(1 1.035)" text-anchor="middle">6</text><text transform="translate(203.9 573.4) scale(1 1.035)" text-anchor="middle">9</text><text transform="translate(363 580.7) scale(1 1.035)" text-anchor="middle">7</text><path d="M66.9 524.1V619H158.8" fill="none" stroke="#000" stroke-width="3.5" stroke-linecap="square"/><path d="M66.9 507.6l9.6 18.5h-19.2zM175.3 619l-18.5 -9.6v19.2z" fill="#000"/><text transform="translate(51.6 571) rotate(-90) scale(1 1.085)" text-anchor="middle" font-size="26.9">Umap2</text><text transform="translate(68.3 651.8) scale(.94 1)" font-size="27.8">Umap1</text></g>
<g id="panel-b" class="t"><defs><linearGradient id="cb" x1="0" x2="1" y1="0" y2="0"><stop offset="0" stop-color="#c83a99"/><stop offset="0.25" stop-color="#c36ba8"/><stop offset="0.5" stop-color="#b98db3"/><stop offset="0.75" stop-color="#abaac2"/><stop offset="1" stop-color="#98cecd"/></linearGradient></defs><rect x="776.0" y="73.1" width="161.0" height="20.400000000000006" fill="url(#cb)"/><path d="M816.2 73.1v5.3M816.2 93.5v-5.3M856.5 73.1v5.3M856.5 93.5v-5.3M896.8 73.1v5.3M896.8 93.5v-5.3" stroke="#fff" stroke-width="1.8"/><text class="v" transform="translate(788.9 66) rotate(-90) scale(1 1.035)">1.00</text><text class="v" transform="translate(827.6 66) rotate(-90) scale(1 1.035)">0.75</text><text class="v" transform="translate(867.1 66) rotate(-90) scale(1 1.035)">0.50</text><text class="v" transform="translate(907.0 66) rotate(-90) scale(1 1.035)">0.25</text><text class="v" transform="translate(948.5 66) rotate(-90) scale(1 1.035)">0.00</text><circle cx="1117.5" cy="83.4" r="2.4"/><text class="v" transform="translate(1123.7 65.3) rotate(-90) scale(1 1.035)">0</text><circle cx="1137.5" cy="83.4" r="6.2"/><text class="v" transform="translate(1146.9 65.3) rotate(-90) scale(1 1.035)">25</text><circle cx="1160.8" cy="83.4" r="10"/><text class="v" transform="translate(1171.8 65.3) rotate(-90) scale(1 1.035)">50</text><circle cx="1189.4" cy="83.4" r="13.6"/><text class="v" transform="translate(1198.8 65.3) rotate(-90) scale(1 1.035)">75</text><circle cx="1224.3" cy="83.4" r="17.5"/><text class="v" transform="translate(1234.5 65.3) rotate(-90) scale(1 1.035)">100</text><circle cx="1289.9" cy="83.4" r="5"/><text class="v" transform="translate(1293.1 65.3) rotate(-90) scale(1 1.035)">5</text><circle cx="1306.3" cy="83.4" r="8.2"/><text class="v" transform="translate(1316.5 65.3) rotate(-90) scale(1 1.035)">10</text><circle cx="1330.9" cy="83.4" r="11"/><text class="v" transform="translate(1341.1 65.3) rotate(-90) scale(1 1.035)">15</text><circle cx="1360.7" cy="83.4" r="14"/><text class="v" transform="translate(1368.9 65.3) rotate(-90) scale(1 1.035)">20</text><circle cx="1399.0" cy="83.4" r="16.8"/><text class="v" transform="translate(1406.2 65.3) rotate(-90) scale(1 1.035)">25</text><circle cx="1460.1" cy="83.4" r="5.4"/><text class="v" transform="translate(1463.8 65.3) rotate(-90) scale(1 1.035)">20</text><circle cx="1480.2" cy="83.4" r="9.3"/><text class="v" transform="translate(1490.4 65.3) rotate(-90) scale(1 1.035)">40</text><circle cx="1507.4" cy="83.4" r="13.2"/><text class="v" transform="translate(1516.1 65.3) rotate(-90) scale(1 1.035)">60</text><circle cx="1544.3" cy="83.4" r="16.8"/><text class="v" transform="translate(1553.3 65.3) rotate(-90) scale(1 1.035)">80</text><circle cx="1837.4" cy="83.4" r="2.2"/><text class="v" transform="translate(1842.6 65.3) rotate(-90) scale(1 1.035)">0</text><circle cx="1857.1" cy="83.4" r="6.5"/><text class="v" transform="translate(1867.3 65.3) rotate(-90) scale(1 1.035)">25</text><circle cx="1880.6" cy="83.4" r="10.2"/><text class="v" transform="translate(1890.8 65.3) rotate(-90) scale(1 1.035)">50</text><circle cx="1909.6" cy="83.4" r="13.6"/><text class="v" transform="translate(1919.8 65.3) rotate(-90) scale(1 1.035)">75</text><g stroke="#000" stroke-width="1.3"><circle cx="793.9" cy="134.2" r="12.25" fill="#c7409b"/><circle cx="827.2" cy="134.2" r="6.45" fill="#c7409b"/><circle cx="860.5" cy="134.2" r="7.45" fill="#c7409b"/><circle cx="893.8" cy="134.2" r="12.35" fill="#c7409b"/><circle cx="927.0" cy="134.2" r="1.75" fill="#98cecd"/><circle cx="960.3" cy="134.2" r="10.10" fill="#98cecd"/><circle cx="993.6" cy="134.2" r="9.05" fill="#98cecd"/><circle cx="1026.9" cy="134.2" r="6.35" fill="#98cecd"/><circle cx="1060.2" cy="134.2" r="3.65" fill="#98cecd"/><circle cx="1093.5" cy="134.2" r="8.25" fill="#98cecd"/><circle cx="1126.8" cy="134.2" r="13.55" fill="#a9adc3"/><circle cx="1160.0" cy="134.2" r="13.65" fill="#c36ba8"/><circle cx="1193.3" cy="134.2" r="5.65" fill="#b693b6"/><circle cx="1226.6" cy="134.2" r="1.60" fill="#000" stroke="none"/><circle cx="793.9" cy="181.3" r="12.55" fill="#c7409b"/><circle cx="827.2" cy="181.3" r="6.15" fill="#c7409b"/><circle cx="860.5" cy="181.3" r="6.45" fill="#c7409b"/><circle cx="893.8" cy="181.3" r="11.75" fill="#c7409b"/><circle cx="927.0" cy="181.3" r="2.25" fill="#c557a2"/><circle cx="960.3" cy="181.3" r="10.10" fill="#98cecd"/><circle cx="993.6" cy="181.3" r="8.55" fill="#98cecd"/><circle cx="1026.9" cy="181.3" r="6.35" fill="#98cecd"/><circle cx="1060.2" cy="181.3" r="3.55" fill="#98cecd"/><circle cx="1093.5" cy="181.3" r="8.75" fill="#98cecd"/><circle cx="1126.8" cy="181.3" r="13.55" fill="#aca8c1"/><circle cx="1160.0" cy="181.3" r="13.65" fill="#c461a5"/><circle cx="1193.3" cy="181.3" r="6.15" fill="#bb86b1"/><circle cx="1226.6" cy="181.3" r="1.60" fill="#000" stroke="none"/><circle cx="793.9" cy="228.4" r="12.55" fill="#c7409b"/><circle cx="827.2" cy="228.4" r="9.05" fill="#c7409b"/><circle cx="860.5" cy="228.4" r="7.45" fill="#c7409b"/><circle cx="893.8" cy="228.4" r="12.35" fill="#c7409b"/><circle cx="927.0" cy="228.4" r="7.55" fill="#c7409b"/><circle cx="960.3" cy="228.4" r="10.10" fill="#98cecd"/><circle cx="993.6" cy="228.4" r="9.05" fill="#98cecd"/><circle cx="1026.9" cy="228.4" r="6.35" fill="#98cecd"/><circle cx="1060.2" cy="228.4" r="3.55" fill="#98cecd"/><circle cx="1093.5" cy="228.4" r="8.25" fill="#98cecd"/><circle cx="1126.8" cy="228.4" r="13.55" fill="#a6b4c5"/><circle cx="1160.0" cy="228.4" r="13.65" fill="#c26fa9"/><circle cx="1193.3" cy="228.4" r="6.85" fill="#c26fa9"/><circle cx="1226.6" cy="228.4" r="1.60" fill="#000" stroke="none"/><circle cx="793.9" cy="275.4" r="7.05" fill="#98cecd"/><circle cx="827.2" cy="275.4" r="1.65" fill="#98cecd"/><circle cx="860.5" cy="275.4" r="7.15" fill="#c7409b"/><circle cx="893.8" cy="275.4" r="7.75" fill="#c7409b"/><circle cx="927.0" cy="275.4" r="2.00" fill="#000" stroke="none"/><circle cx="960.3" cy="275.4" r="10.10" fill="#98cecd"/><circle cx="993.6" cy="275.4" r="9.55" fill="#98cecd"/><circle cx="1026.9" cy="275.4" r="7.45" fill="#98cecd"/><circle cx="1060.2" cy="275.4" r="6.85" fill="#98cecd"/><circle cx="1093.5" cy="275.4" r="8.25" fill="#98cecd"/><circle cx="1126.8" cy="275.4" r="13.05" fill="#ba8ab2"/><circle cx="1160.0" cy="275.4" r="14.15" fill="#c83c9a"/><circle cx="1193.3" cy="275.4" r="7.35" fill="#c650a0"/><circle cx="1226.6" cy="275.4" r="7.75" fill="#c83c9a"/><circle cx="793.9" cy="322.5" r="6.45" fill="#98cecd"/><circle cx="827.2" cy="322.5" r="2.00" fill="#000" stroke="none"/><circle cx="860.5" cy="322.5" r="5.65" fill="#aea4bf"/><circle cx="893.8" cy="322.5" r="6.55" fill="#9bc8cb"/><circle cx="927.0" cy="322.5" r="2.00" fill="#000" stroke="none"/><circle cx="960.3" cy="322.5" r="13.65" fill="#bd7faf"/><circle cx="993.6" cy="322.5" r="13.25" fill="#aea4bf"/><circle cx="1026.9" cy="322.5" r="13.05" fill="#c83a99"/><circle cx="1060.2" cy="322.5" r="9.05" fill="#aea4bf"/><circle cx="1093.5" cy="322.5" r="9.05" fill="#98cecd"/><circle cx="1126.8" cy="322.5" r="13.55" fill="#c83a99"/><circle cx="1160.0" cy="322.5" r="13.85" fill="#c83a99"/><circle cx="1193.3" cy="322.5" r="9.35" fill="#c83a99"/><circle cx="1226.6" cy="322.5" r="1.45" fill="#98cecd"/><circle cx="793.9" cy="369.6" r="6.15" fill="#98cecd"/><circle cx="827.2" cy="369.6" r="1.80" fill="#000" stroke="none"/><circle cx="860.5" cy="369.6" r="4.15" fill="#98cecd"/><circle cx="893.8" cy="369.6" r="6.05" fill="#98cecd"/><circle cx="927.0" cy="369.6" r="2.00" fill="#000" stroke="none"/><circle cx="960.3" cy="369.6" r="13.65" fill="#c7489d"/><circle cx="993.6" cy="369.6" r="13.55" fill="#b497b8"/><circle cx="1026.9" cy="369.6" r="13.55" fill="#c83a99"/><circle cx="1060.2" cy="369.6" r="9.25" fill="#b497b8"/><circle cx="1093.5" cy="369.6" r="10.65" fill="#98cecd"/><circle cx="1126.8" cy="369.6" r="13.55" fill="#c83a99"/><circle cx="1160.0" cy="369.6" r="13.85" fill="#c83a99"/><circle cx="1193.3" cy="369.6" r="9.55" fill="#c83a99"/><circle cx="1226.6" cy="369.6" r="1.60" fill="#000" stroke="none"/><circle cx="793.9" cy="416.7" r="6.05" fill="#98cecd"/><circle cx="827.2" cy="416.7" r="1.80" fill="#000" stroke="none"/><circle cx="860.5" cy="416.7" r="4.65" fill="#98cecd"/><circle cx="893.8" cy="416.7" r="6.05" fill="#98cecd"/><circle cx="927.0" cy="416.7" r="1.90" fill="#000" stroke="none"/><circle cx="960.3" cy="416.7" r="13.65" fill="#c7409b"/><circle cx="993.6" cy="416.7" r="13.55" fill="#b497b8"/><circle cx="1026.9" cy="416.7" r="13.55" fill="#c83a99"/><circle cx="1060.2" cy="416.7" r="9.45" fill="#aea4bf"/><circle cx="1093.5" cy="416.7" r="11.45" fill="#98cecd"/><circle cx="1126.8" cy="416.7" r="13.55" fill="#c83a99"/><circle cx="1160.0" cy="416.7" r="13.85" fill="#c83a99"/><circle cx="1193.3" cy="416.7" r="9.55" fill="#c83a99"/><circle cx="1226.6" cy="416.7" r="1.60" fill="#000" stroke="none"/><circle cx="793.9" cy="463.8" r="6.05" fill="#98cecd"/><circle cx="827.2" cy="463.8" r="1.80" fill="#000" stroke="none"/><circle cx="860.5" cy="463.8" r="3.55" fill="#98cecd"/><circle cx="893.8" cy="463.8" r="6.55" fill="#98cecd"/><circle cx="927.0" cy="463.8" r="1.90" fill="#000" stroke="none"/><circle cx="960.3" cy="463.8" r="13.65" fill="#c557a2"/><circle cx="993.6" cy="463.8" r="13.55" fill="#b497b8"/><circle cx="1026.9" cy="463.8" r="13.55" fill="#c83a99"/><circle cx="1060.2" cy="463.8" r="9.75" fill="#bb88b1"/><circle cx="1093.5" cy="463.8" r="11.25" fill="#98cecd"/><circle cx="1126.8" cy="463.8" r="13.55" fill="#c367a7"/><circle cx="1160.0" cy="463.8" r="13.85" fill="#c83a99"/><circle cx="1193.3" cy="463.8" r="8.95" fill="#c83a99"/><circle cx="1226.6" cy="463.8" r="1.60" fill="#000" stroke="none"/><circle cx="793.9" cy="510.8" r="6.05" fill="#98cecd"/><circle cx="827.2" cy="510.8" r="1.80" fill="#000" stroke="none"/><circle cx="860.5" cy="510.8" r="4.75" fill="#98cecd"/><circle cx="893.8" cy="510.8" r="6.35" fill="#98cecd"/><circle cx="927.0" cy="510.8" r="1.90" fill="#000" stroke="none"/><circle cx="960.3" cy="510.8" r="13.65" fill="#c557a2"/><circle cx="993.6" cy="510.8" r="13.55" fill="#b790b5"/><circle cx="1026.9" cy="510.8" r="13.55" fill="#c83a99"/><circle cx="1060.2" cy="510.8" r="8.75" fill="#98cecd"/><circle cx="1093.5" cy="510.8" r="9.35" fill="#98cecd"/><circle cx="1126.8" cy="510.8" r="13.55" fill="#c83a99"/><circle cx="1160.0" cy="510.8" r="13.85" fill="#c83a99"/><circle cx="1193.3" cy="510.8" r="9.35" fill="#c83a99"/><circle cx="1226.6" cy="510.8" r="1.60" fill="#000" stroke="none"/><circle cx="793.9" cy="557.9" r="6.05" fill="#98cecd"/><circle cx="827.2" cy="557.9" r="1.80" fill="#000" stroke="none"/><circle cx="860.5" cy="557.9" r="4.05" fill="#98cecd"/><circle cx="893.8" cy="557.9" r="6.05" fill="#98cecd"/><circle cx="927.0" cy="557.9" r="1.90" fill="#000" stroke="none"/><circle cx="960.3" cy="557.9" r="13.65" fill="#c45fa4"/><circle cx="993.6" cy="557.9" r="13.55" fill="#aea4bf"/><circle cx="1026.9" cy="557.9" r="13.55" fill="#c83a99"/><circle cx="1060.2" cy="557.9" r="9.75" fill="#a3bac7"/><circle cx="1093.5" cy="557.9" r="12.55" fill="#a3bac7"/><circle cx="1126.8" cy="557.9" r="13.55" fill="#c83a99"/><circle cx="1160.0" cy="557.9" r="13.85" fill="#c7489d"/><circle cx="1193.3" cy="557.9" r="9.55" fill="#c83a99"/><circle cx="1226.6" cy="557.9" r="1.60" fill="#000" stroke="none"/><circle cx="793.9" cy="605.0" r="6.05" fill="#98cecd"/><circle cx="827.2" cy="605.0" r="1.80" fill="#000" stroke="none"/><circle cx="860.5" cy="605.0" r="5.45" fill="#98cecd"/><circle cx="893.8" cy="605.0" r="5.65" fill="#98cecd"/><circle cx="927.0" cy="605.0" r="1.90" fill="#000" stroke="none"/><circle cx="960.3" cy="605.0" r="13.65" fill="#c367a7"/><circle cx="993.6" cy="605.0" r="13.55" fill="#a6b3c5"/><circle cx="1026.9" cy="605.0" r="13.05" fill="#c83a99"/><circle cx="1060.2" cy="605.0" r="9.25" fill="#b790b5"/><circle cx="1093.5" cy="605.0" r="10.25" fill="#98cecd"/><circle cx="1126.8" cy="605.0" r="13.55" fill="#c83a99"/><circle cx="1160.0" cy="605.0" r="13.85" fill="#c83a99"/><circle cx="1193.3" cy="605.0" r="10.85" fill="#c83a99"/><circle cx="1226.6" cy="605.0" r="1.60" fill="#000" stroke="none"/><circle cx="1317.1" cy="134.2" r="10.20" fill="#c7409b"/><circle cx="1373.8" cy="134.2" r="12.60" fill="#c7409b"/><circle cx="1317.1" cy="181.3" r="10.35" fill="#c7409b"/><circle cx="1373.8" cy="181.3" r="11.45" fill="#c7409b"/><circle cx="1317.1" cy="228.4" r="13.05" fill="#c7409b"/><circle cx="1373.8" cy="228.4" r="14.15" fill="#c7409b"/><circle cx="1317.1" cy="275.4" r="6.25" fill="#98cecd"/><circle cx="1373.8" cy="275.4" r="9.25" fill="#c650a0"/><circle cx="1317.1" cy="322.5" r="8.95" fill="#a3bac7"/><circle cx="1373.8" cy="322.5" r="8.65" fill="#b19dbb"/><circle cx="1317.1" cy="369.6" r="7.15" fill="#98cecd"/><circle cx="1373.8" cy="369.6" r="6.55" fill="#98cecd"/><circle cx="1317.1" cy="416.7" r="8.05" fill="#98cecd"/><circle cx="1373.8" cy="416.7" r="6.15" fill="#98cecd"/><circle cx="1317.1" cy="463.8" r="8.15" fill="#98cecd"/><circle cx="1373.8" cy="463.8" r="6.85" fill="#98cecd"/><circle cx="1317.1" cy="510.8" r="7.15" fill="#98cecd"/><circle cx="1373.8" cy="510.8" r="6.15" fill="#98cecd"/><circle cx="1317.1" cy="557.9" r="8.05" fill="#98cecd"/><circle cx="1373.8" cy="557.9" r="7.15" fill="#98cecd"/><circle cx="1317.1" cy="605.0" r="8.15" fill="#98cecd"/><circle cx="1373.8" cy="605.0" r="6.15" fill="#98cecd"/><circle cx="1476.9" cy="134.2" r="12.15" fill="#a3bac7"/><circle cx="1534.0" cy="134.2" r="2.20" fill="#98cecd"/><circle cx="1476.9" cy="181.3" r="11.25" fill="#a6b3c5"/><circle cx="1534.0" cy="181.3" r="2.25" fill="#c367a7"/><circle cx="1476.9" cy="228.4" r="12.15" fill="#98cecd"/><circle cx="1534.0" cy="228.4" r="2.95" fill="#c7489d"/><circle cx="1476.9" cy="275.4" r="6.65" fill="#98cecd"/><circle cx="1534.0" cy="275.4" r="2.05" fill="#98cecd"/><circle cx="1476.9" cy="322.5" r="11.55" fill="#98cecd"/><circle cx="1534.0" cy="322.5" r="3.15" fill="#bd7faf"/><circle cx="1476.9" cy="369.6" r="12.85" fill="#9dc5ca"/><circle cx="1534.0" cy="369.6" r="4.15" fill="#c83a99"/><circle cx="1476.9" cy="416.7" r="13.45" fill="#bf79ac"/><circle cx="1534.0" cy="416.7" r="5.25" fill="#c83a99"/><circle cx="1476.9" cy="463.8" r="12.85" fill="#98cecd"/><circle cx="1534.0" cy="463.8" r="3.50" fill="#bd7faf"/><circle cx="1476.9" cy="510.8" r="11.95" fill="#98cecd"/><circle cx="1534.0" cy="510.8" r="4.15" fill="#c83a99"/><circle cx="1476.9" cy="557.9" r="13.95" fill="#c557a2"/><circle cx="1534.0" cy="557.9" r="4.55" fill="#c83a99"/><circle cx="1476.9" cy="605.0" r="12.85" fill="#98cecd"/><circle cx="1534.0" cy="605.0" r="4.85" fill="#c83a99"/><circle cx="1625.7" cy="134.2" r="10.05" fill="#98cecd"/><circle cx="1665.0" cy="134.2" r="7.25" fill="#c7409b"/><circle cx="1704.4" cy="134.2" r="2.85" fill="#98cecd"/><circle cx="1743.7" cy="134.2" r="6.65" fill="#98cecd"/><circle cx="1783.0" cy="134.2" r="6.65" fill="#98cecd"/><circle cx="1822.3" cy="134.2" r="1.65" fill="#bf79ac"/><circle cx="1861.7" cy="134.2" r="4.05" fill="#98cecd"/><circle cx="1901.0" cy="134.2" r="13.65" fill="#98cecd"/><circle cx="1625.7" cy="181.3" r="10.45" fill="#98cecd"/><circle cx="1665.0" cy="181.3" r="7.35" fill="#c7409b"/><circle cx="1704.4" cy="181.3" r="2.85" fill="#98cecd"/><circle cx="1743.7" cy="181.3" r="6.65" fill="#98cecd"/><circle cx="1783.0" cy="181.3" r="6.25" fill="#98cecd"/><circle cx="1822.3" cy="181.3" r="2.05" fill="#c7489d"/><circle cx="1861.7" cy="181.3" r="4.05" fill="#98cecd"/><circle cx="1901.0" cy="181.3" r="13.65" fill="#98cecd"/><circle cx="1625.7" cy="228.4" r="9.75" fill="#98cecd"/><circle cx="1665.0" cy="228.4" r="7.15" fill="#c7409b"/><circle cx="1704.4" cy="228.4" r="2.85" fill="#98cecd"/><circle cx="1743.7" cy="228.4" r="7.15" fill="#9fc1c9"/><circle cx="1783.0" cy="228.4" r="6.65" fill="#98cecd"/><circle cx="1822.3" cy="228.4" r="3.65" fill="#c7409b"/><circle cx="1861.7" cy="228.4" r="4.05" fill="#98cecd"/><circle cx="1901.0" cy="228.4" r="14.00" fill="#98cecd"/><circle cx="1625.7" cy="275.4" r="10.65" fill="#98cecd"/><circle cx="1665.0" cy="275.4" r="5.80" fill="#bf79ac"/><circle cx="1704.4" cy="275.4" r="2.05" fill="#98cecd"/><circle cx="1743.7" cy="275.4" r="7.15" fill="#9fc1c9"/><circle cx="1783.0" cy="275.4" r="6.65" fill="#98cecd"/><circle cx="1822.3" cy="275.4" r="1.10" fill="#98cecd"/><circle cx="1861.7" cy="275.4" r="3.75" fill="#98cecd"/><circle cx="1901.0" cy="275.4" r="12.05" fill="#98cecd"/><circle cx="1625.7" cy="322.5" r="9.60" fill="#98cecd"/><circle cx="1665.0" cy="322.5" r="5.10" fill="#98cecd"/><circle cx="1704.4" cy="322.5" r="3.45" fill="#98cecd"/><circle cx="1743.7" cy="322.5" r="7.15" fill="#98cecd"/><circle cx="1783.0" cy="322.5" r="8.05" fill="#bb88b1"/><circle cx="1822.3" cy="322.5" r="1.50" fill="#98cecd"/><circle cx="1861.7" cy="322.5" r="4.85" fill="#98cecd"/><circle cx="1901.0" cy="322.5" r="13.65" fill="#98cecd"/><circle cx="1625.7" cy="369.6" r="9.15" fill="#98cecd"/><circle cx="1665.0" cy="369.6" r="4.45" fill="#98cecd"/><circle cx="1704.4" cy="369.6" r="3.85" fill="#98cecd"/><circle cx="1743.7" cy="369.6" r="7.25" fill="#98cecd"/><circle cx="1783.0" cy="369.6" r="8.25" fill="#a0bec8"/><circle cx="1822.3" cy="369.6" r="2.40" fill="#000" stroke="none"/><circle cx="1861.7" cy="369.6" r="8.15" fill="#98cecd"/><circle cx="1901.0" cy="369.6" r="13.25" fill="#98cecd"/><circle cx="1625.7" cy="416.7" r="9.65" fill="#98cecd"/><circle cx="1665.0" cy="416.7" r="4.45" fill="#98cecd"/><circle cx="1704.4" cy="416.7" r="3.85" fill="#98cecd"/><circle cx="1743.7" cy="416.7" r="7.25" fill="#98cecd"/><circle cx="1783.0" cy="416.7" r="8.75" fill="#bb88b1"/><circle cx="1822.3" cy="416.7" r="2.05" fill="#b497b8"/><circle cx="1861.7" cy="416.7" r="11.60" fill="#98cecd"/><circle cx="1901.0" cy="416.7" r="13.25" fill="#98cecd"/><circle cx="1625.7" cy="463.8" r="9.15" fill="#98cecd"/><circle cx="1665.0" cy="463.8" r="5.25" fill="#98cecd"/><circle cx="1704.4" cy="463.8" r="3.85" fill="#98cecd"/><circle cx="1743.7" cy="463.8" r="7.25" fill="#98cecd"/><circle cx="1783.0" cy="463.8" r="8.65" fill="#aea4bf"/><circle cx="1822.3" cy="463.8" r="2.40" fill="#000" stroke="none"/><circle cx="1861.7" cy="463.8" r="7.85" fill="#98cecd"/><circle cx="1901.0" cy="463.8" r="14.05" fill="#98cecd"/><circle cx="1625.7" cy="510.8" r="9.65" fill="#98cecd"/><circle cx="1665.0" cy="510.8" r="4.45" fill="#98cecd"/><circle cx="1704.4" cy="510.8" r="3.85" fill="#98cecd"/><circle cx="1743.7" cy="510.8" r="7.25" fill="#98cecd"/><circle cx="1783.0" cy="510.8" r="8.15" fill="#b497b8"/><circle cx="1822.3" cy="510.8" r="2.20" fill="#000" stroke="none"/><circle cx="1861.7" cy="510.8" r="6.65" fill="#98cecd"/><circle cx="1901.0" cy="510.8" r="13.25" fill="#98cecd"/><circle cx="1625.7" cy="557.9" r="9.15" fill="#98cecd"/><circle cx="1665.0" cy="557.9" r="5.25" fill="#98cecd"/><circle cx="1704.4" cy="557.9" r="3.85" fill="#98cecd"/><circle cx="1743.7" cy="557.9" r="7.25" fill="#98cecd"/><circle cx="1783.0" cy="557.9" r="8.65" fill="#9fc1c9"/><circle cx="1822.3" cy="557.9" r="2.55" fill="#bf79ac"/><circle cx="1861.7" cy="557.9" r="11.95" fill="#98cecd"/><circle cx="1901.0" cy="557.9" r="14.05" fill="#98cecd"/><circle cx="1625.7" cy="605.0" r="10.15" fill="#98cecd"/><circle cx="1665.0" cy="605.0" r="4.45" fill="#98cecd"/><circle cx="1704.4" cy="605.0" r="3.85" fill="#98cecd"/><circle cx="1743.7" cy="605.0" r="7.65" fill="#98cecd"/><circle cx="1783.0" cy="605.0" r="8.15" fill="#98cecd"/><circle cx="1822.3" cy="605.0" r="1.95" fill="#a3bac7"/><circle cx="1861.7" cy="605.0" r="11.60" fill="#98cecd"/><circle cx="1901.0" cy="605.0" r="13.25" fill="#98cecd"/></g><rect x="773.9" y="110.3" width="472.4" height="522.3" fill="none" stroke="#000" stroke-width="3.7"/><rect x="1292.2" y="110.3" width="110.6" height="522.3" fill="none" stroke="#000" stroke-width="3.7"/><rect x="1444.5" y="110.3" width="117.5" height="522.3" fill="none" stroke="#000" stroke-width="3.7"/><rect x="1602.7" y="111.0" width="322.0" height="521.6" fill="none" stroke="#000" stroke-width="3.7"/><path d="M762.8 134.2H772.5M762.8 181.3H772.5M762.8 228.4H772.5M762.8 275.4H772.5M762.8 322.5H772.5M762.8 369.6H772.5M762.8 416.7H772.5M762.8 463.8H772.5M762.8 510.8H772.5M762.8 557.9H772.5M762.8 605.0H772.5" stroke="#000" stroke-width="3.4" fill="none"/><path d="M1281.1 134.2H1290.9M1281.1 181.3H1290.9M1281.1 228.4H1290.9M1281.1 275.4H1290.9M1281.1 322.5H1290.9M1281.1 369.6H1290.9M1281.1 416.7H1290.9M1281.1 463.8H1290.9M1281.1 510.8H1290.9M1281.1 557.9H1290.9M1281.1 605.0H1290.9" stroke="#000" stroke-width="3.4" fill="none"/><path d="M1433.4 134.2H1443.2M1433.4 181.3H1443.2M1433.4 228.4H1443.2M1433.4 275.4H1443.2M1433.4 322.5H1443.2M1433.4 369.6H1443.2M1433.4 416.7H1443.2M1433.4 463.8H1443.2M1433.4 510.8H1443.2M1433.4 557.9H1443.2M1433.4 605.0H1443.2" stroke="#000" stroke-width="3.4" fill="none"/><path d="M1591.6 134.2H1601.4M1591.6 181.3H1601.4M1591.6 228.4H1601.4M1591.6 275.4H1601.4M1591.6 322.5H1601.4M1591.6 369.6H1601.4M1591.6 416.7H1601.4M1591.6 463.8H1601.4M1591.6 510.8H1601.4M1591.6 557.9H1601.4M1591.6 605.0H1601.4" stroke="#000" stroke-width="3.4" fill="none"/><path d="M793.9 632.6V644.1M827.2 632.6V644.1M860.5 632.6V644.1M893.8 632.6V644.1M927.0 632.6V644.1M960.3 632.6V644.1M993.6 632.6V644.1M1026.9 632.6V644.1M1060.2 632.6V644.1M1093.5 632.6V644.1M1126.8 632.6V644.1M1160.0 632.6V644.1M1193.3 632.6V644.1M1226.6 632.6V644.1M1317.1 632.6V644.1M1373.8 632.6V644.1M1476.9 632.6V644.1M1534.0 632.6V644.1M1625.7 632.6V644.1M1665.0 632.6V644.1M1704.4 632.6V644.1M1743.7 632.6V644.1M1783.0 632.6V644.1M1822.3 632.6V644.1M1861.7 632.6V644.1M1901.0 632.6V644.1" stroke="#000" stroke-width="3.4" fill="none"/><rect x="773.9" y="110.2" width="1149.5" height="182.3" fill="#ffeb0f" opacity=".1"/><rect x="1932" y="113.6" width="9.7" height="519.8" fill="#fdcb85"/><text class="v" transform="translate(1970.4 471.5) rotate(-90) scale(1 1.035)">Early pregnancy</text><text class="v" transform="translate(804.3 650.3) rotate(-90) scale(1 1.035)" text-anchor="end">TEAD1</text><text class="v" transform="translate(837.6 650.3) rotate(-90) scale(1 1.035)" text-anchor="end">TEAD4</text><text class="v" transform="translate(870.9 650.3) rotate(-90) scale(1 1.035)" text-anchor="end">PEG3</text><text class="v" transform="translate(904.2 650.3) rotate(-90) scale(1 1.035)" text-anchor="end">PEG10</text><text class="v" transform="translate(937.4 650.3) rotate(-90) scale(1 1.035)" text-anchor="end">MKI67</text><text class="v" transform="translate(970.7 650.3) rotate(-90) scale(1 1.035)" text-anchor="end">PSG3</text><text class="v" transform="translate(1004.0 650.3) rotate(-90) scale(1 1.035)" text-anchor="end">PSG5</text><text class="v" transform="translate(1037.3 650.3) rotate(-90) scale(1 1.035)" text-anchor="end">PSG8</text><text class="v" transform="translate(1070.6 650.3) rotate(-90) scale(1 1.035)" text-anchor="end">SDC1</text><text class="v" transform="translate(1103.9 650.3) rotate(-90) scale(1 1.035)" text-anchor="end">PAPPA</text><text class="v" transform="translate(1137.2 650.3) rotate(-90) scale(1 1.035)" text-anchor="end">FLT1</text><text class="v" transform="translate(1170.4 650.3) rotate(-90) scale(1 1.035)" text-anchor="end">CGA</text><text class="v" transform="translate(1203.7 650.3) rotate(-90) scale(1 1.035)" text-anchor="end">CGB3</text><text class="v" transform="translate(1237.0 650.3) rotate(-90) scale(1 1.035)" text-anchor="end">ERVFRD-1</text><text class="v" transform="translate(1327.5 650.6) rotate(-90) scale(1 1.035)" text-anchor="end">METTL3</text><text class="v" transform="translate(1384.2 650.6) rotate(-90) scale(1 1.035)" text-anchor="end">METTL14</text><text class="v" transform="translate(1487.3 649.8) rotate(-90) scale(1 1.035)" text-anchor="end">FTO</text><text class="v" transform="translate(1542.2 649.8) rotate(-90) scale(1 1.035)" text-anchor="end">ALKBH5</text><text class="v" transform="translate(1633.5 650.3) rotate(-90) scale(1 1.035)" text-anchor="end">YTHDC1</text><text class="v" transform="translate(1673.2 650.3) rotate(-90) scale(1 1.035)" text-anchor="end">YTHDC2</text><text class="v" transform="translate(1713.0 650.3) rotate(-90) scale(1 1.035)" text-anchor="end">YTHDF1</text><text class="v" transform="translate(1752.8 650.3) rotate(-90) scale(1 1.035)" text-anchor="end">YTHDF2</text><text class="v" transform="translate(1792.5 650.3) rotate(-90) scale(1 1.035)" text-anchor="end">YTHDF3</text><text class="v" transform="translate(1832.2 650.3) rotate(-90) scale(1 1.035)" text-anchor="end">IGF2BP1</text><text class="v" transform="translate(1872.0 650.3) rotate(-90) scale(1 1.035)" text-anchor="end">IGF2BP2</text><text class="v" transform="translate(1911.8 650.3) rotate(-90) scale(1 1.035)" text-anchor="end">IGF2BP3</text><path d="M785.4 793.5H1238M1308 782.5H1381.5M1468 766.9H1543.5M1612.4 771.3H1912.3" stroke="#000" stroke-width="1.9" fill="none"/><text transform="translate(1011 822) scale(1 1.035)" text-anchor="middle">Marker genes</text><text transform="translate(1344.7 808.8) scale(1 1.035)" text-anchor="middle">Writers</text><text transform="translate(1506 797.6) scale(1 1.035)" text-anchor="middle">Erasers</text><text transform="translate(1762.3 800.3) scale(1 1.035)" text-anchor="middle">Readers</text><text transform="translate(758 144.1) scale(1 1.035)" text-anchor="end">CTB 1</text><ellipse cx="662.9" cy="134.2" rx="13.4" ry="13.4" fill="#B385FF"/><text transform="translate(662.9 143.5) scale(1 1.035)" text-anchor="middle" class="w" stroke="#fff" stroke-width=".9" font-size="25.5">9</text><text transform="translate(758 191.2) scale(1 1.035)" text-anchor="end">CTB 2</text><ellipse cx="662.9" cy="181.3" rx="13.4" ry="13.4" fill="#00C1A7"/><text transform="translate(662.9 190.6) scale(1 1.035)" text-anchor="middle" class="w" stroke="#fff" stroke-width=".9" font-size="25.5">6</text><text transform="translate(758 238.3) scale(1 1.035)" text-anchor="end">CTB proliferation</text><ellipse cx="533.5" cy="228.4" rx="13.4" ry="13.4" fill="#00BADE"/><text transform="translate(533.5 237.7) scale(1 1.035)" text-anchor="middle" class="w" stroke="#fff" stroke-width=".9" font-size="25.5">7</text><text transform="translate(758 285.3) scale(1 1.035)" text-anchor="end">CTB fusion</text><ellipse cx="600.3" cy="275.4" rx="13.4" ry="13.4" fill="#FF63B6"/><text transform="translate(599.0999999999999 284.7) scale(1 1.035)" text-anchor="middle" class="w" stroke="#fff" stroke-width=".9" font-size="25.5" letter-spacing="-2.5">11</text><text transform="translate(758 332.4) scale(1 1.035)" text-anchor="end">STB nascent</text><ellipse cx="581.3" cy="322.5" rx="13.4" ry="13.4" fill="#00A6FF"/><text transform="translate(581.3 331.8) scale(1 1.035)" text-anchor="middle" class="w" stroke="#fff" stroke-width=".9" font-size="25.5">8</text><text transform="translate(758 379.5) scale(1 1.035)" text-anchor="end">STB mixed</text><ellipse cx="604.0" cy="369.6" rx="13.4" ry="13.4" fill="#64B200"/><text transform="translate(604.0 378.9) scale(1 1.035)" text-anchor="middle" class="w" stroke="#fff" stroke-width=".9" font-size="25.5">4</text><text transform="translate(758 426.6) scale(1 1.035)" text-anchor="end">STB mixed</text><ellipse cx="604.0" cy="416.7" rx="13.4" ry="13.4" fill="#00BD5C"/><text transform="translate(604.0 426.0) scale(1 1.035)" text-anchor="middle" class="w" stroke="#fff" stroke-width=".9" font-size="25.5">5</text><text transform="translate(758 473.7) scale(1 1.035)" text-anchor="end">STB premature 1</text><ellipse cx="529.1" cy="463.8" rx="13.4" ry="13.4" fill="#DB8E00"/><text transform="translate(529.1 473.1) scale(1 1.035)" text-anchor="middle" class="w" stroke="#fff" stroke-width=".9" font-size="25.5">2</text><text transform="translate(758 518.7) scale(1 1.035)" text-anchor="end">STB premature 2</text><ellipse cx="524.3" cy="508.8" rx="13.4" ry="13.4" fill="#F8766D"/><text transform="translate(524.3 518.1) scale(1 1.035)" text-anchor="middle" class="w" stroke="#fff" stroke-width=".9" font-size="25.5">1</text><text transform="translate(758 567.8) scale(1 1.035)" text-anchor="end">STB mature 1</text><ellipse cx="564.7" cy="557.9" rx="16.2" ry="15.2" fill="#EF67EB"/><text transform="translate(563.5 567.2) scale(1 1.035)" text-anchor="middle" class="w" stroke="#fff" stroke-width=".9" font-size="25.5" letter-spacing="-2.5">10</text><text transform="translate(758 612.9) scale(1 1.035)" text-anchor="end">STB mature 2</text><ellipse cx="565.1" cy="603.0" rx="13.4" ry="13.4" fill="#AEA200"/><text transform="translate(565.1 612.3) scale(1 1.035)" text-anchor="middle" class="w" stroke="#fff" stroke-width=".9" font-size="25.5">3</text><path d="M524 273.4H565" stroke="#231f20" stroke-width="3.2" fill="none"/><path d="M560 263.6L578.5 273.4L560 283.2Z" fill="#231f20"/></g>
<g id="panel-c" class="t"><g transform="translate(52.7 908.0) scale(.535 .5) translate(-57.7 -125.5) scale(.5)"><use href="#um" fill="#cbcbcb" stroke="#cbcbcb" stroke-width="8.6"/><use href="#TA" stroke="#ddbdb7" stroke-width="8"/><use href="#TG" stroke="#e6a59a" stroke-width="8"/><use href="#TF" stroke="#f0412a" stroke-width="8"/><use href="#BA" stroke="#e6a59a" stroke-width="9"/><use href="#BF" stroke="#f0412a" stroke-width="9"/><use href="#SA" stroke="#e6a59a" stroke-width="8"/></g><g transform="translate(369.9 908.0) scale(.535 .5) translate(-57.7 -125.5) scale(.5)"><use href="#um" fill="#cbcbcb" stroke="#cbcbcb" stroke-width="8.6"/><use href="#TB" stroke="#e6a59a" stroke-width="8"/><use href="#TA" stroke="#ec7563" stroke-width="9"/><use href="#TF" stroke="#f0412a" stroke-width="9"/><use href="#BB" stroke="#ec7563" stroke-width="9"/><use href="#BA" stroke="#f0412a" stroke-width="9"/><use href="#BF" stroke="#f0412a" stroke-width="9"/><use href="#SA" stroke="#ec7563" stroke-width="8"/></g><g transform="translate(52.7 1214.3) scale(.535 .5) translate(-57.7 -125.5) scale(.5)"><use href="#um" fill="#cbcbcb" stroke="#cbcbcb" stroke-width="8.6"/><g filter="url(#rough)"><use href="#p9" fill="#f0452f" stroke="#f0452f" stroke-width="3" stroke-linejoin="round"/><use href="#p6" fill="#f0452f" stroke="#f0452f" stroke-width="3" stroke-linejoin="round"/><use href="#p7" fill="#f0452f" stroke="#f0452f" stroke-width="3" stroke-linejoin="round"/></g><use href="#TD" stroke="#ddbdb7" stroke-width="7"/><use href="#TC" stroke="#e3b1a9" stroke-width="7"/><use href="#TB" stroke="#e6a59a" stroke-width="8"/><use href="#BC" stroke="#f4695a" stroke-width="8"/><use href="#BD" stroke="#ea2d18" stroke-width="8"/><use href="#BB" stroke="#e9968a" stroke-width="8"/><use href="#SB" stroke="#ec7563" stroke-width="8"/></g><g transform="translate(369.9 1214.3) scale(.535 .5) translate(-57.7 -125.5) scale(.5)"><use href="#um" fill="#cbcbcb" stroke="#cbcbcb" stroke-width="8.6"/><g filter="url(#rough)"><use href="#p0" fill="#dcb9b4" stroke="#dcb9b4" stroke-width="3" stroke-linejoin="round"/><use href="#p10" fill="#dcb9b4" stroke="#dcb9b4" stroke-width="3" stroke-linejoin="round"/><use href="#p2" fill="#dcb9b4" stroke="#dcb9b4" stroke-width="3" stroke-linejoin="round"/><use href="#p3" fill="#dcb9b4" stroke="#dcb9b4" stroke-width="3" stroke-linejoin="round"/><use href="#p4" fill="#dcb9b4" stroke="#dcb9b4" stroke-width="3" stroke-linejoin="round"/><use href="#p5" fill="#dcb9b4" stroke="#dcb9b4" stroke-width="3" stroke-linejoin="round"/><use href="#p1" fill="#dcb9b4" stroke="#dcb9b4" stroke-width="3" stroke-linejoin="round"/><use href="#p8" fill="#dcb9b4" stroke="#dcb9b4" stroke-width="3" stroke-linejoin="round"/></g><use href="#TE" stroke="#e9a296" stroke-width="10"/><use href="#TD" stroke="#ef6350" stroke-width="10"/><use href="#TC" stroke="#cbcbcb" stroke-width="10"/><use href="#TB" stroke="#f2351f" stroke-width="10"/><use href="#TA" stroke="#ea8676" stroke-width="10"/><use href="#SB" stroke="#ee5a46" stroke-width="8"/><use href="#SA" stroke="#f0412a" stroke-width="8"/><use href="#BC" stroke="#ddbdb7" stroke-width="8"/><use href="#BB" stroke="#e6a59a" stroke-width="9"/><use href="#BA" stroke="#ec7563" stroke-width="9"/></g><text class="i" transform="translate(125 898.4) scale(1 1.035)" text-anchor="middle" font-size="28">METTL3</text><text class="i" transform="translate(445.8 898.4) scale(1 1.035)" text-anchor="middle" font-size="28">METTL14</text><text class="i" transform="translate(124.2 1205) scale(1 1.035)" text-anchor="middle" font-size="28">PEG10</text><text class="i" transform="translate(445.4 1205) scale(1 1.035)" text-anchor="middle" font-size="28">SDC1</text><rect x="296" y="995.5" width="16" height="82.3" fill="url(#rg)"/><text transform="translate(315 1009.8) scale(1 1.035)" font-size="18.8">1.30</text><text transform="translate(315 1032.2) scale(1 1.035)" font-size="18.8">1.25</text><text transform="translate(315 1055.4) scale(1 1.035)" font-size="18.8">1.20</text><text transform="translate(315 1077.8) scale(1 1.035)" font-size="18.8">1.15</text><path d="M296 1005.4h3M312 1005.4h-3M296 1027.8h3M312 1027.8h-3M296 1051.0h3M312 1051.0h-3M296 1073.4h3M312 1073.4h-3" stroke="#fff" stroke-width=".9" fill="none"/><rect x="615.5" y="995.5" width="16" height="82.3" fill="url(#rg)"/><text transform="translate(632.6 1006.8) scale(1 1.035)" font-size="18.8">1.3</text><text transform="translate(632.6 1026.4) scale(1 1.035)" font-size="18.8">1.2</text><text transform="translate(632.6 1044.7) scale(1 1.035)" font-size="18.8">1.1</text><text transform="translate(632.6 1063.0) scale(1 1.035)" font-size="18.8">1.0</text><text transform="translate(632.6 1080.4) scale(1 1.035)" font-size="18.8">0.9</text><path d="M615.5 1002.4h3M631.5 1002.4h-3M615.5 1022.0h3M631.5 1022.0h-3M615.5 1040.3h3M631.5 1040.3h-3M615.5 1058.6h3M631.5 1058.6h-3M615.5 1076.0h3M631.5 1076.0h-3" stroke="#fff" stroke-width=".9" fill="none"/><rect x="300.2" y="1301.4" width="16" height="82.3" fill="url(#rg)"/><text transform="translate(318.5 1319.4) scale(1 1.035)" font-size="18.8">2.0</text><text transform="translate(318.5 1341.8) scale(1 1.035)" font-size="18.8">1.5</text><text transform="translate(318.5 1361.4) scale(1 1.035)" font-size="18.8">1.0</text><text transform="translate(318.5 1384.2) scale(1 1.035)" font-size="18.8">0.5</text><path d="M300.2 1315.0h3M316.2 1315.0h-3M300.2 1337.4h3M316.2 1337.4h-3M300.2 1357.0h3M316.2 1357.0h-3M300.2 1379.8h3M316.2 1379.8h-3" stroke="#fff" stroke-width=".9" fill="none"/><rect x="615.5" y="1301.4" width="16" height="82.3" fill="url(#rg)"/><text transform="translate(633.3 1323.8) scale(1 1.035)" font-size="18.8">1.6</text><text transform="translate(633.3 1344.8) scale(1 1.035)" font-size="18.8">1.2</text><text transform="translate(633.3 1365.8) scale(1 1.035)" font-size="18.8">0.8</text><text transform="translate(633.3 1387.8) scale(1 1.035)" font-size="18.8">0.4</text><path d="M615.5 1319.4h3M631.5 1319.4h-3M615.5 1340.4h3M631.5 1340.4h-3M615.5 1361.4h3M631.5 1361.4h-3M615.5 1383.4h3M631.5 1383.4h-3" stroke="#fff" stroke-width=".9" fill="none"/><path d="M48.1 1384.6V1479.9H140.1" fill="none" stroke="#000" stroke-width="3.5" stroke-linecap="square"/><path d="M48.1 1368.1l9.6 18.5h-19.2zM156.6 1479.9l-18.5 -9.6v19.2z" fill="#000"/><text transform="translate(33.4 1432.4) rotate(-90) scale(1 1.12)" text-anchor="middle" font-size="26.4">Umap2</text><text transform="translate(50.3 1512.4) scale(.93 1)" font-size="27.8">Umap1</text></g>
<g id="panel-d" class="t"><defs><linearGradient id="fade" x1=".7" y1="0" x2=".2" y2="1"><stop offset="0" stop-color="#000" stop-opacity="0"/><stop offset="1" stop-color="#000" stop-opacity=".6"/></linearGradient><filter id="g4" x="-20%" y="-20%" width="140%" height="140%" color-interpolation-filters="sRGB"><feGaussianBlur stdDeviation="3.5" result="b"/><feTurbulence type="fractalNoise" baseFrequency=".33" numOctaves="2" seed="7"/><feColorMatrix values="1 0 0 0 0 1 0 0 0 0 1 0 0 0 0 0 0 0 0 1" result="n"/><feComposite in="b" in2="n" operator="arithmetic" k1="1.9" k2=".05"/></filter><filter id="g2" x="-20%" y="-20%" width="140%" height="140%" color-interpolation-filters="sRGB"><feGaussianBlur stdDeviation="1.8" result="b"/><feTurbulence type="fractalNoise" baseFrequency=".33" numOctaves="2" seed="3"/><feColorMatrix values="1 0 0 0 0 1 0 0 0 0 1 0 0 0 0 0 0 0 0 1" result="n"/><feComposite in="b" in2="n" operator="arithmetic" k1="1.9" k2=".05"/></filter><filter id="b1" x="-20%" y="-20%" width="140%" height="140%"><feGaussianBlur stdDeviation=".9"/></filter><filter id="b2" x="-20%" y="-20%" width="140%" height="140%"><feGaussianBlur stdDeviation="2"/></filter><filter id="b4" x="-20%" y="-20%" width="140%" height="140%"><feGaussianBlur stdDeviation="4"/></filter><filter id="b8" x="-30%" y="-30%" width="160%" height="160%"><feGaussianBlur stdDeviation="8"/></filter></defs><svg x="717.0" y="872.2" width="208.9" height="208.5" viewBox="0 0 209 209" preserveAspectRatio="none"><rect width="210" height="210" fill="#000"/><path d="M37 214L50 169L66 136L107 103L129 79L165 50L214 22L214 214Z" fill="#1c0302" filter="url(#b4)"/><path d="M10 -3L99 -3L86 26L52 47L25 38Z" fill="#3a0604" filter="url(#b4)"/><path d="M4 214L15 169L26 138L52 103L81 79L103 50L136 21.5L160 -4L214 -4L214 22L165 50L129 79L107 103L66 136L50 169L37 214Z" fill="#c8170e" filter="url(#g2)"/><path d="M6 212L15 169L26 138L52 103L81 79L103 50L136 21.5L160 -4" fill="none" stroke="#ff3526" stroke-width="5" filter="url(#b2)" transform="translate(3 2)"/><path d="M-5 120L70 120L110 214L-5 214Z" fill="url(#fade)"/><g filter="url(#b1)"><ellipse cx="162.5" cy="13.9" rx="7.8999999999999995" ry="6.5" transform="rotate(-52 162.5 13.9)" fill="#3a0603" opacity="0.85"/><ellipse cx="176" cy="3" rx="6.2" ry="6.3" transform="rotate(-18 176 3)" fill="#3a0603" opacity="0.85"/><ellipse cx="147" cy="40.3" rx="7.3" ry="5.2" transform="rotate(-25 147 40.3)" fill="#3a0603" opacity="0.85"/><ellipse cx="156" cy="46" rx="7.2" ry="5.8" transform="rotate(-47 156 46)" fill="#3a0603" opacity="0.85"/><ellipse cx="119.5" cy="50.2" rx="6.8999999999999995" ry="5.3999999999999995" transform="rotate(-19 119.5 50.2)" fill="#3a0603" opacity="0.85"/><ellipse cx="112.9" cy="60" rx="7.999999999999999" ry="6.5" transform="rotate(-28 112.9 60)" fill="#3a0603" opacity="0.85"/><ellipse cx="133.8" cy="68.9" rx="6.8999999999999995" ry="5.1" transform="rotate(-53 133.8 68.9)" fill="#3a0603" opacity="0.85"/><ellipse cx="96.4" cy="77.7" rx="6.1" ry="5.5" transform="rotate(-39 96.4 77.7)" fill="#3a0603" opacity="0.85"/><ellipse cx="116.2" cy="86" rx="6.8" ry="6.3999999999999995" transform="rotate(-29 116.2 86)" fill="#3a0603" opacity="0.85"/><ellipse cx="70" cy="92" rx="7.1000000000000005" ry="5.1" transform="rotate(-54 70 92)" fill="#3a0603" opacity="0.85"/><ellipse cx="80.5" cy="99.5" rx="6.7" ry="4.8999999999999995" transform="rotate(-29 80.5 99.5)" fill="#3a0603" opacity="0.85"/><ellipse cx="59" cy="105.2" rx="7.999999999999999" ry="5.8999999999999995" transform="rotate(-46 59 105.2)" fill="#3a0603" opacity="0.85"/><ellipse cx="60.1" cy="116" rx="7.8" ry="6.2" transform="rotate(-18 60.1 116)" fill="#3a0603" opacity="0.85"/><ellipse cx="80" cy="117" rx="7.8" ry="6.1" transform="rotate(-16 80 117)" fill="#3a0603" opacity="0.85"/><ellipse cx="40.3" cy="130.5" rx="6.7" ry="6.6" transform="rotate(-7 40.3 130.5)" fill="#3a0603" opacity="0.85"/><ellipse cx="30.4" cy="140" rx="6.3" ry="6.1" transform="rotate(-19 30.4 140)" fill="#3a0603" opacity="0.85"/><ellipse cx="46.5" cy="146" rx="6.8999999999999995" ry="5.7" transform="rotate(-30 46.5 146)" fill="#3a0603" opacity="0.85"/><ellipse cx="190" cy="8" rx="7.8" ry="5.6" transform="rotate(-13 190 8)" fill="#3a0603" opacity="0.85"/><ellipse cx="136" cy="40" rx="6.7" ry="6.3999999999999995" transform="rotate(-10 136 40)" fill="#3a0603" opacity="0.85"/><ellipse cx="198" cy="26" rx="6.8999999999999995" ry="5.7" transform="rotate(-9 198 26)" fill="#3a0603" opacity="0.85"/><ellipse cx="27" cy="160" rx="7.3999999999999995" ry="5.6" transform="rotate(-44 27 160)" fill="#3a0603" opacity="0.85"/></g><path d="M160 53h0M104 94h0M159 0h0M188 6h0M92 104h0M134 39h0M63 123h0M78 92h0M109 82h0M9 147h0M121 96h0M56 115h0M200 1h0M117 89h0M119 42h0M105 101h0M37 122h0M141 17h0M158 52h0M23 131h0M67 99h0M33 147h0M47 136h0M83 120h0M67 132h0M184 8h0M43 141h0M22 139h0M62 104h0M188 4h0M71 129h0M119 47h0M173 3h0M140 19h0M21 136h0M45 129h0M54 113h0M70 114h0M166 16h0M187 30h0M190 7h0M144 37h0M84 128h0M110 105h0M50 103h0M86 117h0M58 135h0M45 119h0M158 11h0M73 108h0M126 85h0M175 43h0M60 113h0M57 122h0M52 143h0M120 65h0M105 75h0M92 94h0M81 89h0M132 85h0M88 74h0M109 77h0M35 136h0M56 127h0M49 117h0M130 66h0M164 40h0M131 35h0M127 55h0M29 150h0M150 64h0M25 145h0M103 79h0M121 44h0M149 69h0M208 10h0M159 32h0M191 3h0M30 139h0M176 9h0M134 51h0M123 73h0M74 86h0M184 5h0M167 18h0M153 65h0M51 116h0M72 120h0M136 66h0M105 110h0M84 97h0M114 56h0M102 84h0M34 133h0M118 77h0M101 70h0M74 87h0M123 60h0M174 19h0M116 88h0M140 25h0M141 18h0M61 106h0M189 24h0M178 22h0M114 45h0M56 113h0M57 148h0M41 117h0M58 145h0M77 98h0M71 127h0M66 103h0M143 47h0M42 119h0M64 129h0M71 126h0M133 51h0M142 57h0M108 67h0M112 82h0M114 52h0M57 111h0M99 84h0M143 33h0M80 92h0M56 139h0M79 117h0M85 127h0M8 147h0M106 74h0M50 118h0M72 137h0M36 134h0M102 71h0M37 150h0M98 103h0M25 135h0M81 117h0M87 124h0M67 112h0M94 105h0M83 81h0M164 12h0M47 148h0M73 112h0M158 53h0M132 51h0M28 150h0M56 133h0M190 20h0M88 92h0M135 82h0M89 123h0M93 105h0M169 1h0M66 106h0M58 100h0M154 63h0M172 16h0M180 28h0M92 76h0M156 6h0M185 8h0M151 46h0M195 2h0M205 7h0M53 115h0M103 78h0M143 62h0M105 100h0M127 54h0M65 126h0M131 80h0M27 144h0M146 38h0M120 76h0M110 96h0M181 16h0M132 51h0M64 104h0M77 116h0M66 126h0M122 61h0M115 58h0M178 14h0M115 53h0M116 95h0M69 85h0M189 20h0M123 92h0M156 24h0M73 95h0M81 89h0M95 74h0M83 99h0M35 118h0M131 28h0M49 135h0M65 90h0M143 14h0M139 71h0M84 75h0M65 107h0M107 74h0M181 18h0M135 41h0M72 120h0M206 4h0M66 100h0M77 117h0M180 4h0M62 132h0M75 137h0M83 109h0M83 94h0M35 123h0M183 12h0M129 64h0M116 89h0M96 115h0M35 129h0M162 36h0M125 38h0M167 14h0M186 21h0M113 89h0M128 47h0M169 45h0M102 93h0M155 63h0M121 65h0M157 36h0M102 93h0M96 112h0M112 66h0M151 67h0M101 82h0M112 46h0M124 51h0M76 124h0M140 37h0M128 80h0M149 61h0M157 30h0M91 113h0M49 104h0M150 43h0M190 1h0M171 40h0M161 23h0M139 30h0M77 115h0M171 2h0M51 134h0M60 99h0M90 98h0M114 86h0M23 137h0M64 128h0" stroke="#ff6a5a" stroke-width="1.8" stroke-linecap="round" opacity="0.3" fill="none"/><path d="M200 198h0M175 154h0M127 127h0M151 208h0M198 114h0M79 186h0M110 117h0M107 209h0M187 167h0M153 189h0M159 165h0M74 205h0M201 34h0M158 149h0M102 193h0M105 174h0M74 185h0M188 96h0M119 192h0M151 102h0M190 56h0M190 65h0M200 148h0M136 123h0M107 195h0M171 152h0M190 40h0M47 183h0M178 51h0M44 184h0M88 150h0M207 32h0M129 155h0M160 155h0M189 158h0M180 147h0M201 54h0M106 206h0M195 208h0M130 167h0M44 189h0M201 152h0M168 77h0M109 193h0M206 78h0M176 141h0M78 195h0M157 83h0M134 201h0M138 162h0M151 104h0M200 168h0M195 175h0M89 142h0M192 122h0M74 209h0M187 207h0M140 142h0M199 158h0M187 96h0M147 84h0M208 164h0M124 184h0M148 196h0M147 99h0M201 69h0M156 138h0M159 178h0M84 139h0M204 133h0M149 185h0M136 171h0M152 127h0M189 185h0M156 123h0M43 202h0M101 175h0M138 158h0M101 141h0M164 85h0M141 165h0M202 77h0M93 182h0M172 64h0M135 166h0M111 178h0M167 131h0M58 200h0M187 193h0M92 134h0M194 68h0M169 132h0M84 172h0M72 184h0M194 105h0M144 198h0M155 157h0M182 196h0M157 205h0M200 74h0M100 187h0M39 201h0M192 185h0M159 91h0M174 81h0M78 160h0M178 90h0M109 177h0M71 161h0M208 82h0M99 129h0M66 175h0M125 123h0M113 206h0M207 176h0M23 208h0M27 196h0M142 191h0M203 136h0M42 192h0M172 109h0M143 183h0M179 189h0M150 106h0M83 167h0M170 118h0M160 206h0M146 138h0M121 135h0M131 155h0M147 99h0M172 175h0M133 114h0M39 200h0M204 188h0M189 119h0M151 95h0M190 45h0M193 42h0M161 145h0M164 94h0M129 138h0M185 143h0M175 63h0M123 191h0M135 104h0M167 191h0M202 194h0M183 124h0M147 110h0M203 82h0M111 171h0M148 84h0M164 121h0M147 154h0M112 129h0M135 197h0M99 197h0M193 127h0M76 198h0M133 168h0M187 106h0M71 175h0M209 150h0M113 127h0M202 173h0M187 84h0M84 191h0M204 120h0M91 199h0M167 135h0M204 133h0M199 172h0M63 176h0M203 115h0M119 143h0M76 177h0M97 139h0M116 112h0M96 199h0M158 88h0M106 188h0M156 136h0M125 130h0M95 201h0M202 82h0M129 160h0M167 73h0M104 206h0M169 85h0M191 119h0M164 187h0M140 139h0M197 76h0M126 153h0M192 93h0M188 203h0M183 134h0M63 174h0M119 152h0" stroke="#5a0d08" stroke-width="3.2" stroke-linecap="round" opacity="0.5" fill="none"/><rect x="170.3" y="193" width="25.7" height="6" fill="#fff"/><text class="w" transform="translate(9.8 25.6) scale(1 1.035)">hCG</text></svg><svg x="930.0" y="872.2" width="209.9" height="208.5" viewBox="0 0 209 209" preserveAspectRatio="none"><rect width="210" height="210" fill="#000"/><path d="M37 214L50 169L66 136L107 103L129 79L165 50L214 22L214 214Z" fill="#020a03" filter="url(#b4)"/><path d="M10 -3L99 -3L86 26L52 47L25 38Z" fill="#06200a" filter="url(#b4)"/><path d="M4 214L15 169L26 138L52 103L81 79L103 50L136 21.5L160 -4L214 -4L214 22L165 50L129 79L107 103L66 136L50 169L37 214Z" fill="#0a2c0e" filter="url(#g2)"/><path d="M6 212L15 169L26 138L52 103L81 79L103 50L136 21.5L160 -4" fill="none" stroke="#0e3a12" stroke-width="5" filter="url(#b2)" transform="translate(3 2)"/><path d="M-5 120L70 120L110 214L-5 214Z" fill="url(#fade)"/><g filter="url(#b1)"><ellipse cx="162.5" cy="13.9" rx="9.1" ry="7.7" transform="rotate(-52 162.5 13.9)" fill="#1f6a2a" opacity="0.8"/><ellipse cx="176" cy="3" rx="7.4" ry="7.5" transform="rotate(-18 176 3)" fill="#1f6a2a" opacity="0.8"/><ellipse cx="147" cy="40.3" rx="8.5" ry="6.4" transform="rotate(-25 147 40.3)" fill="#1f6a2a" opacity="0.8"/><ellipse cx="156" cy="46" rx="8.4" ry="7.0" transform="rotate(-47 156 46)" fill="#1f6a2a" opacity="0.8"/><ellipse cx="119.5" cy="50.2" rx="8.1" ry="6.6" transform="rotate(-19 119.5 50.2)" fill="#1f6a2a" opacity="0.8"/><ellipse cx="112.9" cy="60" rx="9.2" ry="7.7" transform="rotate(-28 112.9 60)" fill="#1f6a2a" opacity="0.8"/><ellipse cx="133.8" cy="68.9" rx="8.1" ry="6.3" transform="rotate(-53 133.8 68.9)" fill="#1f6a2a" opacity="0.8"/><ellipse cx="96.4" cy="77.7" rx="7.3" ry="6.7" transform="rotate(-39 96.4 77.7)" fill="#1f6a2a" opacity="0.8"/><ellipse cx="116.2" cy="86" rx="8.0" ry="7.6" transform="rotate(-29 116.2 86)" fill="#1f6a2a" opacity="0.8"/><ellipse cx="70" cy="92" rx="8.3" ry="6.3" transform="rotate(-54 70 92)" fill="#1f6a2a" opacity="0.8"/><ellipse cx="80.5" cy="99.5" rx="7.9" ry="6.1" transform="rotate(-29 80.5 99.5)" fill="#1f6a2a" opacity="0.8"/><ellipse cx="59" cy="105.2" rx="9.2" ry="7.1" transform="rotate(-46 59 105.2)" fill="#1f6a2a" opacity="0.8"/><ellipse cx="60.1" cy="116" rx="9.0" ry="7.4" transform="rotate(-18 60.1 116)" fill="#1f6a2a" opacity="0.8"/><ellipse cx="80" cy="117" rx="9.0" ry="7.3" transform="rotate(-16 80 117)" fill="#1f6a2a" opacity="0.8"/><ellipse cx="40.3" cy="130.5" rx="7.9" ry="7.8" transform="rotate(-7 40.3 130.5)" fill="#1f6a2a" opacity="0.8"/><ellipse cx="30.4" cy="140" rx="7.5" ry="7.3" transform="rotate(-19 30.4 140)" fill="#1f6a2a" opacity="0.8"/><ellipse cx="46.5" cy="146" rx="8.1" ry="6.9" transform="rotate(-30 46.5 146)" fill="#1f6a2a" opacity="0.8"/><ellipse cx="190" cy="8" rx="9.0" ry="6.8" transform="rotate(-13 190 8)" fill="#1f6a2a" opacity="0.8"/><ellipse cx="136" cy="40" rx="7.9" ry="7.6" transform="rotate(-10 136 40)" fill="#1f6a2a" opacity="0.8"/><ellipse cx="198" cy="26" rx="8.1" ry="6.9" transform="rotate(-9 198 26)" fill="#1f6a2a" opacity="0.8"/><ellipse cx="27" cy="160" rx="8.6" ry="6.8" transform="rotate(-44 27 160)" fill="#1f6a2a" opacity="0.8"/></g><g filter="url(#b1)"><ellipse cx="118.9" cy="153.7" rx="7.1" ry="5.9" transform="rotate(-67 118.9 153.7)" fill="#24903a" opacity="0.8"/><ellipse cx="115.6" cy="169" rx="8.3" ry="5.0" transform="rotate(-29 115.6 169)" fill="#24903a" opacity="0.8"/><ellipse cx="165" cy="140.5" rx="7.1" ry="6.4" transform="rotate(-40 165 140.5)" fill="#24903a" opacity="0.8"/><ellipse cx="166.2" cy="88.7" rx="7.5" ry="5.5" transform="rotate(-42 166.2 88.7)" fill="#24903a" opacity="0.8"/><ellipse cx="151.9" cy="175.7" rx="7.7" ry="5.1" transform="rotate(-65 151.9 175.7)" fill="#24903a" opacity="0.8"/><ellipse cx="106.8" cy="188.9" rx="7.5" ry="6.4" transform="rotate(-44 106.8 188.9)" fill="#24903a" opacity="0.8"/><ellipse cx="149.7" cy="133.8" rx="6.7" ry="6.1" transform="rotate(-39 149.7 133.8)" fill="#24903a" opacity="0.8"/><ellipse cx="107.9" cy="114" rx="8.3" ry="4.9" transform="rotate(-38 107.9 114)" fill="#24903a" opacity="0.8"/><ellipse cx="62" cy="190" rx="6.6" ry="5.8" transform="rotate(-61 62 190)" fill="#24903a" opacity="0.8"/><ellipse cx="192" cy="168" rx="7.0" ry="6.3" transform="rotate(-70 192 168)" fill="#24903a" opacity="0.8"/><ellipse cx="140" cy="197" rx="7.5" ry="6.2" transform="rotate(-63 140 197)" fill="#24903a" opacity="0.8"/><ellipse cx="95" cy="140" rx="6.9" ry="6.3" transform="rotate(-54 95 140)" fill="#24903a" opacity="0.8"/><ellipse cx="180" cy="118" rx="7.9" ry="4.6" transform="rotate(-57 180 118)" fill="#24903a" opacity="0.8"/><ellipse cx="84" cy="170" rx="6.8" ry="5.8" transform="rotate(-71 84 170)" fill="#24903a" opacity="0.8"/><ellipse cx="196" cy="200" rx="8.4" ry="4.6" transform="rotate(-39 196 200)" fill="#24903a" opacity="0.8"/><ellipse cx="130" cy="128" rx="6.5" ry="5.0" transform="rotate(-34 130 128)" fill="#24903a" opacity="0.8"/><ellipse cx="196" cy="70" rx="6.8" ry="4.9" transform="rotate(-40 196 70)" fill="#24903a" opacity="0.8"/><ellipse cx="170" cy="112" rx="7.3" ry="4.6" transform="rotate(-25 170 112)" fill="#24903a" opacity="0.8"/></g><g filter="url(#b1)"><ellipse cx="175" cy="39.6" rx="9" ry="6.3" transform="rotate(-38 175 39.6)" fill="#38f25a"/><ellipse cx="158.5" cy="54.6" rx="9" ry="6.3" transform="rotate(-38 158.5 54.6)" fill="#38f25a"/><ellipse cx="139.4" cy="70.4" rx="9" ry="6.3" transform="rotate(-38 139.4 70.4)" fill="#38f25a"/><ellipse cx="120.6" cy="84.3" rx="9" ry="6.3" transform="rotate(-38 120.6 84.3)" fill="#38f25a"/><ellipse cx="82.6" cy="120" rx="9" ry="7" transform="rotate(-45 82.6 120)" fill="#38f25a"/><ellipse cx="61" cy="144.2" rx="9" ry="7" transform="rotate(-45 61 144.2)" fill="#38f25a"/><ellipse cx="43" cy="158" rx="6.5" ry="9" transform="rotate(5 43 158)" fill="#38f25a"/><ellipse cx="39.6" cy="189" rx="6.5" ry="9" transform="rotate(5 39.6 189)" fill="#38f25a"/><ellipse cx="101" cy="101" rx="6" ry="5" transform="rotate(-40 101 101)" fill="#38f25a"/><ellipse cx="47" cy="206" rx="6" ry="5" transform="rotate(-40 47 206)" fill="#38f25a"/></g><g filter="url(#b1)"><ellipse cx="28.6" cy="5" rx="9" ry="6" fill="#2fd04a" opacity="0.9"/><ellipse cx="59.4" cy="6.2" rx="8" ry="6" fill="#2fd04a" opacity="0.9"/></g><rect x="170.3" y="193" width="25.7" height="6" fill="#fff"/><text class="w" transform="translate(9.8 25.6) scale(1 1.035)">METTL3</text></svg><svg x="1143.0" y="872.2" width="208.9" height="208.5" viewBox="0 0 209 209" preserveAspectRatio="none"><rect width="210" height="210" fill="#000"/><path d="M37 214L50 169L66 136L107 103L129 79L165 50L214 22L214 214Z" fill="#010110" filter="url(#b4)"/><path d="M10 -3L99 -3L86 26L52 47L25 38Z" fill="#040428" filter="url(#b4)"/><path d="M4 214L15 169L26 138L52 103L81 79L103 50L136 21.5L160 -4L214 -4L214 22L165 50L129 79L107 103L66 136L50 169L37 214Z" fill="#06063a" filter="url(#g2)"/><path d="M6 212L15 169L26 138L52 103L81 79L103 50L136 21.5L160 -4" fill="none" stroke="#08084a" stroke-width="5" filter="url(#b2)" transform="translate(3 2)"/><path d="M-5 120L70 120L110 214L-5 214Z" fill="url(#fade)"/><g filter="url(#b1)"><ellipse cx="162.5" cy="13.9" rx="9.1" ry="7.7" transform="rotate(-52 162.5 13.9)" fill="#1c2ae0" opacity="0.9"/><ellipse cx="176" cy="3" rx="7.4" ry="7.5" transform="rotate(-18 176 3)" fill="#1c2ae0" opacity="0.9"/><ellipse cx="147" cy="40.3" rx="8.5" ry="6.4" transform="rotate(-25 147 40.3)" fill="#1c2ae0" opacity="0.9"/><ellipse cx="156" cy="46" rx="8.4" ry="7.0" transform="rotate(-47 156 46)" fill="#1c2ae0" opacity="0.9"/><ellipse cx="119.5" cy="50.2" rx="8.1" ry="6.6" transform="rotate(-19 119.5 50.2)" fill="#1c2ae0" opacity="0.9"/><ellipse cx="112.9" cy="60" rx="9.2" ry="7.7" transform="rotate(-28 112.9 60)" fill="#1c2ae0" opacity="0.9"/><ellipse cx="133.8" cy="68.9" rx="8.1" ry="6.3" transform="rotate(-53 133.8 68.9)" fill="#1c2ae0" opacity="0.9"/><ellipse cx="96.4" cy="77.7" rx="7.3" ry="6.7" transform="rotate(-39 96.4 77.7)" fill="#1c2ae0" opacity="0.9"/><ellipse cx="116.2" cy="86" rx="8.0" ry="7.6" transform="rotate(-29 116.2 86)" fill="#1c2ae0" opacity="0.9"/><ellipse cx="70" cy="92" rx="8.3" ry="6.3" transform="rotate(-54 70 92)" fill="#1c2ae0" opacity="0.9"/><ellipse cx="80.5" cy="99.5" rx="7.9" ry="6.1" transform="rotate(-29 80.5 99.5)" fill="#1c2ae0" opacity="0.9"/><ellipse cx="59" cy="105.2" rx="9.2" ry="7.1" transform="rotate(-46 59 105.2)" fill="#1c2ae0" opacity="0.9"/><ellipse cx="60.1" cy="116" rx="9.0" ry="7.4" transform="rotate(-18 60.1 116)" fill="#1c2ae0" opacity="0.9"/><ellipse cx="80" cy="117" rx="9.0" ry="7.3" transform="rotate(-16 80 117)" fill="#1c2ae0" opacity="0.9"/><ellipse cx="40.3" cy="130.5" rx="7.9" ry="7.8" transform="rotate(-7 40.3 130.5)" fill="#1c2ae0" opacity="0.9"/><ellipse cx="30.4" cy="140" rx="7.5" ry="7.3" transform="rotate(-19 30.4 140)" fill="#1c2ae0" opacity="0.9"/><ellipse cx="46.5" cy="146" rx="8.1" ry="6.9" transform="rotate(-30 46.5 146)" fill="#1c2ae0" opacity="0.9"/><ellipse cx="190" cy="8" rx="9.0" ry="6.8" transform="rotate(-13 190 8)" fill="#1c2ae0" opacity="0.9"/><ellipse cx="136" cy="40" rx="7.9" ry="7.6" transform="rotate(-10 136 40)" fill="#1c2ae0" opacity="0.9"/><ellipse cx="198" cy="26" rx="8.1" ry="6.9" transform="rotate(-9 198 26)" fill="#1c2ae0" opacity="0.9"/><ellipse cx="27" cy="160" rx="8.6" ry="6.8" transform="rotate(-44 27 160)" fill="#1c2ae0" opacity="0.9"/></g><g filter="url(#b1)"><ellipse cx="118.9" cy="153.7" rx="7.1" ry="5.9" transform="rotate(-67 118.9 153.7)" fill="#1822d8" opacity="0.9"/><ellipse cx="115.6" cy="169" rx="8.3" ry="5.0" transform="rotate(-29 115.6 169)" fill="#1822d8" opacity="0.9"/><ellipse cx="165" cy="140.5" rx="7.1" ry="6.4" transform="rotate(-40 165 140.5)" fill="#1822d8" opacity="0.9"/><ellipse cx="166.2" cy="88.7" rx="7.5" ry="5.5" transform="rotate(-42 166.2 88.7)" fill="#1822d8" opacity="0.9"/><ellipse cx="151.9" cy="175.7" rx="7.7" ry="5.1" transform="rotate(-65 151.9 175.7)" fill="#1822d8" opacity="0.9"/><ellipse cx="106.8" cy="188.9" rx="7.5" ry="6.4" transform="rotate(-44 106.8 188.9)" fill="#1822d8" opacity="0.9"/><ellipse cx="149.7" cy="133.8" rx="6.7" ry="6.1" transform="rotate(-39 149.7 133.8)" fill="#1822d8" opacity="0.9"/><ellipse cx="107.9" cy="114" rx="8.3" ry="4.9" transform="rotate(-38 107.9 114)" fill="#1822d8" opacity="0.9"/><ellipse cx="62" cy="190" rx="6.6" ry="5.8" transform="rotate(-61 62 190)" fill="#1822d8" opacity="0.9"/><ellipse cx="192" cy="168" rx="7.0" ry="6.3" transform="rotate(-70 192 168)" fill="#1822d8" opacity="0.9"/><ellipse cx="140" cy="197" rx="7.5" ry="6.2" transform="rotate(-63 140 197)" fill="#1822d8" opacity="0.9"/><ellipse cx="95" cy="140" rx="6.9" ry="6.3" transform="rotate(-54 95 140)" fill="#1822d8" opacity="0.9"/><ellipse cx="180" cy="118" rx="7.9" ry="4.6" transform="rotate(-57 180 118)" fill="#1822d8" opacity="0.9"/><ellipse cx="84" cy="170" rx="6.8" ry="5.8" transform="rotate(-71 84 170)" fill="#1822d8" opacity="0.9"/><ellipse cx="196" cy="200" rx="8.4" ry="4.6" transform="rotate(-39 196 200)" fill="#1822d8" opacity="0.9"/><ellipse cx="130" cy="128" rx="6.5" ry="5.0" transform="rotate(-34 130 128)" fill="#1822d8" opacity="0.9"/><ellipse cx="196" cy="70" rx="6.8" ry="4.9" transform="rotate(-40 196 70)" fill="#1822d8" opacity="0.9"/><ellipse cx="170" cy="112" rx="7.3" ry="4.6" transform="rotate(-25 170 112)" fill="#1822d8" opacity="0.9"/></g><g filter="url(#b1)"><ellipse cx="175" cy="39.6" rx="9" ry="6.3" transform="rotate(-38 175 39.6)" fill="#2030f0"/><ellipse cx="158.5" cy="54.6" rx="9" ry="6.3" transform="rotate(-38 158.5 54.6)" fill="#2030f0"/><ellipse cx="139.4" cy="70.4" rx="9" ry="6.3" transform="rotate(-38 139.4 70.4)" fill="#2030f0"/><ellipse cx="120.6" cy="84.3" rx="9" ry="6.3" transform="rotate(-38 120.6 84.3)" fill="#2030f0"/><ellipse cx="82.6" cy="120" rx="9" ry="7" transform="rotate(-45 82.6 120)" fill="#2030f0"/><ellipse cx="61" cy="144.2" rx="9" ry="7" transform="rotate(-45 61 144.2)" fill="#2030f0"/><ellipse cx="43" cy="158" rx="6.5" ry="9" transform="rotate(5 43 158)" fill="#2030f0"/><ellipse cx="39.6" cy="189" rx="6.5" ry="9" transform="rotate(5 39.6 189)" fill="#2030f0"/><ellipse cx="101" cy="101" rx="6" ry="5" transform="rotate(-40 101 101)" fill="#2030f0"/><ellipse cx="47" cy="206" rx="6" ry="5" transform="rotate(-40 47 206)" fill="#2030f0"/></g><g filter="url(#b1)"><ellipse cx="28.6" cy="5" rx="9" ry="6" fill="#1018b0" opacity="0.9"/><ellipse cx="59.4" cy="6.2" rx="8" ry="6" fill="#1018b0" opacity="0.9"/><ellipse cx="88" cy="4" rx="8" ry="5" fill="#1018b0" opacity="0.9"/></g><rect x="170.3" y="193" width="25.7" height="6" fill="#fff"/><text class="w" transform="translate(9.8 25.6) scale(1 1.035)">DNA</text></svg><svg x="1355.95" y="872.2" width="209.3" height="208.5" viewBox="0 0 209 209" preserveAspectRatio="none"><rect width="210" height="210" fill="#000"/><path d="M37 214L50 169L66 136L107 103L129 79L165 50L214 22L214 214Z" fill="#140818" filter="url(#b4)"/><path d="M10 -3L99 -3L86 26L52 47L25 38Z" fill="#3a1228" filter="url(#b4)"/><path d="M4 214L15 169L26 138L52 103L81 79L103 50L136 21.5L160 -4L214 -4L214 22L165 50L129 79L107 103L66 136L50 169L37 214Z" fill="#c82a55" filter="url(#g2)"/><path d="M6 212L15 169L26 138L52 103L81 79L103 50L136 21.5L160 -4" fill="none" stroke="#f04870" stroke-width="5" filter="url(#b2)" transform="translate(3 2)"/><path d="M-5 120L70 120L110 214L-5 214Z" fill="url(#fade)"/><g filter="url(#b1)"><ellipse cx="162.5" cy="13.9" rx="9.1" ry="7.7" transform="rotate(-52 162.5 13.9)" fill="#3f7fe0" opacity="0.95"/><ellipse cx="176" cy="3" rx="7.4" ry="7.5" transform="rotate(-18 176 3)" fill="#3f7fe0" opacity="0.95"/><ellipse cx="147" cy="40.3" rx="8.5" ry="6.4" transform="rotate(-25 147 40.3)" fill="#3f7fe0" opacity="0.95"/><ellipse cx="156" cy="46" rx="8.4" ry="7.0" transform="rotate(-47 156 46)" fill="#3f7fe0" opacity="0.95"/><ellipse cx="119.5" cy="50.2" rx="8.1" ry="6.6" transform="rotate(-19 119.5 50.2)" fill="#3f7fe0" opacity="0.95"/><ellipse cx="112.9" cy="60" rx="9.2" ry="7.7" transform="rotate(-28 112.9 60)" fill="#3f7fe0" opacity="0.95"/><ellipse cx="133.8" cy="68.9" rx="8.1" ry="6.3" transform="rotate(-53 133.8 68.9)" fill="#3f7fe0" opacity="0.95"/><ellipse cx="96.4" cy="77.7" rx="7.3" ry="6.7" transform="rotate(-39 96.4 77.7)" fill="#3f7fe0" opacity="0.95"/><ellipse cx="116.2" cy="86" rx="8.0" ry="7.6" transform="rotate(-29 116.2 86)" fill="#3f7fe0" opacity="0.95"/><ellipse cx="70" cy="92" rx="8.3" ry="6.3" transform="rotate(-54 70 92)" fill="#3f7fe0" opacity="0.95"/><ellipse cx="80.5" cy="99.5" rx="7.9" ry="6.1" transform="rotate(-29 80.5 99.5)" fill="#3f7fe0" opacity="0.95"/><ellipse cx="59" cy="105.2" rx="9.2" ry="7.1" transform="rotate(-46 59 105.2)" fill="#3f7fe0" opacity="0.95"/><ellipse cx="60.1" cy="116" rx="9.0" ry="7.4" transform="rotate(-18 60.1 116)" fill="#3f7fe0" opacity="0.95"/><ellipse cx="80" cy="117" rx="9.0" ry="7.3" transform="rotate(-16 80 117)" fill="#3f7fe0" opacity="0.95"/><ellipse cx="40.3" cy="130.5" rx="7.9" ry="7.8" transform="rotate(-7 40.3 130.5)" fill="#3f7fe0" opacity="0.95"/><ellipse cx="30.4" cy="140" rx="7.5" ry="7.3" transform="rotate(-19 30.4 140)" fill="#3f7fe0" opacity="0.95"/><ellipse cx="46.5" cy="146" rx="8.1" ry="6.9" transform="rotate(-30 46.5 146)" fill="#3f7fe0" opacity="0.95"/><ellipse cx="190" cy="8" rx="9.0" ry="6.8" transform="rotate(-13 190 8)" fill="#3f7fe0" opacity="0.95"/><ellipse cx="136" cy="40" rx="7.9" ry="7.6" transform="rotate(-10 136 40)" fill="#3f7fe0" opacity="0.95"/><ellipse cx="198" cy="26" rx="8.1" ry="6.9" transform="rotate(-9 198 26)" fill="#3f7fe0" opacity="0.95"/><ellipse cx="27" cy="160" rx="8.6" ry="6.8" transform="rotate(-44 27 160)" fill="#3f7fe0" opacity="0.95"/></g><g filter="url(#b1)"><ellipse cx="118.9" cy="153.7" rx="7.1" ry="5.9" transform="rotate(-67 118.9 153.7)" fill="#2a62e6" opacity="0.95"/><ellipse cx="115.6" cy="169" rx="8.3" ry="5.0" transform="rotate(-29 115.6 169)" fill="#2a62e6" opacity="0.95"/><ellipse cx="165" cy="140.5" rx="7.1" ry="6.4" transform="rotate(-40 165 140.5)" fill="#2a62e6" opacity="0.95"/><ellipse cx="166.2" cy="88.7" rx="7.5" ry="5.5" transform="rotate(-42 166.2 88.7)" fill="#2a62e6" opacity="0.95"/><ellipse cx="151.9" cy="175.7" rx="7.7" ry="5.1" transform="rotate(-65 151.9 175.7)" fill="#2a62e6" opacity="0.95"/><ellipse cx="106.8" cy="188.9" rx="7.5" ry="6.4" transform="rotate(-44 106.8 188.9)" fill="#2a62e6" opacity="0.95"/><ellipse cx="149.7" cy="133.8" rx="6.7" ry="6.1" transform="rotate(-39 149.7 133.8)" fill="#2a62e6" opacity="0.95"/><ellipse cx="107.9" cy="114" rx="8.3" ry="4.9" transform="rotate(-38 107.9 114)" fill="#2a62e6" opacity="0.95"/><ellipse cx="62" cy="190" rx="6.6" ry="5.8" transform="rotate(-61 62 190)" fill="#2a62e6" opacity="0.95"/><ellipse cx="192" cy="168" rx="7.0" ry="6.3" transform="rotate(-70 192 168)" fill="#2a62e6" opacity="0.95"/><ellipse cx="140" cy="197" rx="7.5" ry="6.2" transform="rotate(-63 140 197)" fill="#2a62e6" opacity="0.95"/><ellipse cx="95" cy="140" rx="6.9" ry="6.3" transform="rotate(-54 95 140)" fill="#2a62e6" opacity="0.95"/><ellipse cx="180" cy="118" rx="7.9" ry="4.6" transform="rotate(-57 180 118)" fill="#2a62e6" opacity="0.95"/><ellipse cx="84" cy="170" rx="6.8" ry="5.8" transform="rotate(-71 84 170)" fill="#2a62e6" opacity="0.95"/><ellipse cx="196" cy="200" rx="8.4" ry="4.6" transform="rotate(-39 196 200)" fill="#2a62e6" opacity="0.95"/><ellipse cx="130" cy="128" rx="6.5" ry="5.0" transform="rotate(-34 130 128)" fill="#2a62e6" opacity="0.95"/><ellipse cx="196" cy="70" rx="6.8" ry="4.9" transform="rotate(-40 196 70)" fill="#2a62e6" opacity="0.95"/><ellipse cx="170" cy="112" rx="7.3" ry="4.6" transform="rotate(-25 170 112)" fill="#2a62e6" opacity="0.95"/></g><g filter="url(#b1)"><ellipse cx="175" cy="39.6" rx="9" ry="6.3" transform="rotate(-38 175 39.6)" fill="#35d2c4"/><ellipse cx="158.5" cy="54.6" rx="9" ry="6.3" transform="rotate(-38 158.5 54.6)" fill="#35d2c4"/><ellipse cx="139.4" cy="70.4" rx="9" ry="6.3" transform="rotate(-38 139.4 70.4)" fill="#35d2c4"/><ellipse cx="120.6" cy="84.3" rx="9" ry="6.3" transform="rotate(-38 120.6 84.3)" fill="#35d2c4"/><ellipse cx="82.6" cy="120" rx="9" ry="7" transform="rotate(-45 82.6 120)" fill="#35d2c4"/><ellipse cx="61" cy="144.2" rx="9" ry="7" transform="rotate(-45 61 144.2)" fill="#35d2c4"/><ellipse cx="43" cy="158" rx="6.5" ry="9" transform="rotate(5 43 158)" fill="#35d2c4"/><ellipse cx="39.6" cy="189" rx="6.5" ry="9" transform="rotate(5 39.6 189)" fill="#35d2c4"/><ellipse cx="101" cy="101" rx="6" ry="5" transform="rotate(-40 101 101)" fill="#35d2c4"/><ellipse cx="47" cy="206" rx="6" ry="5" transform="rotate(-40 47 206)" fill="#35d2c4"/></g><g filter="url(#b1)"><ellipse cx="28.6" cy="5" rx="9" ry="6" fill="#30b0d0" opacity="0.9"/><ellipse cx="59.4" cy="6.2" rx="8" ry="6" fill="#30b0d0" opacity="0.9"/></g><path d="M208.5 8.4C178 21 145 43 112 72S61 125 41 145S30 180 32.4 209" fill="none" stroke="#fff" stroke-width="3.9" stroke-dasharray="8.5 5"/><path d="M208.5 30.4C189 39 160 61 134 81S90 125 68 145S47 180 49 209" fill="none" stroke="#fff" stroke-width="3.9" stroke-dasharray="8.5 5"/><rect x="170.3" y="193" width="25.7" height="6" fill="#fff"/><text class="w" transform="translate(9.8 25.6) scale(1 1.035)">Merge</text><text class="w" transform="translate(19.6 75.5) scale(1 1.035)">STB</text><text class="w" transform="translate(64.3 175.7) scale(1 1.035)">CTB</text></svg><svg x="717.0" y="1085.1" width="208.9" height="208.8" viewBox="0 0 209 209" preserveAspectRatio="none"><rect width="210" height="210" fill="#000"/><path d="M5 -3L212 -3L212 191C185 198 150 199 107 191C80 184 55 160 33 134C15 110 8 70 6 37Z" fill="#ac150d" filter="url(#g4)"/><g filter="url(#b8)"><ellipse cx="168" cy="88" rx="80" ry="60" transform="rotate(8 168 88)" fill="#450805"/><rect x="190" y="35" width="30" height="110" fill="#450805"/></g><g filter="url(#b8)"><ellipse cx="176" cy="92" rx="58" ry="42" transform="rotate(8 176 92)" fill="#100201"/><rect x="195" y="52" width="30" height="80" fill="#100201"/></g><g filter="url(#b1)"><ellipse cx="57.7" cy="100.1" rx="7.3" ry="6.8" transform="rotate(1 57.7 100.1)" fill="#2e0502" opacity="0.85"/><ellipse cx="39.4" cy="115.7" rx="7.2" ry="6.3" transform="rotate(111 39.4 115.7)" fill="#2e0502" opacity="0.85"/><ellipse cx="140.8" cy="6.2" rx="8.4" ry="6.2" transform="rotate(131 140.8 6.2)" fill="#2e0502" opacity="0.85"/><ellipse cx="105.4" cy="24.2" rx="7.2" ry="6.3" transform="rotate(166 105.4 24.2)" fill="#2e0502" opacity="0.85"/><ellipse cx="57.8" cy="142.7" rx="7.800000000000001" ry="6.6" transform="rotate(18 57.8 142.7)" fill="#2e0502" opacity="0.85"/><ellipse cx="59.4" cy="45.8" rx="8.5" ry="6.1" transform="rotate(16 59.4 45.8)" fill="#2e0502" opacity="0.85"/><ellipse cx="80.1" cy="47.1" rx="7.6" ry="6.7" transform="rotate(36 80.1 47.1)" fill="#2e0502" opacity="0.85"/><ellipse cx="35.9" cy="88.0" rx="7.2" ry="6.4" transform="rotate(22 35.9 88.0)" fill="#2e0502" opacity="0.85"/><ellipse cx="90.6" cy="142.1" rx="8.2" ry="5.8" transform="rotate(110 90.6 142.1)" fill="#2e0502" opacity="0.85"/><ellipse cx="184.5" cy="167.8" rx="8.1" ry="6.4" transform="rotate(27 184.5 167.8)" fill="#2e0502" opacity="0.85"/><ellipse cx="84.7" cy="160.9" rx="8.5" ry="5.6" transform="rotate(62 84.7 160.9)" fill="#2e0502" opacity="0.85"/><ellipse cx="151.8" cy="186.2" rx="7.9" ry="6.1" transform="rotate(177 151.8 186.2)" fill="#2e0502" opacity="0.85"/><ellipse cx="130.3" cy="173.7" rx="7.9" ry="5.8" transform="rotate(80 130.3 173.7)" fill="#2e0502" opacity="0.85"/><ellipse cx="40.6" cy="69.9" rx="7.699999999999999" ry="6.5" transform="rotate(31 40.6 69.9)" fill="#2e0502" opacity="0.85"/><ellipse cx="83.2" cy="8.7" rx="9.0" ry="6.4" transform="rotate(2 83.2 8.7)" fill="#2e0502" opacity="0.85"/><ellipse cx="67.0" cy="122.3" rx="8.4" ry="6.6" transform="rotate(19 67.0 122.3)" fill="#2e0502" opacity="0.85"/><ellipse cx="68.5" cy="26.1" rx="8.5" ry="6.4" transform="rotate(158 68.5 26.1)" fill="#2e0502" opacity="0.85"/><ellipse cx="70.0" cy="84.3" rx="7.4" ry="6.4" transform="rotate(33 70.0 84.3)" fill="#2e0502" opacity="0.85"/><ellipse cx="111.4" cy="162.1" rx="8.1" ry="6.0" transform="rotate(3 111.4 162.1)" fill="#2e0502" opacity="0.85"/><ellipse cx="203.8" cy="183.7" rx="7.800000000000001" ry="6.8" transform="rotate(91 203.8 183.7)" fill="#2e0502" opacity="0.85"/><ellipse cx="171.9" cy="185.6" rx="7.1" ry="6.6" transform="rotate(38 171.9 185.6)" fill="#2e0502" opacity="0.85"/><ellipse cx="163.8" cy="168.8" rx="8.9" ry="6.0" transform="rotate(82 163.8 168.8)" fill="#2e0502" opacity="0.85"/><ellipse cx="76.7" cy="67.0" rx="7.5" ry="5.6" transform="rotate(2 76.7 67.0)" fill="#2e0502" opacity="0.85"/><ellipse cx="124.8" cy="16.0" rx="7.1" ry="6.7" transform="rotate(33 124.8 16.0)" fill="#2e0502" opacity="0.85"/></g><path d="M49 22h0M83 32h0M192 167h0M36 22h0M173 169h0M65 131h0M153 179h0M184 18h0M106 37h0M99 19h0M195 181h0M184 177h0M34 64h0M170 9h0M59 112h0M86 42h0M74 156h0M67 117h0M189 21h0M50 69h0M37 96h0M202 162h0M130 171h0M61 40h0M93 29h0M69 2h0M61 20h0M43 12h0M51 86h0M51 43h0M30 11h0M165 156h0M103 19h0M70 137h0M200 16h0M140 9h0M188 27h0M156 194h0M46 1h0M193 3h0M183 24h0M169 164h0M186 162h0M29 76h0M173 18h0M49 102h0M202 20h0M162 14h0M88 167h0M37 31h0M148 1h0M65 114h0M102 150h0M101 16h0M75 160h0M92 29h0M138 28h0M130 20h0M68 63h0M198 173h0M167 169h0M141 156h0M129 174h0M85 125h0M187 147h0M65 48h0M68 131h0M84 84h0M86 3h0M38 113h0M130 33h0M187 163h0M31 50h0M110 33h0M66 25h0M147 153h0M184 150h0M117 145h0M105 32h0M82 143h0M81 88h0M32 33h0M177 172h0M48 116h0M100 150h0M208 148h0M135 188h0M125 8h0M174 186h0M187 185h0M138 146h0M42 15h0M163 190h0M146 24h0M205 173h0M106 0h0M130 4h0M153 7h0M100 30h0M156 171h0M62 81h0M126 7h0M158 180h0M62 144h0M91 37h0M131 176h0M67 130h0M54 107h0M35 19h0M140 186h0M104 24h0M71 95h0M207 35h0M62 119h0M138 190h0M38 43h0M207 36h0M205 12h0M189 147h0M140 176h0M22 42h0M29 100h0M76 155h0M175 159h0M46 50h0M76 148h0M44 6h0M104 9h0M64 150h0M82 29h0M79 97h0M74 93h0M164 153h0M87 24h0M62 117h0M151 5h0M91 167h0M29 9h0M38 60h0M72 141h0M70 112h0M98 25h0M206 30h0M183 17h0M197 164h0M55 12h0M99 181h0M44 99h0M59 144h0M201 186h0M60 87h0M178 177h0M209 2h0M144 13h0M91 28h0M68 71h0M58 123h0M64 75h0M101 136h0M200 143h0M64 66h0M63 66h0M44 101h0M61 77h0M180 167h0M37 20h0M208 7h0M82 51h0M92 153h0M61 19h0M165 20h0M73 143h0M90 153h0M82 18h0M81 44h0M26 95h0M154 158h0M140 186h0M91 150h0M59 70h0M50 39h0M74 88h0M29 75h0M118 138h0M204 162h0M194 155h0M73 106h0M158 164h0M188 155h0M171 175h0M92 151h0M167 13h0M73 120h0M121 148h0M133 25h0M53 20h0M149 183h0M80 43h0M52 102h0M81 15h0M182 177h0M152 172h0M171 192h0M22 30h0M35 95h0M118 184h0M201 145h0M82 114h0M113 15h0M64 17h0M96 20h0M173 161h0M190 1h0M83 125h0M34 103h0M70 7h0M27 36h0M76 107h0M144 158h0M54 23h0M137 156h0M202 18h0M78 114h0M33 106h0M37 80h0M37 67h0M35 98h0M57 91h0M145 8h0M141 11h0M172 7h0M162 161h0M78 73h0M77 120h0M81 27h0M160 150h0M76 166h0M107 161h0M173 8h0M193 6h0M29 85h0M168 165h0M171 183h0M153 150h0M53 81h0M89 55h0M26 81h0M73 58h0M108 136h0M62 139h0M145 190h0M81 111h0M68 130h0M73 46h0M180 186h0M165 157h0M33 53h0M127 31h0M83 77h0M197 16h0M34 72h0M76 75h0M63 132h0M92 132h0M33 114h0M193 172h0M179 8h0M92 152h0M36 15h0M155 172h0M137 12h0M139 165h0M164 14h0M87 106h0M116 177h0M108 141h0M74 149h0M45 88h0M93 38h0M138 169h0M48 48h0M117 34h0M55 62h0M169 182h0M201 18h0M82 95h0M131 164h0M62 74h0M40 40h0M102 153h0M40 102h0M103 169h0M73 138h0M83 122h0M159 172h0M207 13h0M89 34h0M35 99h0M163 26h0M166 176h0M202 158h0M176 184h0M83 28h0M50 54h0M82 151h0M41 66h0M125 188h0M201 153h0M91 154h0M163 27h0M68 27h0M76 114h0M44 48h0M56 28h0M127 155h0M44 62h0M46 37h0M209 144h0M36 12h0M50 107h0M121 159h0M33 89h0M99 134h0M164 183h0M111 21h0M82 80h0M57 21h0M208 12h0M70 100h0M153 188h0M143 163h0M105 142h0M139 167h0M139 21h0M202 144h0M76 107h0M89 160h0M208 166h0M201 25h0M61 44h0M144 158h0M72 122h0M79 142h0M95 147h0M106 177h0M163 9h0M135 163h0M74 38h0M196 155h0M136 186h0M68 67h0M160 149h0M84 24h0M162 182h0M40 121h0M100 159h0M59 104h0M40 27h0M181 193h0M51 57h0M77 14h0M97 163h0M182 26h0M62 137h0M62 119h0M121 171h0M30 37h0M59 37h0M188 178h0M161 177h0M143 3h0M69 54h0M204 32h0M54 37h0M50 119h0M25 46h0M32 100h0M163 16h0M102 29h0M120 8h0M197 148h0M200 27h0M126 4h0M113 170h0M74 30h0M32 85h0M47 14h0M115 0h0M49 9h0M169 16h0M155 11h0M71 44h0M37 65h0M172 162h0M62 71h0M121 11h0M45 99h0M42 74h0M75 91h0M71 35h0M79 131h0M21 62h0M74 101h0M85 126h0M46 118h0M112 26h0M58 82h0M126 165h0M121 162h0M51 124h0M131 188h0M48 67h0M122 163h0M107 16h0M93 161h0M184 19h0M35 103h0M87 105h0M103 19h0M68 27h0M122 4h0M121 3h0M151 11h0M58 119h0M115 21h0M137 14h0M205 156h0M201 20h0M94 168h0M86 18h0M132 178h0M77 131h0M204 3h0M107 17h0M71 12h0M159 151h0M193 173h0M160 8h0M54 112h0M208 35h0M155 166h0M72 126h0M31 59h0M169 24h0M113 18h0M94 59h0M38 117h0M49 39h0M64 115h0M92 61h0M51 123h0M96 146h0M76 162h0M121 24h0M190 180h0M40 12h0M140 23h0M104 141h0M73 75h0M174 11h0M68 136h0M78 90h0M144 2h0M189 26h0M98 31h0M115 21h0M82 30h0M177 173h0M173 13h0M67 144h0M117 153h0M68 92h0M81 33h0M70 6h0M191 29h0M64 130h0M77 71h0M193 153h0M161 181h0M76 129h0M38 122h0M68 11h0M49 86h0M193 183h0M47 132h0M46 122h0M129 21h0M163 23h0M84 146h0M43 65h0M108 178h0M109 178h0M100 23h0M91 1h0M63 27h0M83 67h0M198 10h0M62 6h0M79 74h0M67 39h0M199 5h0M124 24h0M71 19h0M88 22h0M97 138h0M114 38h0M74 118h0M79 14h0M181 153h0M181 183h0M39 58h0M160 185h0M48 52h0M156 171h0M128 13h0M83 71h0M94 119h0M188 1h0M137 175h0M54 66h0M74 110h0M36 82h0M47 43h0M155 19h0M109 163h0M43 5h0M202 171h0M149 156h0M147 153h0M115 164h0M190 9h0M151 149h0M62 118h0M38 89h0M80 111h0M63 39h0M50 53h0M112 25h0M38 94h0M123 141h0M107 41h0M90 11h0M44 59h0M126 186h0M66 60h0M56 80h0M132 144h0M60 16h0M207 15h0M123 183h0M117 140h0M82 149h0M168 20h0M111 172h0M117 21h0M130 33h0M165 1h0M85 103h0M60 60h0M68 105h0M89 125h0M138 177h0M93 59h0M139 160h0M166 3h0M124 21h0M26 46h0M50 108h0M49 120h0M60 126h0M185 150h0M175 189h0M51 107h0M22 37h0M151 168h0M133 154h0M115 17h0M34 55h0M116 37h0M86 4h0M135 157h0M200 184h0M68 15h0M52 58h0M66 33h0M116 11h0M131 188h0M123 156h0M159 165h0M36 49h0M52 138h0M116 173h0M53 42h0M35 99h0M56 61h0M86 165h0M64 102h0M165 19h0M54 65h0M74 19h0M78 92h0M139 181h0M176 163h0M204 172h0M165 192h0M107 180h0M122 160h0M154 26h0M76 9h0M192 176h0M59 97h0M67 151h0M110 25h0M65 37h0M125 150h0M95 162h0M85 122h0M80 121h0M102 46h0M97 5h0M93 51h0M172 12h0M79 43h0M146 18h0M95 17h0M120 169h0M84 17h0M62 18h0M52 34h0M23 31h0M66 116h0M130 2h0M34 24h0M30 43h0M81 75h0M147 176h0M30 30h0M54 15h0M104 32h0M170 168h0M40 3h0M35 42h0M89 0h0M101 138h0M161 182h0M54 106h0M40 81h0M191 181h0M108 169h0M77 88h0M49 130h0M48 61h0M178 181h0M42 86h0M27 21h0M186 167h0M186 182h0M81 98h0M98 177h0M117 183h0M136 147h0M66 122h0M38 5h0M138 4h0M110 29h0M102 24h0M208 171h0M190 11h0M177 160h0M91 31h0M38 10h0M84 22h0M97 10h0M187 6h0M50 13h0M173 11h0M79 95h0M197 165h0M176 15h0M65 101h0M98 8h0M87 140h0M71 25h0M88 51h0M155 5h0M80 11h0M32 6h0M110 134h0M76 153h0M58 9h0M192 188h0M82 97h0M34 25h0M170 162h0M180 155h0M59 36h0M98 163h0M94 20h0M197 182h0M133 180h0" stroke="#ff3a2a" stroke-width="2.4" stroke-linecap="round" opacity="0.5" fill="none"/><path d="M5 -3L60 -3L40 60L8 80Z" fill="#000" opacity=".55" filter="url(#b8)"/><rect x="170.3" y="193" width="25.7" height="6" fill="#fff"/><text class="w" transform="translate(9.8 25.6) scale(1 1.035)">hCG</text></svg><svg x="930.0" y="1085.1" width="209.9" height="208.8" viewBox="0 0 209 209" preserveAspectRatio="none"><rect width="210" height="210" fill="#000"/><path d="M5 -3L212 -3L212 191C185 198 150 199 107 191C80 184 55 160 33 134C15 110 8 70 6 37Z" fill="#114016" filter="url(#g4)"/><g filter="url(#b8)"><ellipse cx="168" cy="88" rx="80" ry="60" transform="rotate(8 168 88)" fill="#051a08"/><rect x="190" y="35" width="30" height="110" fill="#051a08"/></g><g filter="url(#b8)"><ellipse cx="176" cy="92" rx="58" ry="42" transform="rotate(8 176 92)" fill="#010502"/><rect x="195" y="52" width="30" height="80" fill="#010502"/></g><g filter="url(#b2)"><ellipse cx="57.7" cy="100.1" rx="7.8" ry="7.3" transform="rotate(1 57.7 100.1)" fill="#2f8a38" opacity="0.55"/><ellipse cx="39.4" cy="115.7" rx="7.7" ry="6.8" transform="rotate(111 39.4 115.7)" fill="#2f8a38" opacity="0.55"/><ellipse cx="140.8" cy="6.2" rx="8.9" ry="6.7" transform="rotate(131 140.8 6.2)" fill="#2f8a38" opacity="0.55"/><ellipse cx="105.4" cy="24.2" rx="7.7" ry="6.8" transform="rotate(166 105.4 24.2)" fill="#2f8a38" opacity="0.55"/><ellipse cx="57.8" cy="142.7" rx="8.3" ry="7.1" transform="rotate(18 57.8 142.7)" fill="#2f8a38" opacity="0.55"/><ellipse cx="59.4" cy="45.8" rx="9.0" ry="6.6" transform="rotate(16 59.4 45.8)" fill="#2f8a38" opacity="0.55"/><ellipse cx="80.1" cy="47.1" rx="8.1" ry="7.2" transform="rotate(36 80.1 47.1)" fill="#2f8a38" opacity="0.55"/><ellipse cx="35.9" cy="88.0" rx="7.7" ry="6.9" transform="rotate(22 35.9 88.0)" fill="#2f8a38" opacity="0.55"/><ellipse cx="90.6" cy="142.1" rx="8.7" ry="6.3" transform="rotate(110 90.6 142.1)" fill="#2f8a38" opacity="0.55"/><ellipse cx="184.5" cy="167.8" rx="8.6" ry="6.9" transform="rotate(27 184.5 167.8)" fill="#2f8a38" opacity="0.55"/><ellipse cx="84.7" cy="160.9" rx="9.0" ry="6.1" transform="rotate(62 84.7 160.9)" fill="#2f8a38" opacity="0.55"/><ellipse cx="151.8" cy="186.2" rx="8.4" ry="6.6" transform="rotate(177 151.8 186.2)" fill="#2f8a38" opacity="0.55"/><ellipse cx="130.3" cy="173.7" rx="8.4" ry="6.3" transform="rotate(80 130.3 173.7)" fill="#2f8a38" opacity="0.55"/><ellipse cx="40.6" cy="69.9" rx="8.2" ry="7.0" transform="rotate(31 40.6 69.9)" fill="#2f8a38" opacity="0.55"/><ellipse cx="83.2" cy="8.7" rx="9.5" ry="6.9" transform="rotate(2 83.2 8.7)" fill="#2f8a38" opacity="0.55"/><ellipse cx="67.0" cy="122.3" rx="8.9" ry="7.1" transform="rotate(19 67.0 122.3)" fill="#2f8a38" opacity="0.55"/><ellipse cx="68.5" cy="26.1" rx="9.0" ry="6.9" transform="rotate(158 68.5 26.1)" fill="#2f8a38" opacity="0.55"/><ellipse cx="70.0" cy="84.3" rx="7.9" ry="6.9" transform="rotate(33 70.0 84.3)" fill="#2f8a38" opacity="0.55"/><ellipse cx="111.4" cy="162.1" rx="8.6" ry="6.5" transform="rotate(3 111.4 162.1)" fill="#2f8a38" opacity="0.55"/><ellipse cx="203.8" cy="183.7" rx="8.3" ry="7.3" transform="rotate(91 203.8 183.7)" fill="#2f8a38" opacity="0.55"/><ellipse cx="171.9" cy="185.6" rx="7.6" ry="7.1" transform="rotate(38 171.9 185.6)" fill="#2f8a38" opacity="0.55"/><ellipse cx="163.8" cy="168.8" rx="9.4" ry="6.5" transform="rotate(82 163.8 168.8)" fill="#2f8a38" opacity="0.55"/><ellipse cx="76.7" cy="67.0" rx="8.0" ry="6.1" transform="rotate(2 76.7 67.0)" fill="#2f8a38" opacity="0.55"/><ellipse cx="124.8" cy="16.0" rx="7.6" ry="7.2" transform="rotate(33 124.8 16.0)" fill="#2f8a38" opacity="0.55"/></g><g filter="url(#b1)"><ellipse cx="165.1" cy="107.4" rx="8.4" ry="5.0" transform="rotate(-10 165.1 107.4)" fill="#2cb044" opacity="0.9"/><ellipse cx="112.3" cy="121.7" rx="7.4" ry="5.0" transform="rotate(-4 112.3 121.7)" fill="#2cb044" opacity="0.9"/><ellipse cx="157.4" cy="79.3" rx="8.0" ry="5.4" fill="#2cb044" opacity="0.9"/><ellipse cx="159.6" cy="137.2" rx="8.3" ry="4.9" transform="rotate(30 159.6 137.2)" fill="#2cb044" opacity="0.9"/><ellipse cx="203.6" cy="103" rx="8.9" ry="6.0" transform="rotate(7 203.6 103)" fill="#2cb044" opacity="0.9"/><ellipse cx="125" cy="95" rx="8.0" ry="5.7" transform="rotate(-12 125 95)" fill="#2cb044" opacity="0.9"/><ellipse cx="182" cy="60" rx="7.8" ry="5.6" transform="rotate(-6 182 60)" fill="#2cb044" opacity="0.9"/><ellipse cx="140" cy="60" rx="7.2" ry="6.1" transform="rotate(3 140 60)" fill="#2cb044" opacity="0.9"/></g><g filter="url(#b1)"><ellipse cx="98.4" cy="45.1" rx="7.3" ry="5.6" transform="rotate(-8 98.4 45.1)" fill="#36ea58"/><ellipse cx="116" cy="45.8" rx="8.2" ry="7.0" transform="rotate(-19 116 45.8)" fill="#36ea58"/><ellipse cx="186" cy="48" rx="7.7" ry="5.6" transform="rotate(-3 186 48)" fill="#36ea58"/><ellipse cx="202.5" cy="17.2" rx="8.5" ry="7.0" transform="rotate(20 202.5 17.2)" fill="#36ea58"/><ellipse cx="73.7" cy="101.5" rx="8.5" ry="7.2" transform="rotate(10 73.7 101.5)" fill="#36ea58"/><ellipse cx="66" cy="123.3" rx="7.9" ry="6.0" transform="rotate(8 66 123.3)" fill="#36ea58"/><ellipse cx="79.7" cy="135" rx="7.6" ry="5.7" transform="rotate(-3 79.7 135)" fill="#36ea58"/><ellipse cx="95.8" cy="142.2" rx="8.7" ry="5.8" transform="rotate(4 95.8 142.2)" fill="#36ea58"/><ellipse cx="125" cy="156.3" rx="7.8" ry="6.5" transform="rotate(-18 125 156.3)" fill="#36ea58"/><ellipse cx="140.9" cy="158" rx="8.9" ry="6.0" transform="rotate(5 140.9 158)" fill="#36ea58"/><ellipse cx="164" cy="159.2" rx="7.8" ry="5.5" transform="rotate(3 164 159.2)" fill="#36ea58"/><ellipse cx="183.8" cy="159.2" rx="7.3" ry="5.6" transform="rotate(-23 183.8 159.2)" fill="#36ea58"/><ellipse cx="88" cy="77.7" rx="7.3" ry="5.7" transform="rotate(7 88 77.7)" fill="#36ea58"/><ellipse cx="79.3" cy="85.4" rx="8.0" ry="7.5" transform="rotate(22 79.3 85.4)" fill="#36ea58"/><ellipse cx="121" cy="65.6" rx="9.0" ry="6.0" transform="rotate(-3 121 65.6)" fill="#36ea58"/><ellipse cx="150" cy="20" rx="7.5" ry="6.7" transform="rotate(6 150 20)" fill="#36ea58"/><ellipse cx="170" cy="12" rx="8.6" ry="6.9" transform="rotate(-12 170 12)" fill="#36ea58"/><ellipse cx="134" cy="30" rx="7.8" ry="6.6" transform="rotate(-25 134 30)" fill="#36ea58"/><ellipse cx="203" cy="150" rx="7.1" ry="6.3" transform="rotate(-19 203 150)" fill="#36ea58"/></g><path d="M130 155h0M155 193h0M188 24h0M98 52h0M129 26h0M44 45h0M205 182h0M113 142h0M75 35h0M30 14h0M63 126h0M71 65h0M66 101h0M147 12h0M204 5h0M157 177h0M77 121h0M72 74h0M110 162h0M167 180h0M66 37h0M34 10h0M85 50h0M124 173h0M175 27h0M132 165h0M62 95h0M209 178h0M102 152h0M84 31h0M163 181h0M76 164h0M139 159h0M76 147h0M59 102h0M52 140h0M97 171h0M135 167h0M73 135h0M154 173h0M145 150h0M130 162h0M133 151h0M92 136h0M132 9h0M99 47h0M66 38h0M40 7h0M58 86h0M78 8h0M128 20h0M77 30h0M187 0h0M129 29h0M132 186h0M79 90h0M47 61h0M87 67h0M60 100h0M93 61h0M163 173h0M56 32h0M155 25h0M62 111h0M89 120h0M81 82h0M190 30h0M170 14h0M147 10h0M149 28h0M87 34h0M130 9h0M23 79h0M120 155h0M184 28h0M90 66h0M55 115h0M108 28h0M49 78h0M47 24h0M49 70h0M81 29h0M42 8h0M159 0h0M97 21h0M32 33h0M78 81h0M53 58h0M34 60h0M49 101h0M61 141h0M42 5h0M48 16h0M76 65h0M153 150h0M34 50h0M204 1h0M86 9h0M196 11h0M51 11h0M83 13h0M53 85h0M64 11h0M37 106h0M84 111h0M79 131h0M152 191h0M64 94h0M24 65h0M27 17h0M51 18h0M90 121h0M51 13h0M146 10h0M42 60h0M78 21h0M88 66h0M92 171h0M80 27h0M55 141h0M60 13h0M27 75h0M69 3h0M122 173h0M152 20h0M111 36h0M196 166h0M25 66h0M125 22h0M82 45h0M58 42h0M74 52h0M205 176h0M84 30h0M143 180h0M130 167h0M79 2h0M39 81h0M66 6h0M65 80h0M100 147h0M170 193h0M112 167h0M76 124h0M59 16h0M121 159h0M150 15h0M200 188h0M144 175h0M44 108h0M82 1h0M82 37h0M136 188h0M81 23h0M64 56h0M130 188h0M174 184h0M89 111h0M59 127h0M38 40h0M144 152h0M21 40h0M33 19h0M154 171h0M168 149h0M78 96h0M142 155h0M78 143h0M198 15h0M159 151h0M62 24h0M154 192h0M80 61h0M104 146h0M62 70h0M50 139h0M169 1h0M108 11h0M200 144h0M106 11h0M82 163h0M91 124h0M133 8h0M173 191h0M158 186h0M88 57h0M139 26h0M35 96h0M188 185h0M41 4h0M125 28h0M196 6h0M39 90h0M78 162h0M32 108h0M204 147h0M77 100h0M50 119h0M55 114h0M101 148h0M88 105h0M128 166h0M72 4h0M62 94h0M77 111h0M63 35h0M195 16h0M94 154h0M115 173h0M29 73h0M43 95h0M71 30h0M81 131h0M51 55h0M29 11h0M182 8h0M123 25h0M198 23h0M96 136h0M186 151h0M176 25h0M62 0h0M32 45h0M43 18h0M74 17h0M89 130h0M29 103h0M30 56h0M164 175h0M61 23h0M54 75h0M200 24h0M80 133h0M85 69h0M182 13h0M63 38h0M197 165h0M47 6h0M97 21h0M161 24h0M112 17h0M91 57h0M89 44h0M80 132h0M29 11h0M54 98h0M28 42h0M145 152h0M28 35h0M130 179h0M53 74h0M70 124h0M183 192h0M59 70h0M183 28h0M204 27h0M137 158h0M152 0h0M103 0h0M165 161h0M175 9h0M25 42h0M204 178h0M57 2h0M91 64h0M125 158h0M93 143h0M160 22h0M109 5h0M166 160h0M130 174h0M128 150h0M63 152h0M81 35h0M199 187h0M84 94h0M85 6h0M95 160h0M145 180h0M143 159h0M182 192h0M184 149h0M93 40h0M68 52h0M143 161h0M40 111h0M76 30h0M60 1h0M31 89h0M193 17h0M31 1h0M112 36h0M124 20h0M142 26h0M108 17h0M134 191h0M133 9h0M93 32h0M58 94h0M51 61h0" stroke="#50ff70" stroke-width="1.8" stroke-linecap="round" opacity="0.25" fill="none"/><rect x="170.3" y="193" width="25.7" height="6" fill="#fff"/><text class="w" transform="translate(9.8 25.6) scale(1 1.035)">METTL14</text></svg><svg x="1143.0" y="1085.1" width="208.9" height="208.8" viewBox="0 0 209 209" preserveAspectRatio="none"><rect width="210" height="210" fill="#000"/><path d="M5 -3L212 -3L212 191C185 198 150 199 107 191C80 184 55 160 33 134C15 110 8 70 6 37Z" fill="#050544" filter="url(#g4)"/><g filter="url(#b8)"><ellipse cx="168" cy="88" rx="80" ry="60" transform="rotate(8 168 88)" fill="#020218"/><rect x="190" y="35" width="30" height="110" fill="#020218"/></g><g filter="url(#b8)"><ellipse cx="176" cy="92" rx="58" ry="42" transform="rotate(8 176 92)" fill="#000006"/><rect x="195" y="52" width="30" height="80" fill="#000006"/></g><g filter="url(#b1)"><ellipse cx="57.7" cy="100.1" rx="7.8" ry="7.3" transform="rotate(1 57.7 100.1)" fill="#1a28dc" opacity="0.85"/><ellipse cx="39.4" cy="115.7" rx="7.7" ry="6.8" transform="rotate(111 39.4 115.7)" fill="#1a28dc" opacity="0.85"/><ellipse cx="140.8" cy="6.2" rx="8.9" ry="6.7" transform="rotate(131 140.8 6.2)" fill="#1a28dc" opacity="0.85"/><ellipse cx="105.4" cy="24.2" rx="7.7" ry="6.8" transform="rotate(166 105.4 24.2)" fill="#1a28dc" opacity="0.85"/><ellipse cx="57.8" cy="142.7" rx="8.3" ry="7.1" transform="rotate(18 57.8 142.7)" fill="#1a28dc" opacity="0.85"/><ellipse cx="59.4" cy="45.8" rx="9.0" ry="6.6" transform="rotate(16 59.4 45.8)" fill="#1a28dc" opacity="0.85"/><ellipse cx="80.1" cy="47.1" rx="8.1" ry="7.2" transform="rotate(36 80.1 47.1)" fill="#1a28dc" opacity="0.85"/><ellipse cx="35.9" cy="88.0" rx="7.7" ry="6.9" transform="rotate(22 35.9 88.0)" fill="#1a28dc" opacity="0.85"/><ellipse cx="90.6" cy="142.1" rx="8.7" ry="6.3" transform="rotate(110 90.6 142.1)" fill="#1a28dc" opacity="0.85"/><ellipse cx="184.5" cy="167.8" rx="8.6" ry="6.9" transform="rotate(27 184.5 167.8)" fill="#1a28dc" opacity="0.85"/><ellipse cx="84.7" cy="160.9" rx="9.0" ry="6.1" transform="rotate(62 84.7 160.9)" fill="#1a28dc" opacity="0.85"/><ellipse cx="151.8" cy="186.2" rx="8.4" ry="6.6" transform="rotate(177 151.8 186.2)" fill="#1a28dc" opacity="0.85"/><ellipse cx="130.3" cy="173.7" rx="8.4" ry="6.3" transform="rotate(80 130.3 173.7)" fill="#1a28dc" opacity="0.85"/><ellipse cx="40.6" cy="69.9" rx="8.2" ry="7.0" transform="rotate(31 40.6 69.9)" fill="#1a28dc" opacity="0.85"/><ellipse cx="83.2" cy="8.7" rx="9.5" ry="6.9" transform="rotate(2 83.2 8.7)" fill="#1a28dc" opacity="0.85"/><ellipse cx="67.0" cy="122.3" rx="8.9" ry="7.1" transform="rotate(19 67.0 122.3)" fill="#1a28dc" opacity="0.85"/><ellipse cx="68.5" cy="26.1" rx="9.0" ry="6.9" transform="rotate(158 68.5 26.1)" fill="#1a28dc" opacity="0.85"/><ellipse cx="70.0" cy="84.3" rx="7.9" ry="6.9" transform="rotate(33 70.0 84.3)" fill="#1a28dc" opacity="0.85"/><ellipse cx="111.4" cy="162.1" rx="8.6" ry="6.5" transform="rotate(3 111.4 162.1)" fill="#1a28dc" opacity="0.85"/><ellipse cx="203.8" cy="183.7" rx="8.3" ry="7.3" transform="rotate(91 203.8 183.7)" fill="#1a28dc" opacity="0.85"/><ellipse cx="171.9" cy="185.6" rx="7.6" ry="7.1" transform="rotate(38 171.9 185.6)" fill="#1a28dc" opacity="0.85"/><ellipse cx="163.8" cy="168.8" rx="9.4" ry="6.5" transform="rotate(82 163.8 168.8)" fill="#1a28dc" opacity="0.85"/><ellipse cx="76.7" cy="67.0" rx="8.0" ry="6.1" transform="rotate(2 76.7 67.0)" fill="#1a28dc" opacity="0.85"/><ellipse cx="124.8" cy="16.0" rx="7.6" ry="7.2" transform="rotate(33 124.8 16.0)" fill="#1a28dc" opacity="0.85"/></g><g filter="url(#b1)"><ellipse cx="165.1" cy="107.4" rx="8.4" ry="5.0" transform="rotate(-10 165.1 107.4)" fill="#1a2af0"/><ellipse cx="112.3" cy="121.7" rx="7.4" ry="5.0" transform="rotate(-4 112.3 121.7)" fill="#1a2af0"/><ellipse cx="157.4" cy="79.3" rx="8.0" ry="5.4" fill="#1a2af0"/><ellipse cx="159.6" cy="137.2" rx="8.3" ry="4.9" transform="rotate(30 159.6 137.2)" fill="#1a2af0"/><ellipse cx="203.6" cy="103" rx="8.9" ry="6.0" transform="rotate(7 203.6 103)" fill="#1a2af0"/><ellipse cx="125" cy="95" rx="8.0" ry="5.7" transform="rotate(-12 125 95)" fill="#1a2af0"/><ellipse cx="182" cy="60" rx="7.8" ry="5.6" transform="rotate(-6 182 60)" fill="#1a2af0"/><ellipse cx="140" cy="60" rx="7.2" ry="6.1" transform="rotate(3 140 60)" fill="#1a2af0"/></g><g filter="url(#b1)"><ellipse cx="98.4" cy="45.1" rx="7.3" ry="5.6" transform="rotate(-8 98.4 45.1)" fill="#1e2ef0"/><ellipse cx="116" cy="45.8" rx="8.2" ry="7.0" transform="rotate(-19 116 45.8)" fill="#1e2ef0"/><ellipse cx="186" cy="48" rx="7.7" ry="5.6" transform="rotate(-3 186 48)" fill="#1e2ef0"/><ellipse cx="202.5" cy="17.2" rx="8.5" ry="7.0" transform="rotate(20 202.5 17.2)" fill="#1e2ef0"/><ellipse cx="73.7" cy="101.5" rx="8.5" ry="7.2" transform="rotate(10 73.7 101.5)" fill="#1e2ef0"/><ellipse cx="66" cy="123.3" rx="7.9" ry="6.0" transform="rotate(8 66 123.3)" fill="#1e2ef0"/><ellipse cx="79.7" cy="135" rx="7.6" ry="5.7" transform="rotate(-3 79.7 135)" fill="#1e2ef0"/><ellipse cx="95.8" cy="142.2" rx="8.7" ry="5.8" transform="rotate(4 95.8 142.2)" fill="#1e2ef0"/><ellipse cx="125" cy="156.3" rx="7.8" ry="6.5" transform="rotate(-18 125 156.3)" fill="#1e2ef0"/><ellipse cx="140.9" cy="158" rx="8.9" ry="6.0" transform="rotate(5 140.9 158)" fill="#1e2ef0"/><ellipse cx="164" cy="159.2" rx="7.8" ry="5.5" transform="rotate(3 164 159.2)" fill="#1e2ef0"/><ellipse cx="183.8" cy="159.2" rx="7.3" ry="5.6" transform="rotate(-23 183.8 159.2)" fill="#1e2ef0"/><ellipse cx="88" cy="77.7" rx="7.3" ry="5.7" transform="rotate(7 88 77.7)" fill="#1e2ef0"/><ellipse cx="79.3" cy="85.4" rx="8.0" ry="7.5" transform="rotate(22 79.3 85.4)" fill="#1e2ef0"/><ellipse cx="121" cy="65.6" rx="9.0" ry="6.0" transform="rotate(-3 121 65.6)" fill="#1e2ef0"/><ellipse cx="150" cy="20" rx="7.5" ry="6.7" transform="rotate(6 150 20)" fill="#1e2ef0"/><ellipse cx="170" cy="12" rx="8.6" ry="6.9" transform="rotate(-12 170 12)" fill="#1e2ef0"/><ellipse cx="134" cy="30" rx="7.8" ry="6.6" transform="rotate(-25 134 30)" fill="#1e2ef0"/><ellipse cx="203" cy="150" rx="7.1" ry="6.3" transform="rotate(-19 203 150)" fill="#1e2ef0"/></g><rect x="170.3" y="193" width="25.7" height="6" fill="#fff"/><text class="w" transform="translate(9.8 25.6) scale(1 1.035)">DNA</text></svg><svg x="1355.95" y="1085.1" width="209.3" height="208.8" viewBox="0 0 209 209" preserveAspectRatio="none"><rect width="210" height="210" fill="#000"/><path d="M5 -3L212 -3L212 191C185 198 150 199 107 191C80 184 55 160 33 134C15 110 8 70 6 37Z" fill="#d8b4c8" filter="url(#b4)"/><path d="M5 -3L212 -3L212 191C185 198 150 199 107 191C80 184 55 160 33 134C15 110 8 70 6 37Z" fill="#aa4a6a" filter="url(#b8)" transform="translate(14 -10) scale(.95)"/><g filter="url(#b8)"><ellipse cx="168" cy="88" rx="80" ry="60" transform="rotate(8 168 88)" fill="#3a1830"/><rect x="190" y="35" width="30" height="110" fill="#3a1830"/></g><g filter="url(#b8)"><ellipse cx="176" cy="92" rx="58" ry="42" transform="rotate(8 176 92)" fill="#08030c"/><rect x="195" y="52" width="30" height="80" fill="#08030c"/></g><path d="M166 172h0M98 159h0M78 161h0M113 143h0M40 116h0M135 146h0M123 19h0M65 41h0M101 29h0M146 3h0M163 4h0M79 81h0M205 186h0M140 186h0M93 174h0M98 147h0M85 18h0M102 164h0M36 5h0M75 54h0M53 86h0M56 99h0M100 30h0M79 64h0M83 102h0M61 1h0M94 12h0M178 13h0M163 170h0M127 30h0M131 20h0M132 147h0M190 190h0M145 165h0M58 149h0M196 17h0M193 7h0M77 11h0M208 160h0M199 146h0M72 16h0M153 24h0M103 16h0M31 59h0M81 47h0M46 118h0M34 66h0M50 120h0M39 68h0M80 92h0M115 138h0M80 13h0M61 98h0M151 181h0M25 23h0M205 10h0M192 157h0M141 152h0M93 42h0M180 163h0M165 156h0M208 148h0M143 162h0M174 11h0M173 18h0M28 88h0M80 124h0M40 94h0M198 169h0M107 25h0M145 170h0M98 176h0M192 182h0M53 28h0M76 1h0M64 17h0M130 161h0M194 19h0M80 26h0M190 175h0M109 162h0M208 176h0M124 181h0M136 167h0M106 24h0M144 163h0M139 26h0M73 33h0M152 192h0M37 38h0M131 180h0M95 168h0M120 153h0M95 13h0M80 130h0M175 22h0M93 3h0M147 166h0M207 180h0M92 53h0M114 185h0M150 10h0M130 1h0M112 36h0M44 64h0M32 12h0M75 39h0M46 80h0M137 18h0M90 122h0M56 133h0M135 175h0M53 56h0M58 136h0M67 139h0M106 16h0M112 37h0M55 0h0M56 65h0M81 124h0M178 150h0M104 152h0M108 182h0M134 181h0M188 22h0M25 83h0M102 15h0M58 37h0M28 21h0M68 88h0M37 24h0M140 29h0M47 73h0M83 121h0M75 149h0M86 123h0M64 123h0M99 22h0M120 142h0M100 15h0M123 24h0M72 136h0M203 170h0M74 3h0M168 1h0M98 43h0M208 23h0M75 77h0M77 158h0M179 16h0M207 21h0M69 140h0M92 160h0M161 2h0M68 113h0M62 125h0M107 45h0M43 86h0M180 188h0M59 63h0M84 7h0M92 41h0M49 90h0M66 151h0M85 75h0M85 60h0M132 2h0M97 3h0M44 64h0M202 175h0M73 29h0M132 18h0M66 42h0M179 158h0M80 118h0M173 12h0M137 178h0M52 35h0M37 75h0M33 26h0M85 108h0M89 106h0M69 128h0M143 21h0M153 163h0M176 7h0M145 148h0M42 33h0M51 30h0M133 161h0M84 155h0M113 22h0M54 133h0M76 64h0M84 133h0M42 122h0M49 107h0M177 177h0M179 149h0M33 3h0M106 4h0M46 22h0M45 134h0M163 15h0M138 177h0M198 190h0M91 11h0M134 161h0M208 150h0M203 0h0M42 72h0M85 67h0M87 55h0M142 170h0M66 92h0M171 11h0M52 52h0M33 11h0M206 169h0M50 24h0M31 51h0M132 147h0M95 169h0M66 154h0M34 30h0M33 37h0M137 3h0M182 156h0M167 14h0M186 4h0M199 164h0M25 19h0M35 45h0M183 173h0M130 5h0M69 143h0M161 152h0M189 186h0M126 180h0M25 26h0M61 94h0M158 187h0M192 29h0M50 89h0M78 115h0M78 157h0M142 189h0M202 3h0M42 100h0M209 174h0M78 44h0M192 6h0M29 103h0M206 182h0M208 32h0M204 151h0M113 137h0M104 134h0M104 177h0M107 19h0M128 183h0M47 105h0M163 184h0M90 142h0M59 42h0M65 137h0M115 36h0M70 149h0M177 25h0M143 11h0M112 157h0M165 9h0M59 82h0M97 40h0M95 141h0M130 2h0M104 5h0M25 88h0M135 9h0M102 22h0M144 192h0M184 189h0M63 104h0M190 149h0M72 161h0M82 38h0M90 52h0M199 4h0M77 28h0M98 145h0M40 53h0M198 159h0M147 176h0M130 24h0M161 0h0M79 128h0M173 15h0M205 30h0M86 44h0M94 12h0M33 81h0M47 44h0M44 38h0M23 79h0M185 152h0M173 157h0M94 3h0M71 142h0M67 62h0M92 48h0M36 82h0M132 12h0M146 15h0M41 36h0M52 136h0M95 49h0M72 6h0M180 25h0M92 42h0M200 146h0M41 15h0M103 33h0M33 113h0M34 30h0M87 51h0M83 107h0M147 174h0M103 151h0M146 158h0M71 118h0M142 10h0M74 164h0M43 1h0M172 165h0M166 153h0M192 191h0M132 189h0M47 20h0M133 2h0M195 157h0M191 9h0M85 16h0M177 163h0M175 19h0M57 107h0M86 133h0M93 168h0M36 116h0M187 154h0M99 53h0M76 117h0M72 117h0M77 33h0M93 26h0M109 43h0M63 68h0M149 153h0M64 52h0M99 53h0M144 182h0M57 79h0M181 186h0M64 98h0M198 176h0M33 52h0M125 144h0M164 12h0M50 4h0M200 31h0M28 55h0M38 124h0M101 50h0M101 171h0M30 23h0M195 17h0M68 32h0M198 159h0M133 174h0M113 25h0M78 105h0" stroke="#ff4060" stroke-width="1.8" stroke-linecap="round" opacity="0.5" fill="none"/><g filter="url(#b1)"><ellipse cx="57.7" cy="100.1" rx="7.8" ry="7.3" transform="rotate(1 57.7 100.1)" fill="#3a70d8" opacity="0.95"/><ellipse cx="39.4" cy="115.7" rx="7.7" ry="6.8" transform="rotate(111 39.4 115.7)" fill="#3a70d8" opacity="0.95"/><ellipse cx="140.8" cy="6.2" rx="8.9" ry="6.7" transform="rotate(131 140.8 6.2)" fill="#3a70d8" opacity="0.95"/><ellipse cx="105.4" cy="24.2" rx="7.7" ry="6.8" transform="rotate(166 105.4 24.2)" fill="#3a70d8" opacity="0.95"/><ellipse cx="57.8" cy="142.7" rx="8.3" ry="7.1" transform="rotate(18 57.8 142.7)" fill="#3a70d8" opacity="0.95"/><ellipse cx="59.4" cy="45.8" rx="9.0" ry="6.6" transform="rotate(16 59.4 45.8)" fill="#3a70d8" opacity="0.95"/><ellipse cx="80.1" cy="47.1" rx="8.1" ry="7.2" transform="rotate(36 80.1 47.1)" fill="#3a70d8" opacity="0.95"/><ellipse cx="35.9" cy="88.0" rx="7.7" ry="6.9" transform="rotate(22 35.9 88.0)" fill="#3a70d8" opacity="0.95"/><ellipse cx="90.6" cy="142.1" rx="8.7" ry="6.3" transform="rotate(110 90.6 142.1)" fill="#3a70d8" opacity="0.95"/><ellipse cx="184.5" cy="167.8" rx="8.6" ry="6.9" transform="rotate(27 184.5 167.8)" fill="#3a70d8" opacity="0.95"/><ellipse cx="84.7" cy="160.9" rx="9.0" ry="6.1" transform="rotate(62 84.7 160.9)" fill="#3a70d8" opacity="0.95"/><ellipse cx="151.8" cy="186.2" rx="8.4" ry="6.6" transform="rotate(177 151.8 186.2)" fill="#3a70d8" opacity="0.95"/><ellipse cx="130.3" cy="173.7" rx="8.4" ry="6.3" transform="rotate(80 130.3 173.7)" fill="#3a70d8" opacity="0.95"/><ellipse cx="40.6" cy="69.9" rx="8.2" ry="7.0" transform="rotate(31 40.6 69.9)" fill="#3a70d8" opacity="0.95"/><ellipse cx="83.2" cy="8.7" rx="9.5" ry="6.9" transform="rotate(2 83.2 8.7)" fill="#3a70d8" opacity="0.95"/><ellipse cx="67.0" cy="122.3" rx="8.9" ry="7.1" transform="rotate(19 67.0 122.3)" fill="#3a70d8" opacity="0.95"/><ellipse cx="68.5" cy="26.1" rx="9.0" ry="6.9" transform="rotate(158 68.5 26.1)" fill="#3a70d8" opacity="0.95"/><ellipse cx="70.0" cy="84.3" rx="7.9" ry="6.9" transform="rotate(33 70.0 84.3)" fill="#3a70d8" opacity="0.95"/><ellipse cx="111.4" cy="162.1" rx="8.6" ry="6.5" transform="rotate(3 111.4 162.1)" fill="#3a70d8" opacity="0.95"/><ellipse cx="203.8" cy="183.7" rx="8.3" ry="7.3" transform="rotate(91 203.8 183.7)" fill="#3a70d8" opacity="0.95"/><ellipse cx="171.9" cy="185.6" rx="7.6" ry="7.1" transform="rotate(38 171.9 185.6)" fill="#3a70d8" opacity="0.95"/><ellipse cx="163.8" cy="168.8" rx="9.4" ry="6.5" transform="rotate(82 163.8 168.8)" fill="#3a70d8" opacity="0.95"/><ellipse cx="76.7" cy="67.0" rx="8.0" ry="6.1" transform="rotate(2 76.7 67.0)" fill="#3a70d8" opacity="0.95"/><ellipse cx="124.8" cy="16.0" rx="7.6" ry="7.2" transform="rotate(33 124.8 16.0)" fill="#3a70d8" opacity="0.95"/></g><g filter="url(#b1)"><ellipse cx="165.1" cy="107.4" rx="8.4" ry="5.0" transform="rotate(-10 165.1 107.4)" fill="#2a7cf0"/><ellipse cx="112.3" cy="121.7" rx="7.4" ry="5.0" transform="rotate(-4 112.3 121.7)" fill="#2a7cf0"/><ellipse cx="157.4" cy="79.3" rx="8.0" ry="5.4" fill="#2a7cf0"/><ellipse cx="159.6" cy="137.2" rx="8.3" ry="4.9" transform="rotate(30 159.6 137.2)" fill="#2a7cf0"/><ellipse cx="203.6" cy="103" rx="8.9" ry="6.0" transform="rotate(7 203.6 103)" fill="#2a7cf0"/><ellipse cx="125" cy="95" rx="8.0" ry="5.7" transform="rotate(-12 125 95)" fill="#2a7cf0"/><ellipse cx="182" cy="60" rx="7.8" ry="5.6" transform="rotate(-6 182 60)" fill="#2a7cf0"/><ellipse cx="140" cy="60" rx="7.2" ry="6.1" transform="rotate(3 140 60)" fill="#2a7cf0"/></g><g filter="url(#b1)"><ellipse cx="98.4" cy="45.1" rx="7.3" ry="5.6" transform="rotate(-8 98.4 45.1)" fill="#30c8d8"/><ellipse cx="116" cy="45.8" rx="8.2" ry="7.0" transform="rotate(-19 116 45.8)" fill="#30c8d8"/><ellipse cx="186" cy="48" rx="7.7" ry="5.6" transform="rotate(-3 186 48)" fill="#30c8d8"/><ellipse cx="202.5" cy="17.2" rx="8.5" ry="7.0" transform="rotate(20 202.5 17.2)" fill="#30c8d8"/><ellipse cx="73.7" cy="101.5" rx="8.5" ry="7.2" transform="rotate(10 73.7 101.5)" fill="#30c8d8"/><ellipse cx="66" cy="123.3" rx="7.9" ry="6.0" transform="rotate(8 66 123.3)" fill="#30c8d8"/><ellipse cx="79.7" cy="135" rx="7.6" ry="5.7" transform="rotate(-3 79.7 135)" fill="#30c8d8"/><ellipse cx="95.8" cy="142.2" rx="8.7" ry="5.8" transform="rotate(4 95.8 142.2)" fill="#30c8d8"/><ellipse cx="125" cy="156.3" rx="7.8" ry="6.5" transform="rotate(-18 125 156.3)" fill="#30c8d8"/><ellipse cx="140.9" cy="158" rx="8.9" ry="6.0" transform="rotate(5 140.9 158)" fill="#30c8d8"/><ellipse cx="164" cy="159.2" rx="7.8" ry="5.5" transform="rotate(3 164 159.2)" fill="#30c8d8"/><ellipse cx="183.8" cy="159.2" rx="7.3" ry="5.6" transform="rotate(-23 183.8 159.2)" fill="#30c8d8"/><ellipse cx="88" cy="77.7" rx="7.3" ry="5.7" transform="rotate(7 88 77.7)" fill="#30c8d8"/><ellipse cx="79.3" cy="85.4" rx="8.0" ry="7.5" transform="rotate(22 79.3 85.4)" fill="#30c8d8"/><ellipse cx="121" cy="65.6" rx="9.0" ry="6.0" transform="rotate(-3 121 65.6)" fill="#30c8d8"/><ellipse cx="150" cy="20" rx="7.5" ry="6.7" transform="rotate(6 150 20)" fill="#30c8d8"/><ellipse cx="170" cy="12" rx="8.6" ry="6.9" transform="rotate(-12 170 12)" fill="#30c8d8"/><ellipse cx="134" cy="30" rx="7.8" ry="6.6" transform="rotate(-25 134 30)" fill="#30c8d8"/><ellipse cx="203" cy="150" rx="7.1" ry="6.3" transform="rotate(-19 203 150)" fill="#30c8d8"/></g><path d="M208.5 6.6L138 7.3C125 9 100 24 87 37S60 80 56 92S54 125 65 136S100 155 116 160S160 168 178 165S200 160 209 156" fill="none" stroke="#fff" stroke-width="3.9" stroke-dasharray="8.5 5"/><path d="M208.5 29.3C195 27 160 30 145 35S105 60 96 74S84 108 90 118S115 138 134 143S180 147 195 143L209 138" fill="none" stroke="#fff" stroke-width="3.9" stroke-dasharray="8.5 5"/><rect x="170.3" y="193" width="25.7" height="6" fill="#fff"/><text class="w" transform="translate(9.8 25.6) scale(1 1.035)">Merge</text><text class="w" transform="translate(95.8 114) scale(1 1.035)">CTB</text><text class="w" transform="translate(15.2 184) scale(1 1.035)">STB</text></svg><svg x="717.0" y="1298.9" width="208.9" height="208.9" viewBox="0 0 209 209" preserveAspectRatio="none"><rect width="210" height="210" fill="#000"/><path d="M-3 -3L44 1.8C60 10 75 25 88 35S120 58 132 66S165 85 176 92S197 100 196 110S196 128 194 134S184 143 180 147S175 155 174 160S168 175 167 180L165 212L-3 212Z" fill="#120201" filter="url(#b4)"/><g filter="url(#b2)"><ellipse cx="24.2" cy="70" rx="7.5" ry="9.3" transform="rotate(26 24.2 70)" fill="#4a0a06" opacity="0.5"/><ellipse cx="22" cy="108.5" rx="7.1" ry="9.5" transform="rotate(14 22 108.5)" fill="#4a0a06" opacity="0.5"/><ellipse cx="68.2" cy="125" rx="6.5" ry="8.9" fill="#4a0a06" opacity="0.5"/><ellipse cx="47.3" cy="132.7" rx="7.1" ry="9.2" transform="rotate(29 47.3 132.7)" fill="#4a0a06" opacity="0.5"/><ellipse cx="61.6" cy="152.6" rx="6.5" ry="8.4" transform="rotate(16 61.6 152.6)" fill="#4a0a06" opacity="0.5"/><ellipse cx="83.7" cy="144.9" rx="7.5" ry="7.9" transform="rotate(24 83.7 144.9)" fill="#4a0a06" opacity="0.5"/><ellipse cx="95.8" cy="171.3" rx="6.6" ry="8.1" transform="rotate(14 95.8 171.3)" fill="#4a0a06" opacity="0.5"/><ellipse cx="8.8" cy="164.7" rx="8.4" ry="7.7" transform="rotate(33 8.8 164.7)" fill="#4a0a06" opacity="0.5"/><ellipse cx="35.2" cy="162.5" rx="6.9" ry="8.6" transform="rotate(15 35.2 162.5)" fill="#4a0a06" opacity="0.5"/><ellipse cx="105.7" cy="186.7" rx="7.4" ry="9.0" transform="rotate(15 105.7 186.7)" fill="#4a0a06" opacity="0.5"/><ellipse cx="59.4" cy="92" rx="6.7" ry="7.7" transform="rotate(-1 59.4 92)" fill="#4a0a06" opacity="0.5"/><ellipse cx="17.6" cy="180" rx="8.2" ry="8.8" transform="rotate(43 17.6 180)" fill="#4a0a06" opacity="0.5"/><ellipse cx="127.7" cy="144.9" rx="7.9" ry="7.5" transform="rotate(28 127.7 144.9)" fill="#4a0a06" opacity="0.5"/><ellipse cx="4" cy="60" rx="8.1" ry="8.9" transform="rotate(20 4 60)" fill="#4a0a06" opacity="0.5"/><ellipse cx="100" cy="110" rx="7.2" ry="8.4" transform="rotate(35 100 110)" fill="#4a0a06" opacity="0.5"/><ellipse cx="116" cy="128" rx="7.0" ry="8.6" transform="rotate(19 116 128)" fill="#4a0a06" opacity="0.5"/><ellipse cx="75" cy="195" rx="8.4" ry="9.1" transform="rotate(42 75 195)" fill="#4a0a06" opacity="0.5"/><ellipse cx="40" cy="200" rx="8.2" ry="8.1" transform="rotate(7 40 200)" fill="#4a0a06" opacity="0.5"/><ellipse cx="120" cy="200" rx="7.5" ry="8.0" transform="rotate(16 120 200)" fill="#4a0a06" opacity="0.5"/><ellipse cx="10" cy="20" rx="7.9" ry="9.3" transform="rotate(24 10 20)" fill="#4a0a06" opacity="0.5"/></g><path d="M-3 -3L30 -3L20 8L0 12Z" fill="#c01a10" filter="url(#b1)"/><g filter="url(#b1)" opacity="1"><ellipse cx="55.7" cy="49.1" rx="9" ry="10.5" transform="rotate(-25 55.7 49.1)" fill="#b81a10" stroke="#f52a1a" stroke-width="3"/><ellipse cx="74.4" cy="67.8" rx="10" ry="7.5" transform="rotate(25 74.4 67.8)" fill="#b81a10" stroke="#f52a1a" stroke-width="3"/><ellipse cx="92" cy="75.5" rx="6" ry="8" transform="rotate(10 92 75.5)" fill="#b81a10" stroke="#f52a1a" stroke-width="3"/><ellipse cx="109.6" cy="80" rx="8.2" ry="8.2" fill="#b81a10" stroke="#f52a1a" stroke-width="3"/><ellipse cx="131.6" cy="85.4" rx="6" ry="8.2" fill="#b81a10" stroke="#f52a1a" stroke-width="3"/><ellipse cx="155.9" cy="99.7" rx="4.3" ry="5.2" fill="#b81a10" stroke="#f52a1a" stroke-width="3"/><ellipse cx="148.2" cy="111" rx="3.5999999999999996" ry="3.5999999999999996" fill="#b81a10" stroke="#f52a1a" stroke-width="3"/><ellipse cx="144.9" cy="132.7" rx="4.5" ry="7.800000000000001" transform="rotate(8 144.9 132.7)" fill="#b81a10" stroke="#f52a1a" stroke-width="3"/><ellipse cx="139.4" cy="158" rx="5.2" ry="10" fill="#b81a10" stroke="#f52a1a" stroke-width="3"/><ellipse cx="142.6" cy="184.5" rx="5.6" ry="6.7" fill="#b81a10" stroke="#f52a1a" stroke-width="3"/><ellipse cx="143.8" cy="205" rx="6.7" ry="6" fill="#b81a10" stroke="#f52a1a" stroke-width="3"/></g><rect x="170.3" y="193" width="25.7" height="6" fill="#fff"/><text class="w" transform="translate(9.8 25.6) scale(1 1.035)">PEG10</text></svg><svg x="930.0" y="1298.9" width="209.9" height="208.9" viewBox="0 0 209 209" preserveAspectRatio="none"><rect width="210" height="210" fill="#000"/><path d="M-3 -3L44 1.8C60 10 75 25 88 35S120 58 132 66S165 85 176 92S197 100 196 110S196 128 194 134S184 143 180 147S175 155 174 160S168 175 167 180L165 212L-3 212Z" fill="#051707" filter="url(#b4)"/><path d="M44 2C60 10 75 25 88 35S120 58 132 66S165 85 176 92S197 100 196 110S196 128 194 134S184 143 180 147S175 155 174 160L167 180L165 212" fill="none" stroke="#0d3512" stroke-width="34" filter="url(#b4)" transform="translate(-14 10)"/><g filter="url(#b1)"><ellipse cx="68.2" cy="37" rx="7.1" ry="4.7" transform="rotate(13 68.2 37)" fill="#238a34" opacity="0.7"/><ellipse cx="85.9" cy="52.4" rx="7.5" ry="4.8" transform="rotate(16 85.9 52.4)" fill="#238a34" opacity="0.7"/><ellipse cx="105.7" cy="61.2" rx="5.6" ry="4.7" transform="rotate(40 105.7 61.2)" fill="#238a34" opacity="0.7"/><ellipse cx="125.5" cy="67.8" rx="7.5" ry="5.8" transform="rotate(1 125.5 67.8)" fill="#238a34" opacity="0.7"/><ellipse cx="145.3" cy="76.6" rx="6.1" ry="5.0" transform="rotate(29 145.3 76.6)" fill="#238a34" opacity="0.7"/><ellipse cx="167.3" cy="89.8" rx="6.9" ry="5.4" transform="rotate(21 167.3 89.8)" fill="#238a34" opacity="0.7"/><ellipse cx="184.9" cy="107.4" rx="5.7" ry="5.6" transform="rotate(42 184.9 107.4)" fill="#238a34" opacity="0.7"/><ellipse cx="184.9" cy="127.2" rx="7.0" ry="4.7" transform="rotate(21 184.9 127.2)" fill="#238a34" opacity="0.7"/><ellipse cx="174" cy="138.2" rx="6.9" ry="5.0" transform="rotate(40 174 138.2)" fill="#238a34" opacity="0.7"/><ellipse cx="163" cy="151.5" rx="6.4" ry="5.9" transform="rotate(15 163 151.5)" fill="#238a34" opacity="0.7"/><ellipse cx="158.5" cy="169" rx="7.5" ry="6.1" transform="rotate(24 158.5 169)" fill="#238a34" opacity="0.7"/><ellipse cx="158.5" cy="191" rx="5.8" ry="5.4" transform="rotate(-4 158.5 191)" fill="#238a34" opacity="0.7"/><ellipse cx="39.6" cy="12.8" rx="6.7" ry="6.3" transform="rotate(4 39.6 12.8)" fill="#238a34" opacity="0.7"/><ellipse cx="55" cy="26" rx="6.5" ry="5.5" transform="rotate(15 55 26)" fill="#238a34" opacity="0.7"/><ellipse cx="22" cy="8" rx="6.9" ry="6.4" transform="rotate(30 22 8)" fill="#238a34" opacity="0.7"/><ellipse cx="176" cy="118" rx="6.4" ry="6.4" transform="rotate(12 176 118)" fill="#238a34" opacity="0.7"/><ellipse cx="160" cy="205" rx="7.0" ry="5.8" transform="rotate(33 160 205)" fill="#238a34" opacity="0.7"/><ellipse cx="96" cy="50" rx="7.2" ry="4.9" transform="rotate(26 96 50)" fill="#238a34" opacity="0.7"/><ellipse cx="5" cy="6" rx="6.3" ry="5.8" transform="rotate(44 5 6)" fill="#238a34" opacity="0.7"/></g><g filter="url(#b1)"><ellipse cx="24.2" cy="70" rx="6.5" ry="8.3" transform="rotate(26 24.2 70)" fill="#259a38" opacity="0.8"/><ellipse cx="22" cy="108.5" rx="6.1" ry="8.5" transform="rotate(14 22 108.5)" fill="#259a38" opacity="0.8"/><ellipse cx="68.2" cy="125" rx="5.5" ry="7.9" fill="#259a38" opacity="0.8"/><ellipse cx="47.3" cy="132.7" rx="6.1" ry="8.2" transform="rotate(29 47.3 132.7)" fill="#259a38" opacity="0.8"/><ellipse cx="61.6" cy="152.6" rx="5.5" ry="7.4" transform="rotate(16 61.6 152.6)" fill="#259a38" opacity="0.8"/><ellipse cx="83.7" cy="144.9" rx="6.5" ry="6.9" transform="rotate(24 83.7 144.9)" fill="#259a38" opacity="0.8"/><ellipse cx="95.8" cy="171.3" rx="5.6" ry="7.1" transform="rotate(14 95.8 171.3)" fill="#259a38" opacity="0.8"/><ellipse cx="8.8" cy="164.7" rx="7.4" ry="6.7" transform="rotate(33 8.8 164.7)" fill="#259a38" opacity="0.8"/><ellipse cx="35.2" cy="162.5" rx="5.9" ry="7.6" transform="rotate(15 35.2 162.5)" fill="#259a38" opacity="0.8"/><ellipse cx="105.7" cy="186.7" rx="6.4" ry="8.0" transform="rotate(15 105.7 186.7)" fill="#259a38" opacity="0.8"/><ellipse cx="59.4" cy="92" rx="5.7" ry="6.7" transform="rotate(-1 59.4 92)" fill="#259a38" opacity="0.8"/><ellipse cx="17.6" cy="180" rx="7.2" ry="7.8" transform="rotate(43 17.6 180)" fill="#259a38" opacity="0.8"/><ellipse cx="127.7" cy="144.9" rx="6.9" ry="6.5" transform="rotate(28 127.7 144.9)" fill="#259a38" opacity="0.8"/><ellipse cx="4" cy="60" rx="7.1" ry="7.9" transform="rotate(20 4 60)" fill="#259a38" opacity="0.8"/><ellipse cx="100" cy="110" rx="6.2" ry="7.4" transform="rotate(35 100 110)" fill="#259a38" opacity="0.8"/><ellipse cx="116" cy="128" rx="6.0" ry="7.6" transform="rotate(19 116 128)" fill="#259a38" opacity="0.8"/><ellipse cx="75" cy="195" rx="7.4" ry="8.1" transform="rotate(42 75 195)" fill="#259a38" opacity="0.8"/><ellipse cx="40" cy="200" rx="7.2" ry="7.1" transform="rotate(7 40 200)" fill="#259a38" opacity="0.8"/><ellipse cx="120" cy="200" rx="6.5" ry="7.0" transform="rotate(16 120 200)" fill="#259a38" opacity="0.8"/><ellipse cx="10" cy="20" rx="6.9" ry="8.3" transform="rotate(24 10 20)" fill="#259a38" opacity="0.8"/></g><g filter="url(#b1)"><ellipse cx="52.8" cy="45.8" rx="7" ry="10" transform="rotate(-30 52.8 45.8)" fill="#36ea58"/><ellipse cx="71.5" cy="67.8" rx="9" ry="6.5" transform="rotate(30 71.5 67.8)" fill="#36ea58"/><ellipse cx="91.4" cy="77.7" rx="6" ry="7" fill="#36ea58"/><ellipse cx="109.4" cy="81" rx="7" ry="8.5" fill="#36ea58"/><ellipse cx="132" cy="84.3" rx="5.5" ry="8" fill="#36ea58"/><ellipse cx="156.7" cy="98.2" rx="7" ry="6" fill="#36ea58"/><ellipse cx="139.1" cy="159.2" rx="5.2" ry="9.5" fill="#36ea58"/><ellipse cx="165.1" cy="125" rx="5.5" ry="5.5" fill="#36ea58"/><ellipse cx="145.3" cy="133.8" rx="4.5" ry="6" fill="#36ea58"/><ellipse cx="140.9" cy="188.9" rx="5.5" ry="7.5" fill="#36ea58"/></g><rect x="170.3" y="193" width="25.7" height="6" fill="#fff"/><text class="w" transform="translate(9.8 25.6) scale(1 1.035)">METTL3</text></svg><svg x="1143.0" y="1298.9" width="208.9" height="208.9" viewBox="0 0 209 209" preserveAspectRatio="none"><rect width="210" height="210" fill="#000"/><path d="M-3 -3L44 1.8C60 10 75 25 88 35S120 58 132 66S165 85 176 92S197 100 196 110S196 128 194 134S184 143 180 147S175 155 174 160S168 175 167 180L165 212L-3 212Z" fill="#020218" filter="url(#b4)"/><g filter="url(#b1)"><ellipse cx="68.2" cy="37" rx="7.1" ry="4.7" transform="rotate(13 68.2 37)" fill="#2030ff" opacity="0.95"/><ellipse cx="85.9" cy="52.4" rx="7.5" ry="4.8" transform="rotate(16 85.9 52.4)" fill="#2030ff" opacity="0.95"/><ellipse cx="105.7" cy="61.2" rx="5.6" ry="4.7" transform="rotate(40 105.7 61.2)" fill="#2030ff" opacity="0.95"/><ellipse cx="125.5" cy="67.8" rx="7.5" ry="5.8" transform="rotate(1 125.5 67.8)" fill="#2030ff" opacity="0.95"/><ellipse cx="145.3" cy="76.6" rx="6.1" ry="5.0" transform="rotate(29 145.3 76.6)" fill="#2030ff" opacity="0.95"/><ellipse cx="167.3" cy="89.8" rx="6.9" ry="5.4" transform="rotate(21 167.3 89.8)" fill="#2030ff" opacity="0.95"/><ellipse cx="184.9" cy="107.4" rx="5.7" ry="5.6" transform="rotate(42 184.9 107.4)" fill="#2030ff" opacity="0.95"/><ellipse cx="184.9" cy="127.2" rx="7.0" ry="4.7" transform="rotate(21 184.9 127.2)" fill="#2030ff" opacity="0.95"/><ellipse cx="174" cy="138.2" rx="6.9" ry="5.0" transform="rotate(40 174 138.2)" fill="#2030ff" opacity="0.95"/><ellipse cx="163" cy="151.5" rx="6.4" ry="5.9" transform="rotate(15 163 151.5)" fill="#2030ff" opacity="0.95"/><ellipse cx="158.5" cy="169" rx="7.5" ry="6.1" transform="rotate(24 158.5 169)" fill="#2030ff" opacity="0.95"/><ellipse cx="158.5" cy="191" rx="5.8" ry="5.4" transform="rotate(-4 158.5 191)" fill="#2030ff" opacity="0.95"/><ellipse cx="39.6" cy="12.8" rx="6.7" ry="6.3" transform="rotate(4 39.6 12.8)" fill="#2030ff" opacity="0.95"/><ellipse cx="55" cy="26" rx="6.5" ry="5.5" transform="rotate(15 55 26)" fill="#2030ff" opacity="0.95"/><ellipse cx="22" cy="8" rx="6.9" ry="6.4" transform="rotate(30 22 8)" fill="#2030ff" opacity="0.95"/><ellipse cx="176" cy="118" rx="6.4" ry="6.4" transform="rotate(12 176 118)" fill="#2030ff" opacity="0.95"/><ellipse cx="160" cy="205" rx="7.0" ry="5.8" transform="rotate(33 160 205)" fill="#2030ff" opacity="0.95"/><ellipse cx="96" cy="50" rx="7.2" ry="4.9" transform="rotate(26 96 50)" fill="#2030ff" opacity="0.95"/><ellipse cx="5" cy="6" rx="6.3" ry="5.8" transform="rotate(44 5 6)" fill="#2030ff" opacity="0.95"/></g><g filter="url(#b1)"><ellipse cx="24.2" cy="70" rx="6.5" ry="8.3" transform="rotate(26 24.2 70)" fill="#1d2cff" opacity="0.95"/><ellipse cx="22" cy="108.5" rx="6.1" ry="8.5" transform="rotate(14 22 108.5)" fill="#1d2cff" opacity="0.95"/><ellipse cx="68.2" cy="125" rx="5.5" ry="7.9" fill="#1d2cff" opacity="0.95"/><ellipse cx="47.3" cy="132.7" rx="6.1" ry="8.2" transform="rotate(29 47.3 132.7)" fill="#1d2cff" opacity="0.95"/><ellipse cx="61.6" cy="152.6" rx="5.5" ry="7.4" transform="rotate(16 61.6 152.6)" fill="#1d2cff" opacity="0.95"/><ellipse cx="83.7" cy="144.9" rx="6.5" ry="6.9" transform="rotate(24 83.7 144.9)" fill="#1d2cff" opacity="0.95"/><ellipse cx="95.8" cy="171.3" rx="5.6" ry="7.1" transform="rotate(14 95.8 171.3)" fill="#1d2cff" opacity="0.95"/><ellipse cx="8.8" cy="164.7" rx="7.4" ry="6.7" transform="rotate(33 8.8 164.7)" fill="#1d2cff" opacity="0.95"/><ellipse cx="35.2" cy="162.5" rx="5.9" ry="7.6" transform="rotate(15 35.2 162.5)" fill="#1d2cff" opacity="0.95"/><ellipse cx="105.7" cy="186.7" rx="6.4" ry="8.0" transform="rotate(15 105.7 186.7)" fill="#1d2cff" opacity="0.95"/><ellipse cx="59.4" cy="92" rx="5.7" ry="6.7" transform="rotate(-1 59.4 92)" fill="#1d2cff" opacity="0.95"/><ellipse cx="17.6" cy="180" rx="7.2" ry="7.8" transform="rotate(43 17.6 180)" fill="#1d2cff" opacity="0.95"/><ellipse cx="127.7" cy="144.9" rx="6.9" ry="6.5" transform="rotate(28 127.7 144.9)" fill="#1d2cff" opacity="0.95"/><ellipse cx="4" cy="60" rx="7.1" ry="7.9" transform="rotate(20 4 60)" fill="#1d2cff" opacity="0.95"/><ellipse cx="100" cy="110" rx="6.2" ry="7.4" transform="rotate(35 100 110)" fill="#1d2cff" opacity="0.95"/><ellipse cx="116" cy="128" rx="6.0" ry="7.6" transform="rotate(19 116 128)" fill="#1d2cff" opacity="0.95"/><ellipse cx="75" cy="195" rx="7.4" ry="8.1" transform="rotate(42 75 195)" fill="#1d2cff" opacity="0.95"/><ellipse cx="40" cy="200" rx="7.2" ry="7.1" transform="rotate(7 40 200)" fill="#1d2cff" opacity="0.95"/><ellipse cx="120" cy="200" rx="6.5" ry="7.0" transform="rotate(16 120 200)" fill="#1d2cff" opacity="0.95"/><ellipse cx="10" cy="20" rx="6.9" ry="8.3" transform="rotate(24 10 20)" fill="#1d2cff" opacity="0.95"/></g><g filter="url(#b1)"><ellipse cx="52.8" cy="45.8" rx="7" ry="10" transform="rotate(-30 52.8 45.8)" fill="#2232ff" opacity="0.95"/><ellipse cx="71.5" cy="67.8" rx="9" ry="6.5" transform="rotate(30 71.5 67.8)" fill="#2232ff" opacity="0.95"/><ellipse cx="91.4" cy="77.7" rx="6" ry="7" fill="#2232ff" opacity="0.95"/><ellipse cx="109.4" cy="81" rx="7" ry="8.5" fill="#2232ff" opacity="0.95"/><ellipse cx="132" cy="84.3" rx="5.5" ry="8" fill="#2232ff" opacity="0.95"/><ellipse cx="156.7" cy="98.2" rx="7" ry="6" fill="#2232ff" opacity="0.95"/><ellipse cx="139.1" cy="159.2" rx="5.2" ry="9.5" fill="#2232ff" opacity="0.95"/><ellipse cx="165.1" cy="125" rx="5.5" ry="5.5" fill="#2232ff" opacity="0.95"/><ellipse cx="145.3" cy="133.8" rx="4.5" ry="6" fill="#2232ff" opacity="0.95"/><ellipse cx="140.9" cy="188.9" rx="5.5" ry="7.5" fill="#2232ff" opacity="0.95"/></g><rect x="170.3" y="193" width="25.7" height="6" fill="#fff"/><text class="w" transform="translate(9.8 25.6) scale(1 1.035)">DNA</text></svg><svg x="1355.95" y="1298.9" width="209.3" height="208.9" viewBox="0 0 209 209" preserveAspectRatio="none"><rect width="210" height="210" fill="#000"/><path d="M-3 -3L44 1.8C60 10 75 25 88 35S120 58 132 66S165 85 176 92S197 100 196 110S196 128 194 134S184 143 180 147S175 155 174 160S168 175 167 180L165 212L-3 212Z" fill="#040f10" filter="url(#b4)"/><path d="M44 2C60 10 75 25 88 35S120 58 132 66S165 85 176 92S197 100 196 110S196 128 194 134S184 143 180 147S175 155 174 160L167 180L165 212" fill="none" stroke="#0a2628" stroke-width="30" filter="url(#b4)" transform="translate(-12 9)"/><g filter="url(#b1)"><ellipse cx="68.2" cy="37" rx="7.1" ry="4.7" transform="rotate(13 68.2 37)" fill="#2a6ae6" opacity="0.95"/><ellipse cx="85.9" cy="52.4" rx="7.5" ry="4.8" transform="rotate(16 85.9 52.4)" fill="#2a6ae6" opacity="0.95"/><ellipse cx="105.7" cy="61.2" rx="5.6" ry="4.7" transform="rotate(40 105.7 61.2)" fill="#2a6ae6" opacity="0.95"/><ellipse cx="125.5" cy="67.8" rx="7.5" ry="5.8" transform="rotate(1 125.5 67.8)" fill="#2a6ae6" opacity="0.95"/><ellipse cx="145.3" cy="76.6" rx="6.1" ry="5.0" transform="rotate(29 145.3 76.6)" fill="#2a6ae6" opacity="0.95"/><ellipse cx="167.3" cy="89.8" rx="6.9" ry="5.4" transform="rotate(21 167.3 89.8)" fill="#2a6ae6" opacity="0.95"/><ellipse cx="184.9" cy="107.4" rx="5.7" ry="5.6" transform="rotate(42 184.9 107.4)" fill="#2a6ae6" opacity="0.95"/><ellipse cx="184.9" cy="127.2" rx="7.0" ry="4.7" transform="rotate(21 184.9 127.2)" fill="#2a6ae6" opacity="0.95"/><ellipse cx="174" cy="138.2" rx="6.9" ry="5.0" transform="rotate(40 174 138.2)" fill="#2a6ae6" opacity="0.95"/><ellipse cx="163" cy="151.5" rx="6.4" ry="5.9" transform="rotate(15 163 151.5)" fill="#2a6ae6" opacity="0.95"/><ellipse cx="158.5" cy="169" rx="7.5" ry="6.1" transform="rotate(24 158.5 169)" fill="#2a6ae6" opacity="0.95"/><ellipse cx="158.5" cy="191" rx="5.8" ry="5.4" transform="rotate(-4 158.5 191)" fill="#2a6ae6" opacity="0.95"/><ellipse cx="39.6" cy="12.8" rx="6.7" ry="6.3" transform="rotate(4 39.6 12.8)" fill="#2a6ae6" opacity="0.95"/><ellipse cx="55" cy="26" rx="6.5" ry="5.5" transform="rotate(15 55 26)" fill="#2a6ae6" opacity="0.95"/><ellipse cx="22" cy="8" rx="6.9" ry="6.4" transform="rotate(30 22 8)" fill="#2a6ae6" opacity="0.95"/><ellipse cx="176" cy="118" rx="6.4" ry="6.4" transform="rotate(12 176 118)" fill="#2a6ae6" opacity="0.95"/><ellipse cx="160" cy="205" rx="7.0" ry="5.8" transform="rotate(33 160 205)" fill="#2a6ae6" opacity="0.95"/><ellipse cx="96" cy="50" rx="7.2" ry="4.9" transform="rotate(26 96 50)" fill="#2a6ae6" opacity="0.95"/><ellipse cx="5" cy="6" rx="6.3" ry="5.8" transform="rotate(44 5 6)" fill="#2a6ae6" opacity="0.95"/></g><g filter="url(#b1)"><ellipse cx="24.2" cy="70" rx="6.5" ry="8.3" transform="rotate(26 24.2 70)" fill="#2d63e0" opacity="0.9"/><ellipse cx="22" cy="108.5" rx="6.1" ry="8.5" transform="rotate(14 22 108.5)" fill="#2d63e0" opacity="0.9"/><ellipse cx="68.2" cy="125" rx="5.5" ry="7.9" fill="#2d63e0" opacity="0.9"/><ellipse cx="47.3" cy="132.7" rx="6.1" ry="8.2" transform="rotate(29 47.3 132.7)" fill="#2d63e0" opacity="0.9"/><ellipse cx="61.6" cy="152.6" rx="5.5" ry="7.4" transform="rotate(16 61.6 152.6)" fill="#2d63e0" opacity="0.9"/><ellipse cx="83.7" cy="144.9" rx="6.5" ry="6.9" transform="rotate(24 83.7 144.9)" fill="#2d63e0" opacity="0.9"/><ellipse cx="95.8" cy="171.3" rx="5.6" ry="7.1" transform="rotate(14 95.8 171.3)" fill="#2d63e0" opacity="0.9"/><ellipse cx="8.8" cy="164.7" rx="7.4" ry="6.7" transform="rotate(33 8.8 164.7)" fill="#2d63e0" opacity="0.9"/><ellipse cx="35.2" cy="162.5" rx="5.9" ry="7.6" transform="rotate(15 35.2 162.5)" fill="#2d63e0" opacity="0.9"/><ellipse cx="105.7" cy="186.7" rx="6.4" ry="8.0" transform="rotate(15 105.7 186.7)" fill="#2d63e0" opacity="0.9"/><ellipse cx="59.4" cy="92" rx="5.7" ry="6.7" transform="rotate(-1 59.4 92)" fill="#2d63e0" opacity="0.9"/><ellipse cx="17.6" cy="180" rx="7.2" ry="7.8" transform="rotate(43 17.6 180)" fill="#2d63e0" opacity="0.9"/><ellipse cx="127.7" cy="144.9" rx="6.9" ry="6.5" transform="rotate(28 127.7 144.9)" fill="#2d63e0" opacity="0.9"/><ellipse cx="4" cy="60" rx="7.1" ry="7.9" transform="rotate(20 4 60)" fill="#2d63e0" opacity="0.9"/><ellipse cx="100" cy="110" rx="6.2" ry="7.4" transform="rotate(35 100 110)" fill="#2d63e0" opacity="0.9"/><ellipse cx="116" cy="128" rx="6.0" ry="7.6" transform="rotate(19 116 128)" fill="#2d63e0" opacity="0.9"/><ellipse cx="75" cy="195" rx="7.4" ry="8.1" transform="rotate(42 75 195)" fill="#2d63e0" opacity="0.9"/><ellipse cx="40" cy="200" rx="7.2" ry="7.1" transform="rotate(7 40 200)" fill="#2d63e0" opacity="0.9"/><ellipse cx="120" cy="200" rx="6.5" ry="7.0" transform="rotate(16 120 200)" fill="#2d63e0" opacity="0.9"/><ellipse cx="10" cy="20" rx="6.9" ry="8.3" transform="rotate(24 10 20)" fill="#2d63e0" opacity="0.9"/></g><g filter="url(#b1)" opacity="1"><ellipse cx="55.7" cy="49.1" rx="9" ry="10.5" transform="rotate(-25 55.7 49.1)" fill="#d86a78" stroke="#f0301e" stroke-width="3"/><ellipse cx="74.4" cy="67.8" rx="10" ry="7.5" transform="rotate(25 74.4 67.8)" fill="#d86a78" stroke="#f0301e" stroke-width="3"/><ellipse cx="92" cy="75.5" rx="6" ry="8" transform="rotate(10 92 75.5)" fill="#d86a78" stroke="#f0301e" stroke-width="3"/><ellipse cx="109.6" cy="80" rx="8.2" ry="8.2" fill="#d86a78" stroke="#f0301e" stroke-width="3"/><ellipse cx="131.6" cy="85.4" rx="6" ry="8.2" fill="#d86a78" stroke="#f0301e" stroke-width="3"/><ellipse cx="155.9" cy="99.7" rx="4.3" ry="5.2" fill="#d86a78" stroke="#f0301e" stroke-width="3"/><ellipse cx="148.2" cy="111" rx="3.5999999999999996" ry="3.5999999999999996" fill="#d86a78" stroke="#f0301e" stroke-width="3"/><ellipse cx="144.9" cy="132.7" rx="4.5" ry="7.800000000000001" transform="rotate(8 144.9 132.7)" fill="#d86a78" stroke="#f0301e" stroke-width="3"/><ellipse cx="139.4" cy="158" rx="5.2" ry="10" fill="#d86a78" stroke="#f0301e" stroke-width="3"/><ellipse cx="142.6" cy="184.5" rx="5.6" ry="6.7" fill="#d86a78" stroke="#f0301e" stroke-width="3"/><ellipse cx="143.8" cy="205" rx="6.7" ry="6" fill="#d86a78" stroke="#f0301e" stroke-width="3"/></g><g filter="url(#b1)"><ellipse cx="52.8" cy="45.8" rx="5" ry="8" transform="rotate(-30 52.8 45.8)" fill="#7fd6c8" opacity="0.9"/><ellipse cx="71.5" cy="67.8" rx="7" ry="4.5" transform="rotate(30 71.5 67.8)" fill="#7fd6c8" opacity="0.9"/><ellipse cx="91.4" cy="77.7" rx="4" ry="5" fill="#7fd6c8" opacity="0.9"/><ellipse cx="109.4" cy="81" rx="5" ry="6.5" fill="#7fd6c8" opacity="0.9"/><ellipse cx="132" cy="84.3" rx="3.5" ry="6" fill="#7fd6c8" opacity="0.9"/><ellipse cx="156.7" cy="98.2" rx="5" ry="4" fill="#7fd6c8" opacity="0.9"/><ellipse cx="139.1" cy="159.2" rx="3.2" ry="7.5" fill="#7fd6c8" opacity="0.9"/><ellipse cx="165.1" cy="125" rx="3.5" ry="3.5" fill="#7fd6c8" opacity="0.9"/><ellipse cx="145.3" cy="133.8" rx="2.5" ry="4" fill="#7fd6c8" opacity="0.9"/><ellipse cx="140.9" cy="188.9" rx="3.5" ry="5.5" fill="#7fd6c8" opacity="0.9"/></g><path d="M37.9 38L54.4 32.6L76.4 52.4L100.6 63.4L124.8 72.2L146.8 81L155.6 92L168.9 96.4L168.9 105.2L160 116.2L157.8 136L153.4 151.5L149 169L151.2 186.7L155.6 206M135.8 206L131.4 180L129.2 151.5L138 136L142.4 116.2L138 100.8L120.4 92L94 85.4L67.6 74.4L50 61.2L41.2 48L37.9 38" fill="none" stroke="#fff" stroke-width="3.9" stroke-dasharray="8.5 5"/><rect x="170.3" y="193" width="25.7" height="6" fill="#fff"/><text class="w" transform="translate(9.8 25.6) scale(1 1.035)">Merge</text><text class="w" transform="translate(147.3 64.5) scale(1 1.035)">STB</text><text class="w" transform="translate(76.4 126.1) scale(1 1.035)">CTB</text></svg></g>
<g id="panel-e" class="t"><g fill="#365f8b"><circle cx="1745.8" cy="1251.4" r="4.3"/><circle cx="1749.8" cy="1245.4" r="4.3"/><circle cx="1743.8" cy="1241.4" r="4.3"/><circle cx="1749.5" cy="1236.9" r="4.3"/><circle cx="1742.9" cy="1234.0" r="4.3"/><circle cx="1748.2" cy="1229.1" r="4.3"/><circle cx="1737.9" cy="1228.8" r="4.3"/><circle cx="1755.1" cy="1227.1" r="4.3"/><circle cx="1743.7" cy="1223.4" r="4.3"/><circle cx="1733.6" cy="1222.9" r="4.3"/><circle cx="1749.2" cy="1218.7" r="4.3"/><circle cx="1745.8" cy="1211.6" r="4.3"/><circle cx="1745.8" cy="1201.0" r="4.3"/><circle cx="1752.9" cy="1199.6" r="4.3"/><circle cx="1738.8" cy="1199.2" r="4.3"/><circle cx="1745.8" cy="1189.6" r="4.3"/><circle cx="1751.2" cy="1184.8" r="4.3"/><circle cx="1740.8" cy="1184.4" r="4.3"/><circle cx="1745.8" cy="1175.7" r="4.3"/><circle cx="1752.4" cy="1172.6" r="4.3"/><circle cx="1739.3" cy="1172.6" r="4.3"/><circle cx="1732.1" cy="1171.8" r="4.3"/><circle cx="1745.8" cy="1166.3" r="4.3"/><circle cx="1752.5" cy="1163.7" r="4.3"/><circle cx="1739.6" cy="1162.5" r="4.3"/><circle cx="1732.4" cy="1162.0" r="4.3"/><circle cx="1759.0" cy="1160.5" r="4.3"/><circle cx="1750.5" cy="1160.3" r="4.3"/><circle cx="1755.0" cy="1159.6" r="4.3"/><circle cx="1727.4" cy="1156.8" r="4.3"/><circle cx="1744.2" cy="1156.8" r="4.3"/><circle cx="1749.3" cy="1151.8" r="4.3"/><circle cx="1739.4" cy="1151.4" r="4.3"/><circle cx="1756.0" cy="1149.1" r="4.3"/><circle cx="1745.6" cy="1145.6" r="4.3"/><circle cx="1735.4" cy="1145.4" r="4.3"/><circle cx="1752.0" cy="1142.1" r="4.3"/><circle cx="1745.8" cy="1136.9" r="4.3"/><circle cx="1738.6" cy="1136.5" r="4.3"/><circle cx="1750.3" cy="1131.2" r="4.3"/><circle cx="1757.5" cy="1131.0" r="4.3"/><circle cx="1745.0" cy="1126.4" r="4.3"/><circle cx="1749.8" cy="1121.0" r="4.3"/><circle cx="1742.1" cy="1119.7" r="4.3"/><circle cx="1734.9" cy="1119.4" r="4.3"/><circle cx="1756.7" cy="1118.9" r="4.3"/><circle cx="1727.7" cy="1118.6" r="4.3"/><circle cx="1745.8" cy="1111.2" r="4.3"/><circle cx="1749.9" cy="1105.3" r="4.3"/><circle cx="1742.8" cy="1103.6" r="4.3"/><circle cx="1735.6" cy="1103.0" r="4.3"/><circle cx="1756.6" cy="1102.8" r="4.3"/><circle cx="1746.5" cy="1097.4" r="4.3"/><circle cx="1731.1" cy="1097.4" r="4.3"/><circle cx="1745.8" cy="1073.7" r="4.3"/><circle cx="1745.8" cy="1060.5" r="4.3"/><circle cx="1749.8" cy="1054.5" r="4.3"/><circle cx="1745.8" cy="1011.2" r="4.3"/><circle cx="1745.8" cy="988.1" r="4.3"/></g><g fill="#c9656d"><circle cx="1807.8" cy="1250.4" r="4.3"/><circle cx="1815.0" cy="1249.4" r="4.3"/><circle cx="1801.2" cy="1247.4" r="4.3"/><circle cx="1807.8" cy="1233.7" r="4.3"/><circle cx="1813.9" cy="1229.8" r="4.3"/><circle cx="1801.9" cy="1229.5" r="4.3"/><circle cx="1795.3" cy="1226.7" r="4.3"/><circle cx="1820.2" cy="1226.3" r="4.3"/><circle cx="1819.0" cy="1225.6" r="4.3"/><circle cx="1807.8" cy="1222.3" r="4.3"/><circle cx="1800.6" cy="1221.6" r="4.3"/><circle cx="1792.3" cy="1220.1" r="4.3"/><circle cx="1814.5" cy="1219.5" r="4.3"/><circle cx="1822.4" cy="1219.2" r="4.3"/><circle cx="1824.6" cy="1216.8" r="4.3"/><circle cx="1816.9" cy="1216.4" r="4.3"/><circle cx="1807.8" cy="1214.3" r="4.3"/><circle cx="1800.8" cy="1212.4" r="4.3"/><circle cx="1821.0" cy="1210.4" r="4.3"/><circle cx="1813.5" cy="1209.9" r="4.3"/><circle cx="1794.3" cy="1209.3" r="4.3"/><circle cx="1823.8" cy="1207.7" r="4.3"/><circle cx="1807.1" cy="1206.6" r="4.3"/><circle cx="1812.9" cy="1202.2" r="4.3"/><circle cx="1802.8" cy="1200.8" r="4.3"/><circle cx="1819.7" cy="1199.8" r="4.3"/><circle cx="1796.6" cy="1197.1" r="4.3"/><circle cx="1807.8" cy="1195.2" r="4.3"/><circle cx="1814.8" cy="1193.5" r="4.3"/><circle cx="1822.4" cy="1193.1" r="4.3"/><circle cx="1790.9" cy="1192.6" r="4.3"/><circle cx="1801.6" cy="1191.5" r="4.3"/><circle cx="1789.9" cy="1191.3" r="4.3"/><circle cx="1806.5" cy="1191.3" r="4.3"/><circle cx="1824.6" cy="1190.5" r="4.3"/><circle cx="1813.5" cy="1190.0" r="4.3"/><circle cx="1823.0" cy="1189.5" r="4.3"/><circle cx="1793.1" cy="1189.3" r="4.3"/><circle cx="1806.6" cy="1188.1" r="4.3"/><circle cx="1798.2" cy="1187.5" r="4.3"/><circle cx="1809.5" cy="1185.1" r="4.3"/><circle cx="1816.0" cy="1182.1" r="4.3"/><circle cx="1803.7" cy="1180.8" r="4.3"/><circle cx="1796.5" cy="1180.2" r="4.3"/><circle cx="1822.7" cy="1179.3" r="4.3"/><circle cx="1789.5" cy="1178.2" r="4.3"/><circle cx="1810.0" cy="1177.3" r="4.3"/><circle cx="1810.6" cy="1177.1" r="4.3"/><circle cx="1789.3" cy="1176.3" r="4.3"/><circle cx="1797.0" cy="1176.1" r="4.3"/><circle cx="1799.4" cy="1174.7" r="4.3"/><circle cx="1817.3" cy="1174.4" r="4.3"/><circle cx="1823.6" cy="1174.0" r="4.3"/><circle cx="1817.9" cy="1173.0" r="4.3"/><circle cx="1794.9" cy="1172.5" r="4.3"/><circle cx="1819.1" cy="1172.3" r="4.3"/><circle cx="1794.1" cy="1172.2" r="4.3"/><circle cx="1812.3" cy="1171.7" r="4.3"/><circle cx="1793.6" cy="1171.2" r="4.3"/><circle cx="1805.5" cy="1169.1" r="4.3"/><circle cx="1799.0" cy="1165.9" r="4.3"/><circle cx="1822.0" cy="1165.7" r="4.3"/><circle cx="1814.7" cy="1164.9" r="4.3"/><circle cx="1792.3" cy="1163.3" r="4.3"/><circle cx="1807.8" cy="1161.4" r="4.3"/><circle cx="1788.9" cy="1161.3" r="4.3"/><circle cx="1813.1" cy="1156.5" r="4.3"/><circle cx="1806.5" cy="1153.6" r="4.3"/><circle cx="1799.7" cy="1151.4" r="4.3"/><circle cx="1811.7" cy="1148.6" r="4.3"/><circle cx="1818.9" cy="1147.4" r="4.3"/><circle cx="1793.9" cy="1147.1" r="4.3"/><circle cx="1805.9" cy="1144.4" r="4.3"/><circle cx="1811.7" cy="1140.1" r="4.3"/><circle cx="1800.1" cy="1140.0" r="4.3"/><circle cx="1807.8" cy="1128.8" r="4.3"/><circle cx="1813.8" cy="1124.8" r="4.3"/><circle cx="1807.8" cy="1120.8" r="4.3"/><circle cx="1811.8" cy="1114.8" r="4.3"/></g><g fill="#365f8b"><circle cx="1869.2" cy="1301.7" r="4.3"/><circle cx="1873.2" cy="1295.7" r="4.3"/><circle cx="1866.6" cy="1292.6" r="4.3"/><circle cx="1869.2" cy="1279.6" r="4.3"/><circle cx="1869.2" cy="1251.0" r="4.3"/><circle cx="1876.1" cy="1249.0" r="4.3"/><circle cx="1864.0" cy="1246.0" r="4.3"/><circle cx="1856.8" cy="1245.9" r="4.3"/><circle cx="1870.4" cy="1242.7" r="4.3"/><circle cx="1877.5" cy="1241.4" r="4.3"/><circle cx="1864.6" cy="1238.3" r="4.3"/><circle cx="1869.2" cy="1231.1" r="4.3"/><circle cx="1875.8" cy="1228.1" r="4.3"/><circle cx="1866.0" cy="1224.7" r="4.3"/><circle cx="1858.8" cy="1223.4" r="4.3"/><circle cx="1871.9" cy="1220.6" r="4.3"/><circle cx="1879.1" cy="1220.1" r="4.3"/><circle cx="1866.5" cy="1215.9" r="4.3"/><circle cx="1869.2" cy="1208.4" r="4.3"/><circle cx="1876.4" cy="1208.2" r="4.3"/><circle cx="1863.8" cy="1203.7" r="4.3"/><circle cx="1869.2" cy="1198.9" r="4.3"/><circle cx="1876.4" cy="1198.5" r="4.3"/><circle cx="1858.8" cy="1198.4" r="4.3"/><circle cx="1883.1" cy="1195.8" r="4.3"/><circle cx="1852.5" cy="1195.0" r="4.3"/><circle cx="1883.3" cy="1194.9" r="4.3"/><circle cx="1858.2" cy="1194.5" r="4.3"/><circle cx="1866.5" cy="1192.2" r="4.3"/><circle cx="1873.5" cy="1190.8" r="4.3"/><circle cx="1858.4" cy="1190.8" r="4.3"/><circle cx="1887.5" cy="1190.4" r="4.3"/><circle cx="1883.4" cy="1189.9" r="4.3"/><circle cx="1861.2" cy="1189.5" r="4.3"/><circle cx="1851.9" cy="1187.6" r="4.3"/><circle cx="1869.2" cy="1184.5" r="4.3"/><circle cx="1871.7" cy="1177.8" r="4.3"/><circle cx="1864.5" cy="1177.7" r="4.3"/><circle cx="1879.0" cy="1177.5" r="4.3"/><circle cx="1857.8" cy="1175.2" r="4.3"/><circle cx="1868.2" cy="1171.5" r="4.3"/><circle cx="1875.0" cy="1169.1" r="4.3"/><circle cx="1882.2" cy="1169.1" r="4.3"/><circle cx="1854.0" cy="1169.0" r="4.3"/><circle cx="1869.2" cy="1163.0" r="4.3"/><circle cx="1876.3" cy="1161.5" r="4.3"/><circle cx="1862.7" cy="1159.7" r="4.3"/><circle cx="1855.5" cy="1159.5" r="4.3"/><circle cx="1882.0" cy="1157.1" r="4.3"/><circle cx="1886.7" cy="1156.5" r="4.3"/><circle cx="1870.7" cy="1156.4" r="4.3"/><circle cx="1876.0" cy="1156.4" r="4.3"/><circle cx="1858.0" cy="1155.1" r="4.3"/><circle cx="1850.7" cy="1154.1" r="4.3"/><circle cx="1869.2" cy="1149.3" r="4.3"/><circle cx="1874.1" cy="1144.0" r="4.3"/><circle cx="1864.6" cy="1143.7" r="4.3"/><circle cx="1857.5" cy="1142.0" r="4.3"/><circle cx="1881.0" cy="1141.8" r="4.3"/><circle cx="1850.7" cy="1139.8" r="4.3"/><circle cx="1887.5" cy="1138.7" r="4.3"/><circle cx="1869.2" cy="1138.1" r="4.3"/><circle cx="1886.0" cy="1138.0" r="4.3"/><circle cx="1876.4" cy="1137.5" r="4.3"/><circle cx="1886.9" cy="1136.7" r="4.3"/><circle cx="1884.2" cy="1136.5" r="4.3"/><circle cx="1862.5" cy="1135.3" r="4.3"/><circle cx="1861.6" cy="1135.0" r="4.3"/><circle cx="1863.9" cy="1134.2" r="4.3"/><circle cx="1856.5" cy="1134.1" r="4.3"/><circle cx="1855.7" cy="1133.7" r="4.3"/><circle cx="1869.2" cy="1128.6" r="4.3"/><circle cx="1873.9" cy="1123.1" r="4.3"/><circle cx="1869.2" cy="1114.4" r="4.3"/><circle cx="1876.4" cy="1113.8" r="4.3"/><circle cx="1862.0" cy="1113.6" r="4.3"/><circle cx="1854.8" cy="1113.0" r="4.3"/><circle cx="1883.5" cy="1112.7" r="4.3"/><circle cx="1870.7" cy="1107.3" r="4.3"/><circle cx="1878.6" cy="1106.9" r="4.3"/><circle cx="1863.7" cy="1105.6" r="4.3"/><circle cx="1856.8" cy="1103.6" r="4.3"/><circle cx="1884.6" cy="1102.9" r="4.3"/><circle cx="1852.7" cy="1102.6" r="4.3"/><circle cx="1861.7" cy="1101.4" r="4.3"/><circle cx="1869.2" cy="1098.5" r="4.3"/><circle cx="1876.4" cy="1097.5" r="4.3"/><circle cx="1873.1" cy="1097.2" r="4.3"/><circle cx="1857.0" cy="1095.9" r="4.3"/><circle cx="1883.3" cy="1095.6" r="4.3"/><circle cx="1869.2" cy="1088.2" r="4.3"/><circle cx="1876.4" cy="1088.2" r="4.3"/><circle cx="1862.0" cy="1087.9" r="4.3"/><circle cx="1881.6" cy="1083.2" r="4.3"/><circle cx="1871.7" cy="1081.4" r="4.3"/><circle cx="1867.7" cy="1075.4" r="4.3"/><circle cx="1875.6" cy="1075.4" r="4.3"/><circle cx="1860.8" cy="1073.5" r="4.3"/><circle cx="1880.3" cy="1069.9" r="4.3"/><circle cx="1870.0" cy="1068.6" r="4.3"/><circle cx="1864.4" cy="1063.9" r="4.3"/><circle cx="1874.2" cy="1062.8" r="4.3"/><circle cx="1857.5" cy="1062.1" r="4.3"/><circle cx="1881.3" cy="1061.4" r="4.3"/><circle cx="1869.2" cy="1052.2" r="4.3"/><circle cx="1876.0" cy="1049.8" r="4.3"/><circle cx="1862.5" cy="1049.4" r="4.3"/><circle cx="1869.2" cy="1043.2" r="4.3"/><circle cx="1869.2" cy="1024.9" r="4.3"/><circle cx="1874.7" cy="1020.3" r="4.3"/><circle cx="1866.3" cy="1018.3" r="4.3"/><circle cx="1860.3" cy="1014.2" r="4.3"/><circle cx="1869.2" cy="1011.2" r="4.3"/></g><g fill="#c9656d"><circle cx="1931.0" cy="1307.7" r="4.3"/><circle cx="1937.9" cy="1305.7" r="4.3"/><circle cx="1924.5" cy="1304.7" r="4.3"/><circle cx="1917.3" cy="1303.7" r="4.3"/><circle cx="1931.0" cy="1299.7" r="4.3"/><circle cx="1937.0" cy="1295.7" r="4.3"/><circle cx="1931.0" cy="1290.5" r="4.3"/><circle cx="1935.8" cy="1285.1" r="4.3"/><circle cx="1928.7" cy="1283.5" r="4.3"/><circle cx="1921.8" cy="1281.5" r="4.3"/><circle cx="1933.5" cy="1278.1" r="4.3"/><circle cx="1940.7" cy="1277.0" r="4.3"/><circle cx="1926.7" cy="1275.6" r="4.3"/><circle cx="1918.3" cy="1275.2" r="4.3"/><circle cx="1945.9" cy="1272.0" r="4.3"/><circle cx="1931.0" cy="1269.6" r="4.3"/><circle cx="1937.3" cy="1266.0" r="4.3"/><circle cx="1925.4" cy="1265.0" r="4.3"/><circle cx="1918.2" cy="1264.0" r="4.3"/><circle cx="1944.1" cy="1263.7" r="4.3"/><circle cx="1931.4" cy="1261.0" r="4.3"/><circle cx="1912.1" cy="1260.7" r="4.3"/><circle cx="1949.9" cy="1259.3" r="4.3"/><circle cx="1938.0" cy="1258.1" r="4.3"/><circle cx="1924.5" cy="1257.8" r="4.3"/><circle cx="1937.8" cy="1257.7" r="4.3"/><circle cx="1917.7" cy="1255.6" r="4.3"/><circle cx="1924.8" cy="1255.5" r="4.3"/><circle cx="1923.8" cy="1255.4" r="4.3"/><circle cx="1931.7" cy="1253.3" r="4.3"/><circle cx="1943.2" cy="1253.0" r="4.3"/><circle cx="1943.1" cy="1252.8" r="4.3"/><circle cx="1930.3" cy="1251.7" r="4.3"/><circle cx="1912.5" cy="1250.5" r="4.3"/><circle cx="1936.5" cy="1247.8" r="4.3"/><circle cx="1924.4" cy="1247.6" r="4.3"/><circle cx="1946.3" cy="1246.4" r="4.3"/><circle cx="1924.0" cy="1245.6" r="4.3"/><circle cx="1931.0" cy="1243.1" r="4.3"/><circle cx="1917.4" cy="1242.6" r="4.3"/><circle cx="1940.3" cy="1241.7" r="4.3"/><circle cx="1930.3" cy="1241.4" r="4.3"/><circle cx="1938.8" cy="1241.4" r="4.3"/><circle cx="1914.2" cy="1241.2" r="4.3"/><circle cx="1949.1" cy="1241.0" r="4.3"/><circle cx="1912.9" cy="1240.5" r="4.3"/><circle cx="1940.5" cy="1239.2" r="4.3"/><circle cx="1944.1" cy="1238.5" r="4.3"/><circle cx="1926.2" cy="1235.5" r="4.3"/><circle cx="1933.3" cy="1234.0" r="4.3"/><circle cx="1919.2" cy="1233.9" r="4.3"/><circle cx="1949.3" cy="1233.5" r="4.3"/><circle cx="1912.7" cy="1233.5" r="4.3"/><circle cx="1941.9" cy="1233.4" r="4.3"/><circle cx="1925.9" cy="1233.1" r="4.3"/><circle cx="1934.0" cy="1232.7" r="4.3"/><circle cx="1912.3" cy="1231.7" r="4.3"/><circle cx="1913.8" cy="1231.5" r="4.3"/><circle cx="1918.9" cy="1231.4" r="4.3"/><circle cx="1948.3" cy="1231.0" r="4.3"/><circle cx="1919.5" cy="1230.0" r="4.3"/><circle cx="1940.7" cy="1228.9" r="4.3"/><circle cx="1947.3" cy="1228.8" r="4.3"/><circle cx="1947.8" cy="1228.3" r="4.3"/><circle cx="1925.1" cy="1228.0" r="4.3"/><circle cx="1925.5" cy="1227.9" r="4.3"/><circle cx="1931.9" cy="1227.9" r="4.3"/><circle cx="1941.5" cy="1227.9" r="4.3"/><circle cx="1916.1" cy="1227.6" r="4.3"/><circle cx="1940.4" cy="1227.0" r="4.3"/><circle cx="1942.3" cy="1226.9" r="4.3"/><circle cx="1944.7" cy="1226.0" r="4.3"/><circle cx="1913.4" cy="1225.3" r="4.3"/><circle cx="1947.9" cy="1224.5" r="4.3"/><circle cx="1915.5" cy="1224.3" r="4.3"/><circle cx="1924.9" cy="1224.2" r="4.3"/><circle cx="1935.2" cy="1224.1" r="4.3"/><circle cx="1946.9" cy="1224.1" r="4.3"/><circle cx="1924.9" cy="1223.9" r="4.3"/><circle cx="1930.6" cy="1218.6" r="4.3"/><circle cx="1938.8" cy="1217.8" r="4.3"/><circle cx="1922.9" cy="1217.0" r="4.3"/><circle cx="1915.7" cy="1216.9" r="4.3"/><circle cx="1945.9" cy="1216.5" r="4.3"/><circle cx="1947.1" cy="1215.7" r="4.3"/><circle cx="1932.7" cy="1214.6" r="4.3"/><circle cx="1923.9" cy="1214.5" r="4.3"/><circle cx="1924.0" cy="1212.4" r="4.3"/><circle cx="1918.7" cy="1212.2" r="4.3"/><circle cx="1915.0" cy="1211.4" r="4.3"/><circle cx="1938.7" cy="1210.6" r="4.3"/><circle cx="1931.0" cy="1206.5" r="4.3"/><circle cx="1944.6" cy="1206.4" r="4.3"/><circle cx="1917.7" cy="1206.2" r="4.3"/><circle cx="1938.2" cy="1204.7" r="4.3"/><circle cx="1924.5" cy="1203.4" r="4.3"/><circle cx="1949.9" cy="1202.3" r="4.3"/><circle cx="1912.2" cy="1201.5" r="4.3"/><circle cx="1918.1" cy="1201.2" r="4.3"/><circle cx="1913.8" cy="1201.0" r="4.3"/><circle cx="1949.5" cy="1199.9" r="4.3"/><circle cx="1932.3" cy="1199.9" r="4.3"/><circle cx="1942.1" cy="1198.6" r="4.3"/><circle cx="1928.8" cy="1193.5" r="4.3"/><circle cx="1935.9" cy="1192.3" r="4.3"/><circle cx="1921.7" cy="1192.0" r="4.3"/><circle cx="1944.0" cy="1191.7" r="4.3"/><circle cx="1914.7" cy="1190.3" r="4.3"/><circle cx="1927.4" cy="1189.6" r="4.3"/><circle cx="1921.0" cy="1188.1" r="4.3"/><circle cx="1949.6" cy="1187.1" r="4.3"/><circle cx="1934.6" cy="1186.5" r="4.3"/><circle cx="1943.4" cy="1186.5" r="4.3"/><circle cx="1929.3" cy="1186.3" r="4.3"/><circle cx="1928.0" cy="1185.4" r="4.3"/><circle cx="1918.4" cy="1181.3" r="4.3"/><circle cx="1914.1" cy="1181.2" r="4.3"/><circle cx="1932.2" cy="1179.6" r="4.3"/><circle cx="1939.5" cy="1179.5" r="4.3"/><circle cx="1946.6" cy="1178.6" r="4.3"/><circle cx="1925.1" cy="1178.5" r="4.3"/><circle cx="1946.8" cy="1176.5" r="4.3"/><circle cx="1913.2" cy="1176.0" r="4.3"/><circle cx="1930.8" cy="1175.7" r="4.3"/><circle cx="1943.9" cy="1175.5" r="4.3"/><circle cx="1937.2" cy="1172.4" r="4.3"/><circle cx="1921.2" cy="1172.4" r="4.3"/><circle cx="1931.0" cy="1166.5" r="4.3"/><circle cx="1937.9" cy="1164.4" r="4.3"/><circle cx="1924.9" cy="1162.7" r="4.3"/><circle cx="1931.0" cy="1150.9" r="4.3"/><circle cx="1937.0" cy="1146.9" r="4.3"/><circle cx="1931.0" cy="1142.9" r="4.3"/><circle cx="1937.0" cy="1138.9" r="4.3"/></g><path d="M1745.8 1084.6V1213.2M1733.8 1084.6h24M1733.8 1213.2h24M1725.3 1148.9h41M1807.8 1159.0V1233.3M1795.8 1159.0h24M1795.8 1233.3h24M1787.3 1196.6h41M1869.2 1081.6V1222.3M1857.2 1081.6h24M1857.2 1222.3h24M1848.7 1152.3h41M1931.0 1182.1V1261.5M1919.0 1182.1h24M1919.0 1261.5h24M1910.5 1221.3h41" stroke="#000" stroke-width="4.2" fill="none"/><path d="M1705.4 962.0V1366.0M1686.9 1366.0H1976M1686.9 1265.5H1705.4M1686.9 1165.0H1705.4M1686.9 1064.5H1705.4M1686.9 964.0H1705.4M1745.8 1366.0v17M1807.8 1366.0v17M1869.2 1366.0v17M1931.0 1366.0v17" stroke="#000" stroke-width="4.7" fill="none"/><text transform="translate(1683.4 1376.5) scale(1 1.035)" text-anchor="end">0</text><text transform="translate(1683.4 1276.0) scale(1 1.035)" text-anchor="end">50</text><text transform="translate(1683.4 1175.5) scale(1 1.035)" text-anchor="end">100</text><text transform="translate(1683.4 1075.0) scale(1 1.035)" text-anchor="end">150</text><text transform="translate(1683.4 974.5) scale(1 1.035)" text-anchor="end">200</text><text transform="translate(1621.6 1158.5) rotate(-90) scale(1 1.035)" text-anchor="middle">Fluorescence intensity/Area</text><text transform="translate(1759.8 1401.3) rotate(-45) scale(1 1.035)" text-anchor="end">CTB</text><text transform="translate(1824.3999999999999 1401.3) rotate(-45) scale(1 1.035)" text-anchor="end">STB</text><text transform="translate(1885.8 1401.3) rotate(-45) scale(1 1.035)" text-anchor="end">CTB</text><text transform="translate(1945.5 1401.3) rotate(-45) scale(1 1.035)" text-anchor="end">STB</text><path d="M1712.1 1444.6H1795.4M1838.1 1444.6H1921.3M1745.5 971.4H1807.4M1869 996.5H1931" stroke="#000" stroke-width="1.9" fill="none"/><text transform="translate(1753 1474) scale(1 1.035)" text-anchor="middle">METTL3</text><text transform="translate(1887.4 1474) scale(1 1.035)" text-anchor="middle">METTL14</text><text transform="translate(1714.3 961.8) scale(1 1.035)" font-size="24"><tspan class="i">p</tspan>=2.54E-06</text><text transform="translate(1837.8 986.5) scale(1 1.035)" font-size="24"><tspan class="i">p</tspan>=2.44E-17</text></g>
</svg>
</body></html>
